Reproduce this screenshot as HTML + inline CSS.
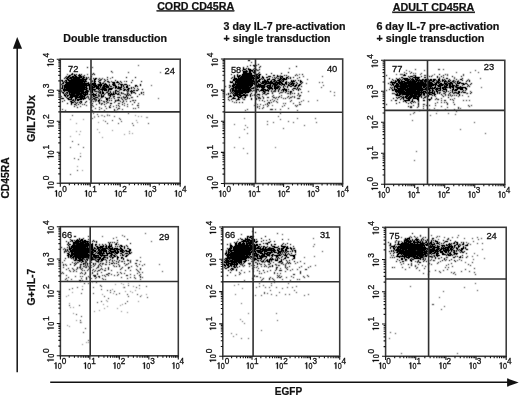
<!DOCTYPE html><html><head><meta charset="utf-8"><style>html,body{margin:0;padding:0;background:#fff;}svg{display:block;will-change:transform;}</style></head><body>
<svg width="520" height="396" viewBox="0 0 520 396" font-family='"Liberation Sans", sans-serif' fill="#111">
<rect width="520" height="396" fill="#fff"/>
<defs><filter id="bl" x="-5%" y="-5%" width="110%" height="110%"><feConvolveMatrix order="3" kernelMatrix="1 3 1 3 12 3 1 3 1" divisor="20" edgeMode="none"/></filter><path id="one" d="M0 0V-6.2H-1.0L-2.1 -5.1V-4.6L-1.0 -5.3V0Z"/><path id="one2" d="M0 0V-6.4H-1.0L-2.1 -5.3V-4.8L-1.0 -5.5V0Z"/></defs>
<path d="M61 80h1v1h-1zM61 84h1v1h-1zM61 88h1v1h-1zM61 91h1v1h-1zM61 96h1v1h-1zM61 98h1v1h-1zM62 80h1v1h-1zM62 81h1v1h-1zM62 83h1v1h-1zM62 85h1v1h-1zM62 86h1v1h-1zM62 87h1v1h-1zM62 88h1v1h-1zM62 92h1v1h-1zM62 98h1v1h-1zM62 101h1v1h-1zM63 82h1v1h-1zM63 83h1v1h-1zM63 89h1v1h-1zM63 90h1v1h-1zM63 92h1v1h-1zM63 93h1v1h-1zM63 98h1v1h-1zM64 78h1v1h-1zM64 81h1v1h-1zM64 85h1v1h-1zM64 86h1v1h-1zM64 87h1v1h-1zM64 88h1v1h-1zM64 89h1v1h-1zM64 90h1v1h-1zM64 91h1v1h-1zM64 94h1v1h-1zM64 95h1v1h-1zM64 100h1v1h-1zM65 77h1v1h-1zM65 80h1v1h-1zM65 82h1v1h-1zM65 84h1v1h-1zM65 85h1v1h-1zM65 86h1v1h-1zM65 87h1v1h-1zM65 89h1v1h-1zM65 90h1v1h-1zM65 93h1v1h-1zM65 95h1v1h-1zM65 96h1v1h-1zM66 76h1v1h-1zM66 78h1v1h-1zM66 80h1v1h-1zM66 81h1v1h-1zM66 82h1v1h-1zM66 83h1v1h-1zM66 84h1v1h-1zM66 85h1v1h-1zM66 86h1v1h-1zM66 87h1v1h-1zM66 88h1v1h-1zM66 89h1v1h-1zM66 90h1v1h-1zM66 92h1v1h-1zM66 94h1v1h-1zM66 97h1v1h-1zM67 77h1v1h-1zM67 78h1v1h-1zM67 79h1v1h-1zM67 82h1v1h-1zM67 83h1v1h-1zM67 84h1v1h-1zM67 85h1v1h-1zM67 86h1v1h-1zM67 87h1v1h-1zM67 88h1v1h-1zM67 89h1v1h-1zM67 90h1v1h-1zM67 92h1v1h-1zM67 93h1v1h-1zM67 95h1v1h-1zM67 96h1v1h-1zM67 98h1v1h-1zM67 103h1v1h-1zM68 76h1v1h-1zM68 77h1v1h-1zM68 79h1v1h-1zM68 80h1v1h-1zM68 82h1v1h-1zM68 83h1v1h-1zM68 84h1v1h-1zM68 85h1v1h-1zM68 86h1v1h-1zM68 87h1v1h-1zM68 88h1v1h-1zM68 89h1v1h-1zM68 90h1v1h-1zM68 91h1v1h-1zM68 95h1v1h-1zM68 98h1v1h-1zM68 99h1v1h-1zM69 75h1v1h-1zM69 76h1v1h-1zM69 78h1v1h-1zM69 80h1v1h-1zM69 81h1v1h-1zM69 82h1v1h-1zM69 83h1v1h-1zM69 84h1v1h-1zM69 85h1v1h-1zM69 86h1v1h-1zM69 87h1v1h-1zM69 88h1v1h-1zM69 89h1v1h-1zM69 90h1v1h-1zM69 91h1v1h-1zM69 92h1v1h-1zM69 93h1v1h-1zM69 94h1v1h-1zM69 97h1v1h-1zM69 99h1v1h-1zM70 75h1v1h-1zM70 77h1v1h-1zM70 78h1v1h-1zM70 80h1v1h-1zM70 81h1v1h-1zM70 82h1v1h-1zM70 83h1v1h-1zM70 84h1v1h-1zM70 85h1v1h-1zM70 86h1v1h-1zM70 87h1v1h-1zM70 88h1v1h-1zM70 89h1v1h-1zM70 90h1v1h-1zM70 91h1v1h-1zM70 92h1v1h-1zM70 94h1v1h-1zM70 95h1v1h-1zM70 96h1v1h-1zM70 97h1v1h-1zM70 99h1v1h-1zM70 101h1v1h-1zM71 74h1v1h-1zM71 77h1v1h-1zM71 78h1v1h-1zM71 79h1v1h-1zM71 80h1v1h-1zM71 81h1v1h-1zM71 82h1v1h-1zM71 83h1v1h-1zM71 84h1v1h-1zM71 85h1v1h-1zM71 86h1v1h-1zM71 87h1v1h-1zM71 88h1v1h-1zM71 89h1v1h-1zM71 90h1v1h-1zM71 91h1v1h-1zM71 92h1v1h-1zM71 93h1v1h-1zM71 94h1v1h-1zM71 95h1v1h-1zM71 96h1v1h-1zM71 97h1v1h-1zM71 98h1v1h-1zM71 99h1v1h-1zM71 101h1v1h-1zM71 102h1v1h-1zM71 103h1v1h-1zM71 104h1v1h-1zM72 73h1v1h-1zM72 74h1v1h-1zM72 76h1v1h-1zM72 77h1v1h-1zM72 79h1v1h-1zM72 80h1v1h-1zM72 81h1v1h-1zM72 82h1v1h-1zM72 83h1v1h-1zM72 84h1v1h-1zM72 85h1v1h-1zM72 86h1v1h-1zM72 87h1v1h-1zM72 88h1v1h-1zM72 89h1v1h-1zM72 90h1v1h-1zM72 91h1v1h-1zM72 92h1v1h-1zM72 93h1v1h-1zM72 94h1v1h-1zM72 95h1v1h-1zM72 96h1v1h-1zM72 97h1v1h-1zM72 100h1v1h-1zM72 102h1v1h-1zM73 76h1v1h-1zM73 77h1v1h-1zM73 78h1v1h-1zM73 79h1v1h-1zM73 80h1v1h-1zM73 81h1v1h-1zM73 82h1v1h-1zM73 83h1v1h-1zM73 84h1v1h-1zM73 85h1v1h-1zM73 86h1v1h-1zM73 87h1v1h-1zM73 88h1v1h-1zM73 89h1v1h-1zM73 90h1v1h-1zM73 91h1v1h-1zM73 92h1v1h-1zM73 93h1v1h-1zM73 94h1v1h-1zM73 95h1v1h-1zM73 96h1v1h-1zM73 99h1v1h-1zM73 100h1v1h-1zM73 102h1v1h-1zM74 74h1v1h-1zM74 75h1v1h-1zM74 77h1v1h-1zM74 78h1v1h-1zM74 79h1v1h-1zM74 80h1v1h-1zM74 81h1v1h-1zM74 82h1v1h-1zM74 83h1v1h-1zM74 84h1v1h-1zM74 85h1v1h-1zM74 86h1v1h-1zM74 87h1v1h-1zM74 88h1v1h-1zM74 89h1v1h-1zM74 90h1v1h-1zM74 91h1v1h-1zM74 92h1v1h-1zM74 93h1v1h-1zM74 94h1v1h-1zM74 95h1v1h-1zM74 96h1v1h-1zM74 101h1v1h-1zM74 104h1v1h-1zM74 106h1v1h-1zM75 75h1v1h-1zM75 76h1v1h-1zM75 77h1v1h-1zM75 78h1v1h-1zM75 79h1v1h-1zM75 80h1v1h-1zM75 81h1v1h-1zM75 82h1v1h-1zM75 83h1v1h-1zM75 84h1v1h-1zM75 85h1v1h-1zM75 86h1v1h-1zM75 87h1v1h-1zM75 88h1v1h-1zM75 89h1v1h-1zM75 90h1v1h-1zM75 91h1v1h-1zM75 92h1v1h-1zM75 93h1v1h-1zM75 95h1v1h-1zM75 96h1v1h-1zM75 97h1v1h-1zM75 98h1v1h-1zM75 99h1v1h-1zM75 100h1v1h-1zM75 102h1v1h-1zM75 104h1v1h-1zM76 74h1v1h-1zM76 76h1v1h-1zM76 77h1v1h-1zM76 78h1v1h-1zM76 79h1v1h-1zM76 80h1v1h-1zM76 81h1v1h-1zM76 82h1v1h-1zM76 83h1v1h-1zM76 84h1v1h-1zM76 85h1v1h-1zM76 86h1v1h-1zM76 87h1v1h-1zM76 88h1v1h-1zM76 89h1v1h-1zM76 90h1v1h-1zM76 91h1v1h-1zM76 92h1v1h-1zM76 93h1v1h-1zM76 94h1v1h-1zM76 95h1v1h-1zM76 96h1v1h-1zM76 97h1v1h-1zM76 98h1v1h-1zM76 103h1v1h-1zM77 77h1v1h-1zM77 78h1v1h-1zM77 79h1v1h-1zM77 80h1v1h-1zM77 81h1v1h-1zM77 82h1v1h-1zM77 83h1v1h-1zM77 84h1v1h-1zM77 85h1v1h-1zM77 86h1v1h-1zM77 87h1v1h-1zM77 88h1v1h-1zM77 89h1v1h-1zM77 90h1v1h-1zM77 91h1v1h-1zM77 92h1v1h-1zM77 93h1v1h-1zM77 94h1v1h-1zM77 95h1v1h-1zM77 96h1v1h-1zM77 97h1v1h-1zM77 99h1v1h-1zM77 100h1v1h-1zM77 102h1v1h-1zM77 107h1v1h-1zM78 75h1v1h-1zM78 77h1v1h-1zM78 78h1v1h-1zM78 79h1v1h-1zM78 80h1v1h-1zM78 81h1v1h-1zM78 82h1v1h-1zM78 83h1v1h-1zM78 84h1v1h-1zM78 85h1v1h-1zM78 86h1v1h-1zM78 87h1v1h-1zM78 88h1v1h-1zM78 89h1v1h-1zM78 90h1v1h-1zM78 91h1v1h-1zM78 92h1v1h-1zM78 93h1v1h-1zM78 94h1v1h-1zM78 95h1v1h-1zM78 97h1v1h-1zM78 99h1v1h-1zM78 100h1v1h-1zM78 104h1v1h-1zM79 74h1v1h-1zM79 75h1v1h-1zM79 76h1v1h-1zM79 77h1v1h-1zM79 78h1v1h-1zM79 79h1v1h-1zM79 80h1v1h-1zM79 81h1v1h-1zM79 82h1v1h-1zM79 83h1v1h-1zM79 84h1v1h-1zM79 85h1v1h-1zM79 86h1v1h-1zM79 87h1v1h-1zM79 88h1v1h-1zM79 89h1v1h-1zM79 90h1v1h-1zM79 91h1v1h-1zM79 92h1v1h-1zM79 93h1v1h-1zM79 94h1v1h-1zM79 96h1v1h-1zM79 97h1v1h-1zM79 99h1v1h-1zM79 102h1v1h-1zM80 75h1v1h-1zM80 76h1v1h-1zM80 77h1v1h-1zM80 79h1v1h-1zM80 80h1v1h-1zM80 81h1v1h-1zM80 82h1v1h-1zM80 83h1v1h-1zM80 84h1v1h-1zM80 85h1v1h-1zM80 86h1v1h-1zM80 87h1v1h-1zM80 88h1v1h-1zM80 89h1v1h-1zM80 90h1v1h-1zM80 91h1v1h-1zM80 93h1v1h-1zM80 94h1v1h-1zM80 95h1v1h-1zM80 96h1v1h-1zM80 97h1v1h-1zM80 98h1v1h-1zM80 99h1v1h-1zM80 101h1v1h-1zM80 103h1v1h-1zM81 74h1v1h-1zM81 76h1v1h-1zM81 77h1v1h-1zM81 79h1v1h-1zM81 80h1v1h-1zM81 81h1v1h-1zM81 82h1v1h-1zM81 83h1v1h-1zM81 84h1v1h-1zM81 85h1v1h-1zM81 86h1v1h-1zM81 87h1v1h-1zM81 88h1v1h-1zM81 89h1v1h-1zM81 90h1v1h-1zM81 91h1v1h-1zM81 92h1v1h-1zM81 93h1v1h-1zM81 94h1v1h-1zM81 95h1v1h-1zM81 96h1v1h-1zM81 97h1v1h-1zM81 98h1v1h-1zM81 99h1v1h-1zM81 101h1v1h-1zM81 102h1v1h-1zM82 78h1v1h-1zM82 79h1v1h-1zM82 80h1v1h-1zM82 81h1v1h-1zM82 82h1v1h-1zM82 83h1v1h-1zM82 84h1v1h-1zM82 85h1v1h-1zM82 86h1v1h-1zM82 87h1v1h-1zM82 88h1v1h-1zM82 89h1v1h-1zM82 90h1v1h-1zM82 91h1v1h-1zM82 92h1v1h-1zM82 93h1v1h-1zM82 95h1v1h-1zM82 96h1v1h-1zM82 97h1v1h-1zM82 98h1v1h-1zM83 76h1v1h-1zM83 77h1v1h-1zM83 78h1v1h-1zM83 79h1v1h-1zM83 80h1v1h-1zM83 81h1v1h-1zM83 83h1v1h-1zM83 84h1v1h-1zM83 85h1v1h-1zM83 86h1v1h-1zM83 87h1v1h-1zM83 88h1v1h-1zM83 89h1v1h-1zM83 90h1v1h-1zM83 91h1v1h-1zM83 92h1v1h-1zM83 93h1v1h-1zM83 94h1v1h-1zM83 96h1v1h-1zM83 98h1v1h-1zM83 99h1v1h-1zM84 75h1v1h-1zM84 77h1v1h-1zM84 79h1v1h-1zM84 81h1v1h-1zM84 82h1v1h-1zM84 83h1v1h-1zM84 84h1v1h-1zM84 85h1v1h-1zM84 86h1v1h-1zM84 87h1v1h-1zM84 88h1v1h-1zM84 89h1v1h-1zM84 92h1v1h-1zM84 94h1v1h-1zM84 95h1v1h-1zM84 96h1v1h-1zM84 97h1v1h-1zM84 98h1v1h-1zM84 104h1v1h-1zM85 79h1v1h-1zM85 80h1v1h-1zM85 81h1v1h-1zM85 83h1v1h-1zM85 84h1v1h-1zM85 85h1v1h-1zM85 87h1v1h-1zM85 89h1v1h-1zM85 91h1v1h-1zM85 92h1v1h-1zM85 93h1v1h-1zM85 94h1v1h-1zM85 95h1v1h-1zM85 98h1v1h-1zM85 102h1v1h-1zM86 77h1v1h-1zM86 78h1v1h-1zM86 79h1v1h-1zM86 81h1v1h-1zM86 83h1v1h-1zM86 84h1v1h-1zM86 85h1v1h-1zM86 86h1v1h-1zM86 87h1v1h-1zM86 88h1v1h-1zM86 89h1v1h-1zM86 90h1v1h-1zM86 91h1v1h-1zM86 92h1v1h-1zM86 94h1v1h-1zM86 97h1v1h-1zM86 101h1v1h-1zM87 67h1v1h-1zM87 83h1v1h-1zM87 85h1v1h-1zM87 88h1v1h-1zM87 90h1v1h-1zM87 91h1v1h-1zM87 92h1v1h-1zM87 93h1v1h-1zM87 94h1v1h-1zM87 96h1v1h-1zM88 77h1v1h-1zM88 82h1v1h-1zM88 83h1v1h-1zM88 84h1v1h-1zM88 85h1v1h-1zM88 91h1v1h-1zM88 97h1v1h-1zM89 84h1v1h-1zM89 85h1v1h-1zM89 86h1v1h-1zM89 87h1v1h-1zM89 88h1v1h-1zM89 89h1v1h-1zM89 94h1v1h-1zM89 99h1v1h-1zM90 79h1v1h-1zM90 83h1v1h-1zM90 85h1v1h-1zM90 87h1v1h-1zM90 88h1v1h-1zM90 89h1v1h-1zM90 90h1v1h-1zM90 91h1v1h-1zM90 98h1v1h-1zM91 76h1v1h-1zM91 81h1v1h-1zM91 84h1v1h-1zM91 85h1v1h-1zM91 86h1v1h-1zM91 87h1v1h-1zM91 88h1v1h-1zM91 89h1v1h-1zM91 91h1v1h-1zM91 92h1v1h-1zM91 94h1v1h-1zM91 95h1v1h-1zM91 96h1v1h-1zM91 100h1v1h-1zM91 101h1v1h-1zM91 105h1v1h-1zM91 107h1v1h-1zM92 74h1v1h-1zM92 81h1v1h-1zM92 83h1v1h-1zM92 84h1v1h-1zM92 86h1v1h-1zM92 87h1v1h-1zM92 88h1v1h-1zM92 89h1v1h-1zM92 90h1v1h-1zM92 91h1v1h-1zM92 92h1v1h-1zM92 94h1v1h-1zM92 99h1v1h-1zM92 103h1v1h-1zM93 73h1v1h-1zM93 78h1v1h-1zM93 83h1v1h-1zM93 84h1v1h-1zM93 85h1v1h-1zM93 87h1v1h-1zM93 89h1v1h-1zM93 93h1v1h-1zM93 94h1v1h-1zM93 95h1v1h-1zM93 96h1v1h-1zM93 98h1v1h-1zM93 101h1v1h-1zM94 74h1v1h-1zM94 79h1v1h-1zM94 80h1v1h-1zM94 81h1v1h-1zM94 82h1v1h-1zM94 83h1v1h-1zM94 84h1v1h-1zM94 85h1v1h-1zM94 86h1v1h-1zM94 87h1v1h-1zM94 89h1v1h-1zM94 90h1v1h-1zM94 94h1v1h-1zM94 96h1v1h-1zM94 98h1v1h-1zM94 99h1v1h-1zM95 78h1v1h-1zM95 79h1v1h-1zM95 81h1v1h-1zM95 83h1v1h-1zM95 84h1v1h-1zM95 85h1v1h-1zM95 86h1v1h-1zM95 89h1v1h-1zM95 91h1v1h-1zM95 94h1v1h-1zM95 95h1v1h-1zM95 97h1v1h-1zM95 100h1v1h-1zM96 78h1v1h-1zM96 85h1v1h-1zM96 86h1v1h-1zM96 87h1v1h-1zM96 88h1v1h-1zM96 91h1v1h-1zM96 93h1v1h-1zM96 95h1v1h-1zM96 97h1v1h-1zM97 86h1v1h-1zM97 87h1v1h-1zM97 88h1v1h-1zM97 97h1v1h-1zM98 81h1v1h-1zM98 84h1v1h-1zM98 85h1v1h-1zM98 86h1v1h-1zM98 87h1v1h-1zM98 88h1v1h-1zM98 89h1v1h-1zM98 91h1v1h-1zM98 96h1v1h-1zM98 100h1v1h-1zM98 101h1v1h-1zM99 80h1v1h-1zM99 82h1v1h-1zM99 84h1v1h-1zM99 85h1v1h-1zM99 88h1v1h-1zM99 90h1v1h-1zM99 92h1v1h-1zM99 99h1v1h-1zM99 100h1v1h-1zM99 102h1v1h-1zM99 103h1v1h-1zM100 80h1v1h-1zM100 82h1v1h-1zM100 83h1v1h-1zM100 84h1v1h-1zM100 85h1v1h-1zM100 86h1v1h-1zM100 87h1v1h-1zM100 89h1v1h-1zM100 91h1v1h-1zM100 92h1v1h-1zM100 93h1v1h-1zM101 79h1v1h-1zM101 84h1v1h-1zM101 85h1v1h-1zM101 89h1v1h-1zM101 94h1v1h-1zM101 95h1v1h-1zM101 96h1v1h-1zM101 97h1v1h-1zM101 100h1v1h-1zM101 104h1v1h-1zM102 83h1v1h-1zM102 87h1v1h-1zM102 88h1v1h-1zM102 89h1v1h-1zM102 90h1v1h-1zM102 91h1v1h-1zM102 92h1v1h-1zM102 93h1v1h-1zM102 96h1v1h-1zM103 83h1v1h-1zM103 85h1v1h-1zM103 86h1v1h-1zM103 87h1v1h-1zM103 88h1v1h-1zM103 89h1v1h-1zM103 92h1v1h-1zM103 93h1v1h-1zM103 95h1v1h-1zM103 96h1v1h-1zM103 101h1v1h-1zM104 79h1v1h-1zM104 81h1v1h-1zM104 84h1v1h-1zM104 85h1v1h-1zM104 86h1v1h-1zM104 87h1v1h-1zM104 88h1v1h-1zM104 89h1v1h-1zM104 90h1v1h-1zM104 94h1v1h-1zM104 104h1v1h-1zM105 80h1v1h-1zM105 83h1v1h-1zM105 84h1v1h-1zM105 86h1v1h-1zM105 88h1v1h-1zM105 89h1v1h-1zM105 90h1v1h-1zM105 97h1v1h-1zM106 84h1v1h-1zM106 85h1v1h-1zM106 86h1v1h-1zM106 87h1v1h-1zM106 89h1v1h-1zM106 90h1v1h-1zM106 92h1v1h-1zM106 98h1v1h-1zM106 99h1v1h-1zM106 101h1v1h-1zM107 77h1v1h-1zM107 79h1v1h-1zM107 81h1v1h-1zM107 85h1v1h-1zM107 86h1v1h-1zM107 87h1v1h-1zM107 92h1v1h-1zM107 98h1v1h-1zM107 99h1v1h-1zM107 100h1v1h-1zM107 102h1v1h-1zM108 81h1v1h-1zM108 86h1v1h-1zM108 87h1v1h-1zM108 89h1v1h-1zM108 90h1v1h-1zM108 91h1v1h-1zM108 93h1v1h-1zM108 94h1v1h-1zM109 82h1v1h-1zM109 84h1v1h-1zM109 85h1v1h-1zM109 88h1v1h-1zM109 89h1v1h-1zM109 93h1v1h-1zM109 95h1v1h-1zM109 97h1v1h-1zM109 98h1v1h-1zM109 100h1v1h-1zM110 86h1v1h-1zM110 88h1v1h-1zM110 89h1v1h-1zM110 91h1v1h-1zM110 92h1v1h-1zM110 94h1v1h-1zM110 95h1v1h-1zM110 96h1v1h-1zM110 103h1v1h-1zM110 105h1v1h-1zM111 71h1v1h-1zM111 86h1v1h-1zM111 88h1v1h-1zM111 89h1v1h-1zM111 93h1v1h-1zM111 94h1v1h-1zM111 100h1v1h-1zM111 103h1v1h-1zM112 77h1v1h-1zM112 82h1v1h-1zM112 84h1v1h-1zM112 88h1v1h-1zM112 94h1v1h-1zM113 82h1v1h-1zM113 83h1v1h-1zM113 84h1v1h-1zM113 85h1v1h-1zM113 87h1v1h-1zM113 92h1v1h-1zM113 93h1v1h-1zM113 94h1v1h-1zM113 96h1v1h-1zM114 82h1v1h-1zM114 83h1v1h-1zM114 84h1v1h-1zM114 85h1v1h-1zM114 94h1v1h-1zM114 96h1v1h-1zM114 98h1v1h-1zM115 80h1v1h-1zM115 85h1v1h-1zM115 86h1v1h-1zM115 87h1v1h-1zM115 88h1v1h-1zM115 90h1v1h-1zM115 91h1v1h-1zM115 92h1v1h-1zM115 93h1v1h-1zM115 100h1v1h-1zM115 101h1v1h-1zM116 82h1v1h-1zM116 86h1v1h-1zM116 87h1v1h-1zM116 90h1v1h-1zM116 93h1v1h-1zM116 111h1v1h-1zM117 81h1v1h-1zM117 82h1v1h-1zM117 88h1v1h-1zM117 91h1v1h-1zM117 94h1v1h-1zM117 100h1v1h-1zM118 82h1v1h-1zM118 84h1v1h-1zM118 86h1v1h-1zM118 87h1v1h-1zM118 88h1v1h-1zM118 91h1v1h-1zM118 93h1v1h-1zM118 94h1v1h-1zM118 97h1v1h-1zM118 99h1v1h-1zM118 100h1v1h-1zM118 103h1v1h-1zM118 105h1v1h-1zM119 83h1v1h-1zM119 87h1v1h-1zM119 88h1v1h-1zM119 97h1v1h-1zM120 81h1v1h-1zM120 84h1v1h-1zM120 87h1v1h-1zM120 88h1v1h-1zM120 89h1v1h-1zM121 82h1v1h-1zM121 84h1v1h-1zM121 85h1v1h-1zM121 86h1v1h-1zM121 87h1v1h-1zM121 89h1v1h-1zM121 92h1v1h-1zM121 93h1v1h-1zM121 98h1v1h-1zM122 84h1v1h-1zM122 99h1v1h-1zM122 102h1v1h-1zM122 104h1v1h-1zM123 85h1v1h-1zM123 86h1v1h-1zM123 88h1v1h-1zM123 90h1v1h-1zM123 93h1v1h-1zM123 101h1v1h-1zM124 84h1v1h-1zM124 87h1v1h-1zM124 89h1v1h-1zM124 90h1v1h-1zM124 97h1v1h-1zM125 84h1v1h-1zM125 89h1v1h-1zM125 94h1v1h-1zM125 97h1v1h-1zM125 99h1v1h-1zM126 77h1v1h-1zM126 81h1v1h-1zM126 84h1v1h-1zM126 86h1v1h-1zM126 87h1v1h-1zM126 90h1v1h-1zM126 95h1v1h-1zM126 96h1v1h-1zM127 85h1v1h-1zM127 86h1v1h-1zM127 87h1v1h-1zM127 89h1v1h-1zM127 91h1v1h-1zM127 93h1v1h-1zM127 94h1v1h-1zM127 97h1v1h-1zM127 98h1v1h-1zM128 88h1v1h-1zM128 89h1v1h-1zM128 90h1v1h-1zM128 95h1v1h-1zM129 85h1v1h-1zM129 88h1v1h-1zM129 94h1v1h-1zM129 98h1v1h-1zM130 91h1v1h-1zM130 95h1v1h-1zM130 101h1v1h-1zM131 82h1v1h-1zM131 87h1v1h-1zM131 88h1v1h-1zM131 90h1v1h-1zM131 91h1v1h-1zM131 92h1v1h-1zM131 93h1v1h-1zM131 97h1v1h-1zM132 80h1v1h-1zM132 91h1v1h-1zM133 87h1v1h-1zM133 90h1v1h-1zM133 92h1v1h-1zM133 100h1v1h-1zM134 88h1v1h-1zM134 90h1v1h-1zM134 92h1v1h-1zM134 102h1v1h-1zM135 77h1v1h-1zM135 85h1v1h-1zM135 86h1v1h-1zM135 93h1v1h-1zM135 100h1v1h-1zM136 85h1v1h-1zM136 90h1v1h-1zM137 86h1v1h-1zM137 90h1v1h-1zM137 96h1v1h-1zM137 105h1v1h-1zM138 89h1v1h-1zM139 94h1v1h-1zM140 84h1v1h-1zM140 85h1v1h-1zM141 81h1v1h-1zM141 92h1v1h-1zM141 93h1v1h-1zM142 89h1v1h-1zM143 92h1v1h-1z" fill="#000" filter="url(#bl)"/>
<path d="M61 90h1v1h-1zM62 109h1v1h-1zM63 85h1v1h-1zM65 110h1v1h-1zM67 74h1v1h-1zM75 94h1v1h-1zM76 105h1v1h-1zM80 106h1v1h-1zM82 76h1v1h-1zM82 104h1v1h-1zM86 105h1v1h-1zM87 74h1v1h-1zM87 78h1v1h-1zM88 90h1v1h-1zM88 96h1v1h-1zM88 98h1v1h-1zM89 79h1v1h-1zM90 78h1v1h-1zM90 92h1v1h-1zM90 102h1v1h-1zM91 97h1v1h-1zM91 104h1v1h-1zM91 110h1v1h-1zM92 67h1v1h-1zM92 80h1v1h-1zM92 97h1v1h-1zM92 105h1v1h-1zM92 110h1v1h-1zM93 106h1v1h-1zM94 91h1v1h-1zM95 98h1v1h-1zM95 99h1v1h-1zM95 101h1v1h-1zM95 108h1v1h-1zM96 99h1v1h-1zM96 100h1v1h-1zM96 104h1v1h-1zM97 84h1v1h-1zM97 91h1v1h-1zM98 79h1v1h-1zM98 92h1v1h-1zM98 94h1v1h-1zM98 95h1v1h-1zM98 98h1v1h-1zM99 78h1v1h-1zM99 93h1v1h-1zM99 95h1v1h-1zM99 96h1v1h-1zM99 101h1v1h-1zM99 107h1v1h-1zM99 109h1v1h-1zM100 79h1v1h-1zM100 98h1v1h-1zM101 88h1v1h-1zM101 103h1v1h-1zM101 108h1v1h-1zM102 78h1v1h-1zM102 86h1v1h-1zM102 97h1v1h-1zM102 103h1v1h-1zM103 82h1v1h-1zM104 101h1v1h-1zM104 102h1v1h-1zM104 110h1v1h-1zM105 93h1v1h-1zM105 106h1v1h-1zM106 88h1v1h-1zM106 103h1v1h-1zM106 108h1v1h-1zM107 91h1v1h-1zM108 82h1v1h-1zM108 88h1v1h-1zM108 95h1v1h-1zM108 98h1v1h-1zM108 102h1v1h-1zM109 106h1v1h-1zM109 107h1v1h-1zM110 107h1v1h-1zM111 81h1v1h-1zM111 98h1v1h-1zM112 95h1v1h-1zM113 91h1v1h-1zM113 97h1v1h-1zM113 106h1v1h-1zM114 102h1v1h-1zM114 109h1v1h-1zM114 110h1v1h-1zM115 84h1v1h-1zM115 111h1v1h-1zM116 100h1v1h-1zM116 105h1v1h-1zM116 107h1v1h-1zM117 97h1v1h-1zM117 109h1v1h-1zM118 108h1v1h-1zM119 90h1v1h-1zM119 92h1v1h-1zM119 94h1v1h-1zM119 100h1v1h-1zM119 103h1v1h-1zM119 106h1v1h-1zM119 108h1v1h-1zM120 95h1v1h-1zM120 101h1v1h-1zM121 97h1v1h-1zM122 93h1v1h-1zM122 109h1v1h-1zM123 96h1v1h-1zM123 97h1v1h-1zM123 100h1v1h-1zM124 94h1v1h-1zM124 98h1v1h-1zM124 103h1v1h-1zM124 105h1v1h-1zM126 99h1v1h-1zM126 101h1v1h-1zM127 92h1v1h-1zM127 95h1v1h-1zM127 104h1v1h-1zM127 106h1v1h-1zM128 72h1v1h-1zM128 91h1v1h-1zM128 93h1v1h-1zM132 97h1v1h-1zM132 100h1v1h-1zM132 104h1v1h-1zM133 108h1v1h-1zM135 108h1v1h-1zM137 88h1v1h-1zM138 103h1v1h-1zM138 105h1v1h-1zM138 107h1v1h-1zM143 94h1v1h-1z" fill="#333" filter="url(#bl)"/>
<path d="M70 147h1v1h-1zM70 174h1v1h-1zM72 115h1v1h-1zM72 141h1v1h-1zM74 158h1v1h-1zM77 170h1v1h-1zM78 144h1v1h-1zM78 159h1v1h-1zM80 156h1v1h-1zM83 147h1v1h-1zM92 118h1v1h-1zM93 113h1v1h-1zM97 114h1v1h-1zM98 116h1v1h-1zM104 116h1v1h-1zM105 121h1v1h-1zM107 115h1v1h-1zM107 123h1v1h-1zM109 115h1v1h-1zM112 120h1v1h-1zM114 116h1v1h-1zM118 123h1v1h-1zM119 118h1v1h-1zM120 119h1v1h-1zM121 121h1v1h-1zM128 113h1v1h-1zM132 123h1v1h-1zM133 125h1v1h-1zM148 123h1v1h-1z" fill="#4a4a4a" filter="url(#bl)"/>
<path d="M110 78h1v1h-1zM112 72h1v1h-1zM119 89h1v1h-1zM124 81h1v1h-1zM132 92h1v1h-1zM138 65h1v1h-1zM151 85h1v1h-1zM158 98h1v1h-1zM160 72h1v1h-1z" fill="#555" filter="url(#bl)"/>
<path d="M70 119h1v1h-1zM70 136h1v1h-1zM76 123h1v1h-1zM76 131h1v1h-1zM77 166h1v1h-1zM79 134h1v1h-1zM80 131h1v1h-1zM80 153h1v1h-1zM82 170h1v1h-1zM83 119h1v1h-1zM94 116h1v1h-1zM94 117h1v1h-1zM97 129h1v1h-1zM98 122h1v1h-1zM99 132h1v1h-1zM101 115h1v1h-1zM102 115h1v1h-1zM102 137h1v1h-1zM103 120h1v1h-1zM107 114h1v1h-1zM112 130h1v1h-1zM124 134h1v1h-1zM129 131h1v1h-1zM129 133h1v1h-1zM132 133h1v1h-1zM135 115h1v1h-1zM136 120h1v1h-1zM137 122h1v1h-1zM138 116h1v1h-1zM141 116h1v1h-1zM146 117h1v1h-1zM147 117h1v1h-1z" fill="#999" filter="url(#bl)"/>
<path d="M225 86h1v1h-1zM228 93h1v1h-1zM228 94h1v1h-1zM228 97h1v1h-1zM228 99h1v1h-1zM229 85h1v1h-1zM229 87h1v1h-1zM229 96h1v1h-1zM230 81h1v1h-1zM230 82h1v1h-1zM230 86h1v1h-1zM230 89h1v1h-1zM230 90h1v1h-1zM230 91h1v1h-1zM230 93h1v1h-1zM230 95h1v1h-1zM230 96h1v1h-1zM231 74h1v1h-1zM231 78h1v1h-1zM231 82h1v1h-1zM231 88h1v1h-1zM231 92h1v1h-1zM231 96h1v1h-1zM231 99h1v1h-1zM232 77h1v1h-1zM232 81h1v1h-1zM232 82h1v1h-1zM232 85h1v1h-1zM232 86h1v1h-1zM232 88h1v1h-1zM232 89h1v1h-1zM232 90h1v1h-1zM232 91h1v1h-1zM232 93h1v1h-1zM232 98h1v1h-1zM233 79h1v1h-1zM233 80h1v1h-1zM233 83h1v1h-1zM233 84h1v1h-1zM233 85h1v1h-1zM233 86h1v1h-1zM233 87h1v1h-1zM233 88h1v1h-1zM233 89h1v1h-1zM233 90h1v1h-1zM233 92h1v1h-1zM233 94h1v1h-1zM233 95h1v1h-1zM233 97h1v1h-1zM233 98h1v1h-1zM234 75h1v1h-1zM234 76h1v1h-1zM234 77h1v1h-1zM234 78h1v1h-1zM234 79h1v1h-1zM234 80h1v1h-1zM234 84h1v1h-1zM234 85h1v1h-1zM234 87h1v1h-1zM234 90h1v1h-1zM234 91h1v1h-1zM234 93h1v1h-1zM234 95h1v1h-1zM234 96h1v1h-1zM234 98h1v1h-1zM235 78h1v1h-1zM235 79h1v1h-1zM235 81h1v1h-1zM235 82h1v1h-1zM235 83h1v1h-1zM235 84h1v1h-1zM235 86h1v1h-1zM235 87h1v1h-1zM235 88h1v1h-1zM235 89h1v1h-1zM235 90h1v1h-1zM235 91h1v1h-1zM235 92h1v1h-1zM235 93h1v1h-1zM235 94h1v1h-1zM235 95h1v1h-1zM235 98h1v1h-1zM236 78h1v1h-1zM236 79h1v1h-1zM236 80h1v1h-1zM236 81h1v1h-1zM236 82h1v1h-1zM236 84h1v1h-1zM236 85h1v1h-1zM236 86h1v1h-1zM236 87h1v1h-1zM236 88h1v1h-1zM236 89h1v1h-1zM236 90h1v1h-1zM236 91h1v1h-1zM236 92h1v1h-1zM236 93h1v1h-1zM236 94h1v1h-1zM236 95h1v1h-1zM236 100h1v1h-1zM236 102h1v1h-1zM237 74h1v1h-1zM237 75h1v1h-1zM237 76h1v1h-1zM237 79h1v1h-1zM237 80h1v1h-1zM237 81h1v1h-1zM237 82h1v1h-1zM237 83h1v1h-1zM237 84h1v1h-1zM237 85h1v1h-1zM237 86h1v1h-1zM237 87h1v1h-1zM237 88h1v1h-1zM237 90h1v1h-1zM237 91h1v1h-1zM237 92h1v1h-1zM237 93h1v1h-1zM237 94h1v1h-1zM237 95h1v1h-1zM237 96h1v1h-1zM237 99h1v1h-1zM238 76h1v1h-1zM238 77h1v1h-1zM238 78h1v1h-1zM238 79h1v1h-1zM238 80h1v1h-1zM238 81h1v1h-1zM238 82h1v1h-1zM238 83h1v1h-1zM238 84h1v1h-1zM238 85h1v1h-1zM238 86h1v1h-1zM238 87h1v1h-1zM238 88h1v1h-1zM238 89h1v1h-1zM238 90h1v1h-1zM238 91h1v1h-1zM238 92h1v1h-1zM238 94h1v1h-1zM238 96h1v1h-1zM238 97h1v1h-1zM238 98h1v1h-1zM238 99h1v1h-1zM239 75h1v1h-1zM239 76h1v1h-1zM239 78h1v1h-1zM239 79h1v1h-1zM239 80h1v1h-1zM239 81h1v1h-1zM239 82h1v1h-1zM239 83h1v1h-1zM239 84h1v1h-1zM239 85h1v1h-1zM239 86h1v1h-1zM239 87h1v1h-1zM239 88h1v1h-1zM239 89h1v1h-1zM239 90h1v1h-1zM239 91h1v1h-1zM239 92h1v1h-1zM239 93h1v1h-1zM239 94h1v1h-1zM239 95h1v1h-1zM239 97h1v1h-1zM239 99h1v1h-1zM239 102h1v1h-1zM240 75h1v1h-1zM240 77h1v1h-1zM240 78h1v1h-1zM240 79h1v1h-1zM240 80h1v1h-1zM240 81h1v1h-1zM240 82h1v1h-1zM240 83h1v1h-1zM240 84h1v1h-1zM240 85h1v1h-1zM240 86h1v1h-1zM240 87h1v1h-1zM240 88h1v1h-1zM240 89h1v1h-1zM240 90h1v1h-1zM240 91h1v1h-1zM240 92h1v1h-1zM240 93h1v1h-1zM240 94h1v1h-1zM240 95h1v1h-1zM240 96h1v1h-1zM240 97h1v1h-1zM241 76h1v1h-1zM241 77h1v1h-1zM241 78h1v1h-1zM241 79h1v1h-1zM241 80h1v1h-1zM241 81h1v1h-1zM241 82h1v1h-1zM241 83h1v1h-1zM241 84h1v1h-1zM241 85h1v1h-1zM241 86h1v1h-1zM241 87h1v1h-1zM241 88h1v1h-1zM241 90h1v1h-1zM241 91h1v1h-1zM241 92h1v1h-1zM241 93h1v1h-1zM241 95h1v1h-1zM241 96h1v1h-1zM242 70h1v1h-1zM242 74h1v1h-1zM242 75h1v1h-1zM242 76h1v1h-1zM242 77h1v1h-1zM242 78h1v1h-1zM242 79h1v1h-1zM242 80h1v1h-1zM242 81h1v1h-1zM242 82h1v1h-1zM242 83h1v1h-1zM242 84h1v1h-1zM242 85h1v1h-1zM242 86h1v1h-1zM242 87h1v1h-1zM242 88h1v1h-1zM242 89h1v1h-1zM242 90h1v1h-1zM242 91h1v1h-1zM242 92h1v1h-1zM242 93h1v1h-1zM242 95h1v1h-1zM242 98h1v1h-1zM242 102h1v1h-1zM243 67h1v1h-1zM243 68h1v1h-1zM243 69h1v1h-1zM243 71h1v1h-1zM243 72h1v1h-1zM243 73h1v1h-1zM243 74h1v1h-1zM243 75h1v1h-1zM243 76h1v1h-1zM243 77h1v1h-1zM243 78h1v1h-1zM243 79h1v1h-1zM243 80h1v1h-1zM243 81h1v1h-1zM243 82h1v1h-1zM243 83h1v1h-1zM243 84h1v1h-1zM243 85h1v1h-1zM243 86h1v1h-1zM243 87h1v1h-1zM243 88h1v1h-1zM243 89h1v1h-1zM243 90h1v1h-1zM243 91h1v1h-1zM243 92h1v1h-1zM243 94h1v1h-1zM243 95h1v1h-1zM244 69h1v1h-1zM244 71h1v1h-1zM244 72h1v1h-1zM244 73h1v1h-1zM244 74h1v1h-1zM244 75h1v1h-1zM244 76h1v1h-1zM244 77h1v1h-1zM244 78h1v1h-1zM244 79h1v1h-1zM244 80h1v1h-1zM244 81h1v1h-1zM244 82h1v1h-1zM244 83h1v1h-1zM244 84h1v1h-1zM244 85h1v1h-1zM244 86h1v1h-1zM244 87h1v1h-1zM244 88h1v1h-1zM244 89h1v1h-1zM244 90h1v1h-1zM244 91h1v1h-1zM244 92h1v1h-1zM244 94h1v1h-1zM244 95h1v1h-1zM244 97h1v1h-1zM244 99h1v1h-1zM245 69h1v1h-1zM245 71h1v1h-1zM245 72h1v1h-1zM245 73h1v1h-1zM245 74h1v1h-1zM245 75h1v1h-1zM245 76h1v1h-1zM245 77h1v1h-1zM245 78h1v1h-1zM245 79h1v1h-1zM245 80h1v1h-1zM245 81h1v1h-1zM245 82h1v1h-1zM245 83h1v1h-1zM245 84h1v1h-1zM245 85h1v1h-1zM245 86h1v1h-1zM245 87h1v1h-1zM245 88h1v1h-1zM245 89h1v1h-1zM245 90h1v1h-1zM245 91h1v1h-1zM245 92h1v1h-1zM245 93h1v1h-1zM245 95h1v1h-1zM245 96h1v1h-1zM245 97h1v1h-1zM246 68h1v1h-1zM246 70h1v1h-1zM246 71h1v1h-1zM246 72h1v1h-1zM246 73h1v1h-1zM246 74h1v1h-1zM246 75h1v1h-1zM246 76h1v1h-1zM246 77h1v1h-1zM246 78h1v1h-1zM246 79h1v1h-1zM246 80h1v1h-1zM246 81h1v1h-1zM246 82h1v1h-1zM246 83h1v1h-1zM246 84h1v1h-1zM246 85h1v1h-1zM246 86h1v1h-1zM246 87h1v1h-1zM246 88h1v1h-1zM246 89h1v1h-1zM246 90h1v1h-1zM246 91h1v1h-1zM246 92h1v1h-1zM246 95h1v1h-1zM247 66h1v1h-1zM247 71h1v1h-1zM247 73h1v1h-1zM247 74h1v1h-1zM247 75h1v1h-1zM247 76h1v1h-1zM247 77h1v1h-1zM247 78h1v1h-1zM247 79h1v1h-1zM247 80h1v1h-1zM247 81h1v1h-1zM247 82h1v1h-1zM247 83h1v1h-1zM247 84h1v1h-1zM247 85h1v1h-1zM247 86h1v1h-1zM247 87h1v1h-1zM247 88h1v1h-1zM247 89h1v1h-1zM247 90h1v1h-1zM247 91h1v1h-1zM247 92h1v1h-1zM247 95h1v1h-1zM248 60h1v1h-1zM248 68h1v1h-1zM248 69h1v1h-1zM248 73h1v1h-1zM248 74h1v1h-1zM248 75h1v1h-1zM248 76h1v1h-1zM248 77h1v1h-1zM248 78h1v1h-1zM248 79h1v1h-1zM248 80h1v1h-1zM248 81h1v1h-1zM248 82h1v1h-1zM248 83h1v1h-1zM248 84h1v1h-1zM248 85h1v1h-1zM248 86h1v1h-1zM248 87h1v1h-1zM248 88h1v1h-1zM248 89h1v1h-1zM248 90h1v1h-1zM248 91h1v1h-1zM248 92h1v1h-1zM249 60h1v1h-1zM249 69h1v1h-1zM249 70h1v1h-1zM249 71h1v1h-1zM249 72h1v1h-1zM249 73h1v1h-1zM249 74h1v1h-1zM249 75h1v1h-1zM249 76h1v1h-1zM249 77h1v1h-1zM249 78h1v1h-1zM249 79h1v1h-1zM249 80h1v1h-1zM249 81h1v1h-1zM249 82h1v1h-1zM249 83h1v1h-1zM249 84h1v1h-1zM249 85h1v1h-1zM249 87h1v1h-1zM249 88h1v1h-1zM249 89h1v1h-1zM249 90h1v1h-1zM249 91h1v1h-1zM250 65h1v1h-1zM250 69h1v1h-1zM250 70h1v1h-1zM250 71h1v1h-1zM250 72h1v1h-1zM250 73h1v1h-1zM250 74h1v1h-1zM250 75h1v1h-1zM250 76h1v1h-1zM250 77h1v1h-1zM250 78h1v1h-1zM250 79h1v1h-1zM250 80h1v1h-1zM250 81h1v1h-1zM250 82h1v1h-1zM250 83h1v1h-1zM250 84h1v1h-1zM250 85h1v1h-1zM250 86h1v1h-1zM250 87h1v1h-1zM250 89h1v1h-1zM250 90h1v1h-1zM250 94h1v1h-1zM250 95h1v1h-1zM250 96h1v1h-1zM251 70h1v1h-1zM251 73h1v1h-1zM251 74h1v1h-1zM251 75h1v1h-1zM251 76h1v1h-1zM251 77h1v1h-1zM251 78h1v1h-1zM251 79h1v1h-1zM251 80h1v1h-1zM251 81h1v1h-1zM251 82h1v1h-1zM251 83h1v1h-1zM251 84h1v1h-1zM251 85h1v1h-1zM251 86h1v1h-1zM251 88h1v1h-1zM251 90h1v1h-1zM251 93h1v1h-1zM251 98h1v1h-1zM251 99h1v1h-1zM252 70h1v1h-1zM252 71h1v1h-1zM252 75h1v1h-1zM252 76h1v1h-1zM252 77h1v1h-1zM252 78h1v1h-1zM252 80h1v1h-1zM252 81h1v1h-1zM252 82h1v1h-1zM252 83h1v1h-1zM252 84h1v1h-1zM252 85h1v1h-1zM252 88h1v1h-1zM253 65h1v1h-1zM253 69h1v1h-1zM253 72h1v1h-1zM253 75h1v1h-1zM253 77h1v1h-1zM253 78h1v1h-1zM253 79h1v1h-1zM253 80h1v1h-1zM253 81h1v1h-1zM253 83h1v1h-1zM253 87h1v1h-1zM253 88h1v1h-1zM253 90h1v1h-1zM254 65h1v1h-1zM254 66h1v1h-1zM254 68h1v1h-1zM254 70h1v1h-1zM254 71h1v1h-1zM254 72h1v1h-1zM254 73h1v1h-1zM254 75h1v1h-1zM254 76h1v1h-1zM254 78h1v1h-1zM254 81h1v1h-1zM254 82h1v1h-1zM254 83h1v1h-1zM254 84h1v1h-1zM255 70h1v1h-1zM255 74h1v1h-1zM255 76h1v1h-1zM255 78h1v1h-1zM255 80h1v1h-1zM255 81h1v1h-1zM255 82h1v1h-1zM255 84h1v1h-1zM255 86h1v1h-1zM255 87h1v1h-1zM255 88h1v1h-1zM256 65h1v1h-1zM256 69h1v1h-1zM256 74h1v1h-1zM256 75h1v1h-1zM256 76h1v1h-1zM256 77h1v1h-1zM256 78h1v1h-1zM256 79h1v1h-1zM256 80h1v1h-1zM256 81h1v1h-1zM256 82h1v1h-1zM256 83h1v1h-1zM256 84h1v1h-1zM256 85h1v1h-1zM256 86h1v1h-1zM256 89h1v1h-1zM256 90h1v1h-1zM256 91h1v1h-1zM256 92h1v1h-1zM256 98h1v1h-1zM256 99h1v1h-1zM257 70h1v1h-1zM257 74h1v1h-1zM257 76h1v1h-1zM257 77h1v1h-1zM257 78h1v1h-1zM257 81h1v1h-1zM257 82h1v1h-1zM257 85h1v1h-1zM257 86h1v1h-1zM257 87h1v1h-1zM257 89h1v1h-1zM257 94h1v1h-1zM258 64h1v1h-1zM258 73h1v1h-1zM258 75h1v1h-1zM258 77h1v1h-1zM258 78h1v1h-1zM258 80h1v1h-1zM258 81h1v1h-1zM258 83h1v1h-1zM258 84h1v1h-1zM258 85h1v1h-1zM258 86h1v1h-1zM258 89h1v1h-1zM258 94h1v1h-1zM258 97h1v1h-1zM259 67h1v1h-1zM259 69h1v1h-1zM259 72h1v1h-1zM259 74h1v1h-1zM259 75h1v1h-1zM259 76h1v1h-1zM259 77h1v1h-1zM259 79h1v1h-1zM259 80h1v1h-1zM259 81h1v1h-1zM259 84h1v1h-1zM259 85h1v1h-1zM259 86h1v1h-1zM259 87h1v1h-1zM259 91h1v1h-1zM259 94h1v1h-1zM259 97h1v1h-1zM260 66h1v1h-1zM260 74h1v1h-1zM260 79h1v1h-1zM260 82h1v1h-1zM260 84h1v1h-1zM260 85h1v1h-1zM260 86h1v1h-1zM260 90h1v1h-1zM260 98h1v1h-1zM261 78h1v1h-1zM261 83h1v1h-1zM261 85h1v1h-1zM261 86h1v1h-1zM261 87h1v1h-1zM261 89h1v1h-1zM261 90h1v1h-1zM262 76h1v1h-1zM262 77h1v1h-1zM262 79h1v1h-1zM262 81h1v1h-1zM262 82h1v1h-1zM262 83h1v1h-1zM262 85h1v1h-1zM262 86h1v1h-1zM262 87h1v1h-1zM262 88h1v1h-1zM262 89h1v1h-1zM262 90h1v1h-1zM262 100h1v1h-1zM263 77h1v1h-1zM263 78h1v1h-1zM263 81h1v1h-1zM263 82h1v1h-1zM263 83h1v1h-1zM263 85h1v1h-1zM263 86h1v1h-1zM263 87h1v1h-1zM263 88h1v1h-1zM263 89h1v1h-1zM263 90h1v1h-1zM263 91h1v1h-1zM263 93h1v1h-1zM264 79h1v1h-1zM264 80h1v1h-1zM264 81h1v1h-1zM264 82h1v1h-1zM264 84h1v1h-1zM264 85h1v1h-1zM264 86h1v1h-1zM264 87h1v1h-1zM264 89h1v1h-1zM264 91h1v1h-1zM264 92h1v1h-1zM264 93h1v1h-1zM265 80h1v1h-1zM265 81h1v1h-1zM265 82h1v1h-1zM265 83h1v1h-1zM265 84h1v1h-1zM265 89h1v1h-1zM265 90h1v1h-1zM266 74h1v1h-1zM266 77h1v1h-1zM266 81h1v1h-1zM266 82h1v1h-1zM266 83h1v1h-1zM266 86h1v1h-1zM266 90h1v1h-1zM266 94h1v1h-1zM267 77h1v1h-1zM267 79h1v1h-1zM267 80h1v1h-1zM267 81h1v1h-1zM267 83h1v1h-1zM267 85h1v1h-1zM267 86h1v1h-1zM267 87h1v1h-1zM267 89h1v1h-1zM267 90h1v1h-1zM267 93h1v1h-1zM268 76h1v1h-1zM268 79h1v1h-1zM268 81h1v1h-1zM268 82h1v1h-1zM268 83h1v1h-1zM268 85h1v1h-1zM268 87h1v1h-1zM268 88h1v1h-1zM268 90h1v1h-1zM268 91h1v1h-1zM268 93h1v1h-1zM269 76h1v1h-1zM269 78h1v1h-1zM269 79h1v1h-1zM269 82h1v1h-1zM269 83h1v1h-1zM269 85h1v1h-1zM269 86h1v1h-1zM269 87h1v1h-1zM269 88h1v1h-1zM269 89h1v1h-1zM270 76h1v1h-1zM270 81h1v1h-1zM270 82h1v1h-1zM270 83h1v1h-1zM270 84h1v1h-1zM270 85h1v1h-1zM270 86h1v1h-1zM270 87h1v1h-1zM270 88h1v1h-1zM270 100h1v1h-1zM271 73h1v1h-1zM271 80h1v1h-1zM271 81h1v1h-1zM271 82h1v1h-1zM271 83h1v1h-1zM271 87h1v1h-1zM271 88h1v1h-1zM271 91h1v1h-1zM272 79h1v1h-1zM272 82h1v1h-1zM272 83h1v1h-1zM272 85h1v1h-1zM272 86h1v1h-1zM272 88h1v1h-1zM272 89h1v1h-1zM272 93h1v1h-1zM273 75h1v1h-1zM273 79h1v1h-1zM273 81h1v1h-1zM273 83h1v1h-1zM273 84h1v1h-1zM273 91h1v1h-1zM274 75h1v1h-1zM274 77h1v1h-1zM274 79h1v1h-1zM274 80h1v1h-1zM274 81h1v1h-1zM274 83h1v1h-1zM274 84h1v1h-1zM274 85h1v1h-1zM274 86h1v1h-1zM274 87h1v1h-1zM274 88h1v1h-1zM275 78h1v1h-1zM275 80h1v1h-1zM275 82h1v1h-1zM275 83h1v1h-1zM275 84h1v1h-1zM275 85h1v1h-1zM275 86h1v1h-1zM275 87h1v1h-1zM275 88h1v1h-1zM275 89h1v1h-1zM275 90h1v1h-1zM276 77h1v1h-1zM276 81h1v1h-1zM276 82h1v1h-1zM276 84h1v1h-1zM276 85h1v1h-1zM276 87h1v1h-1zM276 88h1v1h-1zM277 75h1v1h-1zM277 76h1v1h-1zM277 80h1v1h-1zM277 82h1v1h-1zM277 83h1v1h-1zM277 84h1v1h-1zM277 86h1v1h-1zM277 87h1v1h-1zM277 88h1v1h-1zM278 76h1v1h-1zM278 78h1v1h-1zM278 80h1v1h-1zM278 82h1v1h-1zM278 83h1v1h-1zM278 86h1v1h-1zM278 87h1v1h-1zM278 90h1v1h-1zM278 91h1v1h-1zM278 97h1v1h-1zM279 79h1v1h-1zM279 80h1v1h-1zM279 81h1v1h-1zM279 82h1v1h-1zM279 83h1v1h-1zM279 84h1v1h-1zM279 86h1v1h-1zM279 88h1v1h-1zM279 89h1v1h-1zM279 96h1v1h-1zM280 76h1v1h-1zM280 77h1v1h-1zM280 78h1v1h-1zM280 79h1v1h-1zM280 81h1v1h-1zM280 82h1v1h-1zM280 84h1v1h-1zM280 87h1v1h-1zM281 73h1v1h-1zM281 76h1v1h-1zM281 78h1v1h-1zM281 80h1v1h-1zM281 82h1v1h-1zM281 83h1v1h-1zM281 85h1v1h-1zM281 90h1v1h-1zM281 92h1v1h-1zM282 76h1v1h-1zM282 77h1v1h-1zM282 79h1v1h-1zM282 81h1v1h-1zM282 83h1v1h-1zM282 84h1v1h-1zM282 89h1v1h-1zM283 78h1v1h-1zM283 79h1v1h-1zM283 80h1v1h-1zM283 81h1v1h-1zM283 84h1v1h-1zM283 86h1v1h-1zM283 87h1v1h-1zM283 89h1v1h-1zM283 90h1v1h-1zM283 91h1v1h-1zM284 75h1v1h-1zM284 78h1v1h-1zM284 79h1v1h-1zM284 84h1v1h-1zM284 85h1v1h-1zM284 88h1v1h-1zM284 89h1v1h-1zM285 79h1v1h-1zM285 82h1v1h-1zM285 83h1v1h-1zM285 89h1v1h-1zM285 90h1v1h-1zM285 92h1v1h-1zM285 98h1v1h-1zM286 75h1v1h-1zM286 77h1v1h-1zM286 78h1v1h-1zM286 79h1v1h-1zM286 81h1v1h-1zM286 82h1v1h-1zM286 83h1v1h-1zM286 84h1v1h-1zM286 89h1v1h-1zM286 90h1v1h-1zM286 91h1v1h-1zM287 77h1v1h-1zM287 86h1v1h-1zM287 87h1v1h-1zM288 72h1v1h-1zM288 76h1v1h-1zM288 78h1v1h-1zM288 82h1v1h-1zM288 84h1v1h-1zM288 85h1v1h-1zM288 89h1v1h-1zM288 91h1v1h-1zM288 93h1v1h-1zM288 96h1v1h-1zM289 83h1v1h-1zM289 85h1v1h-1zM290 77h1v1h-1zM290 78h1v1h-1zM290 82h1v1h-1zM290 84h1v1h-1zM290 86h1v1h-1zM290 91h1v1h-1zM290 92h1v1h-1zM290 93h1v1h-1zM290 97h1v1h-1zM291 80h1v1h-1zM291 81h1v1h-1zM291 83h1v1h-1zM291 84h1v1h-1zM291 86h1v1h-1zM291 91h1v1h-1zM292 81h1v1h-1zM292 82h1v1h-1zM292 83h1v1h-1zM292 85h1v1h-1zM292 89h1v1h-1zM293 77h1v1h-1zM293 80h1v1h-1zM293 81h1v1h-1zM293 83h1v1h-1zM293 84h1v1h-1zM293 85h1v1h-1zM293 88h1v1h-1zM293 90h1v1h-1zM294 81h1v1h-1zM294 83h1v1h-1zM294 86h1v1h-1zM294 88h1v1h-1zM294 93h1v1h-1zM294 97h1v1h-1zM295 75h1v1h-1zM295 80h1v1h-1zM295 85h1v1h-1zM295 86h1v1h-1zM295 88h1v1h-1zM296 66h1v1h-1zM296 82h1v1h-1zM296 84h1v1h-1zM296 85h1v1h-1zM296 89h1v1h-1zM297 83h1v1h-1zM297 87h1v1h-1zM297 88h1v1h-1zM298 80h1v1h-1zM298 85h1v1h-1zM298 86h1v1h-1zM298 89h1v1h-1zM298 90h1v1h-1zM298 93h1v1h-1zM299 77h1v1h-1zM299 84h1v1h-1zM299 85h1v1h-1zM299 88h1v1h-1zM299 96h1v1h-1zM300 80h1v1h-1zM300 81h1v1h-1zM300 82h1v1h-1zM300 84h1v1h-1zM300 89h1v1h-1zM300 95h1v1h-1zM301 81h1v1h-1zM301 83h1v1h-1zM301 86h1v1h-1zM301 92h1v1h-1zM302 74h1v1h-1zM302 82h1v1h-1z" fill="#000" filter="url(#bl)"/>
<path d="M226 94h1v1h-1zM229 100h1v1h-1zM230 85h1v1h-1zM232 101h1v1h-1zM234 89h1v1h-1zM234 102h1v1h-1zM237 89h1v1h-1zM242 97h1v1h-1zM243 99h1v1h-1zM245 110h1v1h-1zM246 94h1v1h-1zM247 94h1v1h-1zM247 109h1v1h-1zM250 91h1v1h-1zM251 62h1v1h-1zM252 91h1v1h-1zM252 95h1v1h-1zM254 87h1v1h-1zM254 90h1v1h-1zM254 94h1v1h-1zM254 95h1v1h-1zM254 105h1v1h-1zM255 97h1v1h-1zM255 103h1v1h-1zM256 88h1v1h-1zM256 95h1v1h-1zM257 96h1v1h-1zM257 104h1v1h-1zM257 106h1v1h-1zM257 107h1v1h-1zM258 70h1v1h-1zM258 90h1v1h-1zM258 98h1v1h-1zM259 95h1v1h-1zM259 98h1v1h-1zM259 100h1v1h-1zM259 106h1v1h-1zM259 108h1v1h-1zM260 104h1v1h-1zM262 92h1v1h-1zM262 94h1v1h-1zM262 96h1v1h-1zM262 108h1v1h-1zM263 97h1v1h-1zM263 98h1v1h-1zM263 105h1v1h-1zM263 107h1v1h-1zM264 101h1v1h-1zM265 86h1v1h-1zM265 91h1v1h-1zM265 92h1v1h-1zM265 94h1v1h-1zM265 104h1v1h-1zM266 84h1v1h-1zM267 97h1v1h-1zM267 100h1v1h-1zM267 103h1v1h-1zM267 104h1v1h-1zM267 106h1v1h-1zM268 97h1v1h-1zM268 102h1v1h-1zM268 105h1v1h-1zM269 102h1v1h-1zM269 103h1v1h-1zM270 109h1v1h-1zM271 90h1v1h-1zM271 102h1v1h-1zM271 109h1v1h-1zM272 77h1v1h-1zM272 92h1v1h-1zM272 96h1v1h-1zM272 99h1v1h-1zM272 109h1v1h-1zM273 95h1v1h-1zM273 97h1v1h-1zM273 101h1v1h-1zM274 82h1v1h-1zM274 90h1v1h-1zM274 91h1v1h-1zM274 97h1v1h-1zM274 100h1v1h-1zM275 91h1v1h-1zM275 98h1v1h-1zM275 109h1v1h-1zM276 97h1v1h-1zM276 101h1v1h-1zM277 78h1v1h-1zM277 85h1v1h-1zM277 99h1v1h-1zM277 102h1v1h-1zM278 85h1v1h-1zM278 89h1v1h-1zM279 93h1v1h-1zM280 92h1v1h-1zM280 109h1v1h-1zM280 113h1v1h-1zM281 95h1v1h-1zM281 97h1v1h-1zM282 92h1v1h-1zM282 106h1v1h-1zM283 98h1v1h-1zM284 105h1v1h-1zM285 86h1v1h-1zM285 103h1v1h-1zM287 93h1v1h-1zM287 97h1v1h-1zM288 108h1v1h-1zM289 68h1v1h-1zM289 98h1v1h-1zM290 94h1v1h-1zM290 101h1v1h-1zM291 92h1v1h-1zM291 97h1v1h-1zM291 100h1v1h-1zM292 93h1v1h-1zM292 96h1v1h-1zM293 103h1v1h-1zM294 96h1v1h-1zM295 105h1v1h-1zM296 106h1v1h-1zM297 78h1v1h-1zM297 98h1v1h-1zM297 105h1v1h-1zM297 110h1v1h-1zM298 98h1v1h-1zM299 95h1v1h-1zM299 98h1v1h-1zM299 102h1v1h-1zM299 104h1v1h-1zM300 104h1v1h-1zM303 76h1v1h-1z" fill="#333" filter="url(#bl)"/>
<path d="M296 74h1v1h-1zM297 75h1v1h-1zM297 95h1v1h-1zM298 94h1v1h-1zM301 101h1v1h-1zM306 83h1v1h-1zM307 79h1v1h-1zM308 91h1v1h-1zM319 82h1v1h-1zM321 87h1v1h-1zM322 76h1v1h-1zM322 82h1v1h-1zM323 85h1v1h-1zM330 91h1v1h-1z" fill="#444" filter="url(#bl)"/>
<path d="M267 121h1v1h-1zM267 124h1v1h-1zM272 105h1v1h-1zM273 122h1v1h-1zM278 116h1v1h-1zM279 76h1v1h-1zM280 75h1v1h-1zM280 119h1v1h-1zM283 103h1v1h-1zM283 128h1v1h-1zM288 121h1v1h-1zM293 122h1v1h-1zM297 118h1v1h-1zM299 74h1v1h-1zM303 100h1v1h-1zM304 125h1v1h-1zM308 101h1v1h-1zM315 118h1v1h-1zM316 122h1v1h-1zM317 100h1v1h-1zM334 92h1v1h-1zM334 95h1v1h-1z" fill="#555" filter="url(#bl)"/>
<path d="M234 124h1v1h-1zM234 147h1v1h-1zM239 137h1v1h-1zM243 148h1v1h-1zM244 118h1v1h-1zM244 129h1v1h-1zM245 125h1v1h-1zM247 127h1v1h-1zM247 133h1v1h-1zM247 153h1v1h-1z" fill="#666" filter="url(#bl)"/>
<path d="M275 147h1v1h-1z" fill="#777" filter="url(#bl)"/>
<path d="M386 75h1v1h-1zM386 104h1v1h-1zM388 83h1v1h-1zM389 78h1v1h-1zM389 89h1v1h-1zM390 82h1v1h-1zM390 84h1v1h-1zM390 87h1v1h-1zM391 81h1v1h-1zM391 82h1v1h-1zM391 85h1v1h-1zM391 88h1v1h-1zM392 79h1v1h-1zM392 82h1v1h-1zM392 83h1v1h-1zM392 84h1v1h-1zM392 87h1v1h-1zM392 89h1v1h-1zM392 90h1v1h-1zM392 93h1v1h-1zM393 80h1v1h-1zM393 82h1v1h-1zM393 84h1v1h-1zM393 85h1v1h-1zM393 90h1v1h-1zM393 98h1v1h-1zM394 82h1v1h-1zM394 83h1v1h-1zM394 86h1v1h-1zM394 87h1v1h-1zM394 88h1v1h-1zM394 89h1v1h-1zM395 80h1v1h-1zM395 81h1v1h-1zM395 82h1v1h-1zM395 85h1v1h-1zM395 86h1v1h-1zM395 89h1v1h-1zM395 90h1v1h-1zM395 91h1v1h-1zM395 94h1v1h-1zM395 100h1v1h-1zM396 78h1v1h-1zM396 81h1v1h-1zM396 83h1v1h-1zM396 84h1v1h-1zM396 85h1v1h-1zM396 86h1v1h-1zM396 87h1v1h-1zM396 89h1v1h-1zM396 90h1v1h-1zM396 91h1v1h-1zM396 92h1v1h-1zM396 94h1v1h-1zM396 95h1v1h-1zM396 97h1v1h-1zM396 100h1v1h-1zM396 103h1v1h-1zM397 79h1v1h-1zM397 80h1v1h-1zM397 83h1v1h-1zM397 84h1v1h-1zM397 85h1v1h-1zM397 86h1v1h-1zM397 87h1v1h-1zM397 88h1v1h-1zM397 90h1v1h-1zM397 91h1v1h-1zM397 93h1v1h-1zM397 94h1v1h-1zM397 95h1v1h-1zM397 98h1v1h-1zM398 79h1v1h-1zM398 80h1v1h-1zM398 81h1v1h-1zM398 82h1v1h-1zM398 84h1v1h-1zM398 85h1v1h-1zM398 86h1v1h-1zM398 88h1v1h-1zM398 89h1v1h-1zM398 90h1v1h-1zM398 91h1v1h-1zM398 92h1v1h-1zM398 95h1v1h-1zM398 97h1v1h-1zM399 78h1v1h-1zM399 80h1v1h-1zM399 81h1v1h-1zM399 82h1v1h-1zM399 83h1v1h-1zM399 86h1v1h-1zM399 88h1v1h-1zM399 89h1v1h-1zM399 90h1v1h-1zM399 91h1v1h-1zM399 92h1v1h-1zM399 93h1v1h-1zM399 94h1v1h-1zM399 95h1v1h-1zM399 97h1v1h-1zM399 102h1v1h-1zM400 79h1v1h-1zM400 82h1v1h-1zM400 83h1v1h-1zM400 84h1v1h-1zM400 85h1v1h-1zM400 86h1v1h-1zM400 87h1v1h-1zM400 88h1v1h-1zM400 89h1v1h-1zM400 90h1v1h-1zM400 91h1v1h-1zM400 92h1v1h-1zM400 93h1v1h-1zM400 94h1v1h-1zM400 96h1v1h-1zM400 99h1v1h-1zM401 77h1v1h-1zM401 80h1v1h-1zM401 81h1v1h-1zM401 82h1v1h-1zM401 83h1v1h-1zM401 84h1v1h-1zM401 85h1v1h-1zM401 86h1v1h-1zM401 87h1v1h-1zM401 88h1v1h-1zM401 89h1v1h-1zM401 90h1v1h-1zM401 91h1v1h-1zM401 92h1v1h-1zM401 93h1v1h-1zM401 96h1v1h-1zM401 98h1v1h-1zM402 77h1v1h-1zM402 79h1v1h-1zM402 81h1v1h-1zM402 82h1v1h-1zM402 83h1v1h-1zM402 84h1v1h-1zM402 85h1v1h-1zM402 86h1v1h-1zM402 87h1v1h-1zM402 88h1v1h-1zM402 89h1v1h-1zM402 90h1v1h-1zM402 91h1v1h-1zM402 92h1v1h-1zM402 93h1v1h-1zM402 94h1v1h-1zM402 97h1v1h-1zM403 75h1v1h-1zM403 78h1v1h-1zM403 81h1v1h-1zM403 83h1v1h-1zM403 84h1v1h-1zM403 85h1v1h-1zM403 86h1v1h-1zM403 87h1v1h-1zM403 88h1v1h-1zM403 89h1v1h-1zM403 90h1v1h-1zM403 91h1v1h-1zM403 92h1v1h-1zM403 93h1v1h-1zM403 94h1v1h-1zM403 96h1v1h-1zM403 97h1v1h-1zM403 98h1v1h-1zM403 99h1v1h-1zM403 101h1v1h-1zM404 74h1v1h-1zM404 75h1v1h-1zM404 78h1v1h-1zM404 79h1v1h-1zM404 81h1v1h-1zM404 82h1v1h-1zM404 83h1v1h-1zM404 84h1v1h-1zM404 85h1v1h-1zM404 86h1v1h-1zM404 87h1v1h-1zM404 88h1v1h-1zM404 89h1v1h-1zM404 91h1v1h-1zM404 92h1v1h-1zM404 93h1v1h-1zM404 94h1v1h-1zM404 100h1v1h-1zM405 75h1v1h-1zM405 78h1v1h-1zM405 79h1v1h-1zM405 80h1v1h-1zM405 82h1v1h-1zM405 83h1v1h-1zM405 84h1v1h-1zM405 85h1v1h-1zM405 86h1v1h-1zM405 87h1v1h-1zM405 88h1v1h-1zM405 89h1v1h-1zM405 90h1v1h-1zM405 92h1v1h-1zM405 93h1v1h-1zM405 94h1v1h-1zM405 96h1v1h-1zM405 97h1v1h-1zM405 100h1v1h-1zM405 101h1v1h-1zM406 73h1v1h-1zM406 78h1v1h-1zM406 79h1v1h-1zM406 80h1v1h-1zM406 82h1v1h-1zM406 83h1v1h-1zM406 84h1v1h-1zM406 85h1v1h-1zM406 86h1v1h-1zM406 87h1v1h-1zM406 89h1v1h-1zM406 90h1v1h-1zM406 91h1v1h-1zM406 92h1v1h-1zM406 93h1v1h-1zM406 94h1v1h-1zM406 95h1v1h-1zM406 96h1v1h-1zM406 97h1v1h-1zM406 98h1v1h-1zM406 100h1v1h-1zM406 102h1v1h-1zM407 78h1v1h-1zM407 79h1v1h-1zM407 80h1v1h-1zM407 81h1v1h-1zM407 82h1v1h-1zM407 83h1v1h-1zM407 85h1v1h-1zM407 86h1v1h-1zM407 87h1v1h-1zM407 88h1v1h-1zM407 89h1v1h-1zM407 90h1v1h-1zM407 91h1v1h-1zM407 92h1v1h-1zM407 93h1v1h-1zM407 94h1v1h-1zM407 95h1v1h-1zM407 96h1v1h-1zM407 98h1v1h-1zM407 100h1v1h-1zM408 76h1v1h-1zM408 79h1v1h-1zM408 80h1v1h-1zM408 81h1v1h-1zM408 82h1v1h-1zM408 83h1v1h-1zM408 84h1v1h-1zM408 85h1v1h-1zM408 86h1v1h-1zM408 88h1v1h-1zM408 89h1v1h-1zM408 90h1v1h-1zM408 91h1v1h-1zM408 92h1v1h-1zM408 93h1v1h-1zM408 94h1v1h-1zM408 95h1v1h-1zM408 97h1v1h-1zM408 98h1v1h-1zM408 99h1v1h-1zM408 100h1v1h-1zM408 103h1v1h-1zM408 106h1v1h-1zM409 77h1v1h-1zM409 79h1v1h-1zM409 81h1v1h-1zM409 82h1v1h-1zM409 83h1v1h-1zM409 84h1v1h-1zM409 85h1v1h-1zM409 86h1v1h-1zM409 87h1v1h-1zM409 88h1v1h-1zM409 89h1v1h-1zM409 90h1v1h-1zM409 91h1v1h-1zM409 92h1v1h-1zM409 93h1v1h-1zM409 94h1v1h-1zM409 96h1v1h-1zM409 97h1v1h-1zM409 98h1v1h-1zM409 99h1v1h-1zM409 100h1v1h-1zM410 76h1v1h-1zM410 78h1v1h-1zM410 80h1v1h-1zM410 81h1v1h-1zM410 82h1v1h-1zM410 83h1v1h-1zM410 84h1v1h-1zM410 85h1v1h-1zM410 86h1v1h-1zM410 87h1v1h-1zM410 88h1v1h-1zM410 89h1v1h-1zM410 90h1v1h-1zM410 91h1v1h-1zM410 92h1v1h-1zM410 93h1v1h-1zM410 94h1v1h-1zM410 95h1v1h-1zM410 96h1v1h-1zM410 97h1v1h-1zM410 98h1v1h-1zM410 102h1v1h-1zM410 107h1v1h-1zM411 72h1v1h-1zM411 76h1v1h-1zM411 79h1v1h-1zM411 81h1v1h-1zM411 82h1v1h-1zM411 83h1v1h-1zM411 84h1v1h-1zM411 85h1v1h-1zM411 86h1v1h-1zM411 87h1v1h-1zM411 88h1v1h-1zM411 89h1v1h-1zM411 90h1v1h-1zM411 91h1v1h-1zM411 92h1v1h-1zM411 93h1v1h-1zM411 94h1v1h-1zM411 95h1v1h-1zM411 96h1v1h-1zM411 97h1v1h-1zM411 101h1v1h-1zM411 103h1v1h-1zM411 107h1v1h-1zM412 76h1v1h-1zM412 78h1v1h-1zM412 79h1v1h-1zM412 80h1v1h-1zM412 81h1v1h-1zM412 82h1v1h-1zM412 83h1v1h-1zM412 84h1v1h-1zM412 85h1v1h-1zM412 86h1v1h-1zM412 87h1v1h-1zM412 88h1v1h-1zM412 89h1v1h-1zM412 90h1v1h-1zM412 91h1v1h-1zM412 92h1v1h-1zM412 93h1v1h-1zM412 94h1v1h-1zM412 95h1v1h-1zM412 96h1v1h-1zM412 99h1v1h-1zM412 100h1v1h-1zM412 101h1v1h-1zM413 77h1v1h-1zM413 79h1v1h-1zM413 80h1v1h-1zM413 81h1v1h-1zM413 82h1v1h-1zM413 83h1v1h-1zM413 84h1v1h-1zM413 85h1v1h-1zM413 86h1v1h-1zM413 87h1v1h-1zM413 88h1v1h-1zM413 89h1v1h-1zM413 90h1v1h-1zM413 91h1v1h-1zM413 92h1v1h-1zM413 93h1v1h-1zM413 95h1v1h-1zM413 96h1v1h-1zM413 97h1v1h-1zM413 98h1v1h-1zM413 102h1v1h-1zM414 77h1v1h-1zM414 80h1v1h-1zM414 81h1v1h-1zM414 82h1v1h-1zM414 83h1v1h-1zM414 84h1v1h-1zM414 85h1v1h-1zM414 86h1v1h-1zM414 87h1v1h-1zM414 88h1v1h-1zM414 89h1v1h-1zM414 90h1v1h-1zM414 91h1v1h-1zM414 92h1v1h-1zM414 93h1v1h-1zM414 94h1v1h-1zM414 95h1v1h-1zM414 96h1v1h-1zM414 97h1v1h-1zM414 98h1v1h-1zM414 101h1v1h-1zM415 75h1v1h-1zM415 76h1v1h-1zM415 77h1v1h-1zM415 78h1v1h-1zM415 79h1v1h-1zM415 81h1v1h-1zM415 82h1v1h-1zM415 83h1v1h-1zM415 84h1v1h-1zM415 85h1v1h-1zM415 86h1v1h-1zM415 87h1v1h-1zM415 88h1v1h-1zM415 89h1v1h-1zM415 90h1v1h-1zM415 91h1v1h-1zM415 92h1v1h-1zM415 93h1v1h-1zM415 94h1v1h-1zM415 95h1v1h-1zM415 96h1v1h-1zM415 97h1v1h-1zM415 98h1v1h-1zM416 77h1v1h-1zM416 79h1v1h-1zM416 80h1v1h-1zM416 81h1v1h-1zM416 83h1v1h-1zM416 84h1v1h-1zM416 85h1v1h-1zM416 86h1v1h-1zM416 87h1v1h-1zM416 88h1v1h-1zM416 89h1v1h-1zM416 91h1v1h-1zM416 92h1v1h-1zM416 93h1v1h-1zM416 94h1v1h-1zM416 95h1v1h-1zM416 96h1v1h-1zM416 98h1v1h-1zM417 77h1v1h-1zM417 78h1v1h-1zM417 79h1v1h-1zM417 80h1v1h-1zM417 82h1v1h-1zM417 83h1v1h-1zM417 84h1v1h-1zM417 85h1v1h-1zM417 86h1v1h-1zM417 87h1v1h-1zM417 88h1v1h-1zM417 89h1v1h-1zM417 90h1v1h-1zM417 91h1v1h-1zM417 92h1v1h-1zM417 93h1v1h-1zM417 94h1v1h-1zM417 96h1v1h-1zM417 97h1v1h-1zM417 98h1v1h-1zM417 99h1v1h-1zM418 77h1v1h-1zM418 78h1v1h-1zM418 80h1v1h-1zM418 81h1v1h-1zM418 82h1v1h-1zM418 83h1v1h-1zM418 84h1v1h-1zM418 85h1v1h-1zM418 86h1v1h-1zM418 87h1v1h-1zM418 88h1v1h-1zM418 89h1v1h-1zM418 90h1v1h-1zM418 91h1v1h-1zM418 92h1v1h-1zM418 93h1v1h-1zM418 94h1v1h-1zM418 95h1v1h-1zM418 96h1v1h-1zM418 97h1v1h-1zM418 98h1v1h-1zM418 99h1v1h-1zM418 100h1v1h-1zM418 101h1v1h-1zM418 103h1v1h-1zM418 104h1v1h-1zM419 77h1v1h-1zM419 79h1v1h-1zM419 80h1v1h-1zM419 82h1v1h-1zM419 83h1v1h-1zM419 84h1v1h-1zM419 85h1v1h-1zM419 86h1v1h-1zM419 87h1v1h-1zM419 88h1v1h-1zM419 89h1v1h-1zM419 90h1v1h-1zM419 91h1v1h-1zM419 92h1v1h-1zM419 93h1v1h-1zM419 94h1v1h-1zM419 95h1v1h-1zM419 96h1v1h-1zM419 110h1v1h-1zM420 80h1v1h-1zM420 81h1v1h-1zM420 82h1v1h-1zM420 83h1v1h-1zM420 84h1v1h-1zM420 85h1v1h-1zM420 86h1v1h-1zM420 87h1v1h-1zM420 88h1v1h-1zM420 89h1v1h-1zM420 90h1v1h-1zM420 92h1v1h-1zM420 94h1v1h-1zM420 95h1v1h-1zM421 76h1v1h-1zM421 80h1v1h-1zM421 81h1v1h-1zM421 82h1v1h-1zM421 83h1v1h-1zM421 84h1v1h-1zM421 85h1v1h-1zM421 86h1v1h-1zM421 87h1v1h-1zM421 88h1v1h-1zM421 89h1v1h-1zM421 90h1v1h-1zM421 91h1v1h-1zM421 92h1v1h-1zM421 93h1v1h-1zM421 94h1v1h-1zM421 96h1v1h-1zM421 97h1v1h-1zM422 79h1v1h-1zM422 80h1v1h-1zM422 81h1v1h-1zM422 82h1v1h-1zM422 83h1v1h-1zM422 84h1v1h-1zM422 85h1v1h-1zM422 88h1v1h-1zM422 89h1v1h-1zM422 90h1v1h-1zM422 92h1v1h-1zM423 79h1v1h-1zM423 82h1v1h-1zM423 83h1v1h-1zM423 84h1v1h-1zM423 85h1v1h-1zM423 86h1v1h-1zM423 87h1v1h-1zM423 89h1v1h-1zM423 91h1v1h-1zM423 92h1v1h-1zM423 93h1v1h-1zM423 94h1v1h-1zM423 98h1v1h-1zM423 100h1v1h-1zM423 104h1v1h-1zM424 77h1v1h-1zM424 80h1v1h-1zM424 81h1v1h-1zM424 83h1v1h-1zM424 84h1v1h-1zM424 85h1v1h-1zM424 86h1v1h-1zM424 87h1v1h-1zM424 89h1v1h-1zM424 91h1v1h-1zM424 93h1v1h-1zM424 94h1v1h-1zM424 95h1v1h-1zM424 97h1v1h-1zM424 100h1v1h-1zM425 77h1v1h-1zM425 79h1v1h-1zM425 80h1v1h-1zM425 81h1v1h-1zM425 82h1v1h-1zM425 83h1v1h-1zM425 84h1v1h-1zM425 85h1v1h-1zM425 86h1v1h-1zM425 88h1v1h-1zM425 89h1v1h-1zM425 91h1v1h-1zM425 92h1v1h-1zM425 97h1v1h-1zM426 79h1v1h-1zM426 80h1v1h-1zM426 81h1v1h-1zM426 84h1v1h-1zM426 85h1v1h-1zM426 87h1v1h-1zM426 88h1v1h-1zM426 89h1v1h-1zM426 90h1v1h-1zM426 92h1v1h-1zM426 93h1v1h-1zM427 80h1v1h-1zM427 81h1v1h-1zM427 82h1v1h-1zM427 83h1v1h-1zM427 84h1v1h-1zM427 85h1v1h-1zM427 86h1v1h-1zM427 87h1v1h-1zM427 88h1v1h-1zM427 89h1v1h-1zM427 95h1v1h-1zM428 79h1v1h-1zM428 81h1v1h-1zM428 82h1v1h-1zM428 83h1v1h-1zM428 84h1v1h-1zM428 85h1v1h-1zM428 86h1v1h-1zM428 87h1v1h-1zM428 88h1v1h-1zM428 89h1v1h-1zM428 92h1v1h-1zM428 93h1v1h-1zM428 95h1v1h-1zM428 96h1v1h-1zM428 99h1v1h-1zM429 76h1v1h-1zM429 80h1v1h-1zM429 81h1v1h-1zM429 82h1v1h-1zM429 83h1v1h-1zM429 84h1v1h-1zM429 85h1v1h-1zM429 86h1v1h-1zM429 88h1v1h-1zM429 89h1v1h-1zM429 90h1v1h-1zM429 91h1v1h-1zM429 92h1v1h-1zM429 93h1v1h-1zM429 94h1v1h-1zM429 99h1v1h-1zM429 100h1v1h-1zM429 105h1v1h-1zM430 79h1v1h-1zM430 80h1v1h-1zM430 82h1v1h-1zM430 83h1v1h-1zM430 84h1v1h-1zM430 85h1v1h-1zM430 86h1v1h-1zM430 87h1v1h-1zM430 88h1v1h-1zM430 90h1v1h-1zM430 92h1v1h-1zM430 94h1v1h-1zM430 99h1v1h-1zM431 76h1v1h-1zM431 79h1v1h-1zM431 80h1v1h-1zM431 82h1v1h-1zM431 83h1v1h-1zM431 84h1v1h-1zM431 85h1v1h-1zM431 86h1v1h-1zM431 88h1v1h-1zM431 92h1v1h-1zM431 94h1v1h-1zM431 97h1v1h-1zM431 98h1v1h-1zM432 81h1v1h-1zM432 83h1v1h-1zM432 84h1v1h-1zM432 85h1v1h-1zM432 87h1v1h-1zM432 88h1v1h-1zM432 89h1v1h-1zM432 90h1v1h-1zM432 91h1v1h-1zM432 92h1v1h-1zM432 93h1v1h-1zM432 95h1v1h-1zM433 79h1v1h-1zM433 80h1v1h-1zM433 81h1v1h-1zM433 84h1v1h-1zM433 85h1v1h-1zM433 88h1v1h-1zM433 90h1v1h-1zM433 93h1v1h-1zM434 79h1v1h-1zM434 80h1v1h-1zM434 82h1v1h-1zM434 84h1v1h-1zM434 87h1v1h-1zM434 88h1v1h-1zM434 91h1v1h-1zM434 92h1v1h-1zM434 93h1v1h-1zM434 94h1v1h-1zM434 95h1v1h-1zM435 79h1v1h-1zM435 83h1v1h-1zM435 84h1v1h-1zM435 85h1v1h-1zM435 86h1v1h-1zM435 87h1v1h-1zM435 89h1v1h-1zM435 94h1v1h-1zM436 80h1v1h-1zM436 82h1v1h-1zM436 83h1v1h-1zM436 84h1v1h-1zM436 88h1v1h-1zM436 89h1v1h-1zM436 90h1v1h-1zM436 91h1v1h-1zM436 98h1v1h-1zM437 76h1v1h-1zM437 77h1v1h-1zM437 81h1v1h-1zM437 82h1v1h-1zM437 85h1v1h-1zM437 88h1v1h-1zM437 89h1v1h-1zM437 91h1v1h-1zM437 92h1v1h-1zM437 93h1v1h-1zM438 79h1v1h-1zM438 80h1v1h-1zM438 81h1v1h-1zM438 82h1v1h-1zM438 83h1v1h-1zM438 85h1v1h-1zM438 86h1v1h-1zM438 88h1v1h-1zM438 90h1v1h-1zM438 99h1v1h-1zM439 74h1v1h-1zM439 78h1v1h-1zM439 79h1v1h-1zM439 80h1v1h-1zM439 82h1v1h-1zM439 84h1v1h-1zM439 85h1v1h-1zM439 86h1v1h-1zM439 88h1v1h-1zM439 90h1v1h-1zM439 92h1v1h-1zM439 93h1v1h-1zM440 81h1v1h-1zM440 83h1v1h-1zM440 84h1v1h-1zM440 85h1v1h-1zM440 86h1v1h-1zM440 87h1v1h-1zM440 88h1v1h-1zM440 89h1v1h-1zM440 90h1v1h-1zM441 76h1v1h-1zM441 83h1v1h-1zM441 84h1v1h-1zM441 85h1v1h-1zM441 94h1v1h-1zM442 79h1v1h-1zM442 80h1v1h-1zM442 81h1v1h-1zM442 84h1v1h-1zM442 85h1v1h-1zM442 87h1v1h-1zM442 88h1v1h-1zM442 90h1v1h-1zM443 75h1v1h-1zM443 77h1v1h-1zM443 80h1v1h-1zM443 84h1v1h-1zM443 87h1v1h-1zM443 88h1v1h-1zM443 89h1v1h-1zM443 91h1v1h-1zM443 96h1v1h-1zM444 79h1v1h-1zM444 81h1v1h-1zM444 82h1v1h-1zM444 83h1v1h-1zM444 85h1v1h-1zM444 86h1v1h-1zM444 87h1v1h-1zM444 89h1v1h-1zM444 91h1v1h-1zM444 93h1v1h-1zM445 80h1v1h-1zM445 81h1v1h-1zM445 83h1v1h-1zM445 84h1v1h-1zM445 86h1v1h-1zM445 87h1v1h-1zM445 88h1v1h-1zM445 89h1v1h-1zM445 92h1v1h-1zM445 94h1v1h-1zM446 78h1v1h-1zM446 81h1v1h-1zM446 83h1v1h-1zM446 84h1v1h-1zM446 85h1v1h-1zM446 86h1v1h-1zM446 87h1v1h-1zM446 89h1v1h-1zM446 90h1v1h-1zM446 91h1v1h-1zM447 78h1v1h-1zM447 82h1v1h-1zM447 84h1v1h-1zM447 85h1v1h-1zM447 87h1v1h-1zM448 80h1v1h-1zM448 81h1v1h-1zM448 83h1v1h-1zM448 91h1v1h-1zM448 95h1v1h-1zM448 97h1v1h-1zM449 79h1v1h-1zM449 81h1v1h-1zM449 83h1v1h-1zM449 84h1v1h-1zM449 85h1v1h-1zM449 86h1v1h-1zM449 87h1v1h-1zM449 93h1v1h-1zM450 80h1v1h-1zM450 82h1v1h-1zM450 83h1v1h-1zM450 84h1v1h-1zM450 85h1v1h-1zM450 86h1v1h-1zM450 87h1v1h-1zM450 88h1v1h-1zM450 92h1v1h-1zM450 95h1v1h-1zM450 99h1v1h-1zM451 82h1v1h-1zM451 83h1v1h-1zM451 86h1v1h-1zM452 76h1v1h-1zM452 81h1v1h-1zM452 83h1v1h-1zM452 84h1v1h-1zM452 85h1v1h-1zM452 86h1v1h-1zM452 87h1v1h-1zM452 89h1v1h-1zM452 90h1v1h-1zM452 91h1v1h-1zM452 92h1v1h-1zM452 95h1v1h-1zM453 80h1v1h-1zM453 81h1v1h-1zM453 85h1v1h-1zM453 86h1v1h-1zM453 87h1v1h-1zM453 88h1v1h-1zM453 89h1v1h-1zM453 93h1v1h-1zM454 82h1v1h-1zM454 85h1v1h-1zM454 90h1v1h-1zM454 92h1v1h-1zM454 104h1v1h-1zM455 81h1v1h-1zM455 83h1v1h-1zM455 86h1v1h-1zM455 89h1v1h-1zM455 90h1v1h-1zM455 92h1v1h-1zM456 79h1v1h-1zM456 84h1v1h-1zM456 85h1v1h-1zM456 86h1v1h-1zM456 87h1v1h-1zM456 89h1v1h-1zM456 90h1v1h-1zM456 92h1v1h-1zM456 95h1v1h-1zM457 81h1v1h-1zM457 82h1v1h-1zM457 83h1v1h-1zM457 85h1v1h-1zM457 87h1v1h-1zM457 88h1v1h-1zM457 89h1v1h-1zM457 93h1v1h-1zM458 81h1v1h-1zM458 83h1v1h-1zM458 85h1v1h-1zM458 87h1v1h-1zM458 88h1v1h-1zM458 91h1v1h-1zM458 92h1v1h-1zM458 93h1v1h-1zM459 82h1v1h-1zM459 83h1v1h-1zM459 87h1v1h-1zM459 88h1v1h-1zM459 91h1v1h-1zM459 92h1v1h-1zM459 94h1v1h-1zM459 95h1v1h-1zM460 79h1v1h-1zM460 82h1v1h-1zM460 86h1v1h-1zM460 87h1v1h-1zM460 88h1v1h-1zM460 89h1v1h-1zM461 76h1v1h-1zM461 79h1v1h-1zM461 83h1v1h-1zM461 87h1v1h-1zM461 88h1v1h-1zM461 89h1v1h-1zM461 92h1v1h-1zM462 78h1v1h-1zM462 80h1v1h-1zM462 83h1v1h-1zM462 85h1v1h-1zM462 87h1v1h-1zM462 88h1v1h-1zM462 89h1v1h-1zM462 91h1v1h-1zM463 83h1v1h-1zM463 84h1v1h-1zM463 87h1v1h-1zM463 90h1v1h-1zM463 92h1v1h-1zM464 84h1v1h-1zM464 87h1v1h-1zM464 92h1v1h-1zM465 83h1v1h-1zM465 87h1v1h-1zM465 88h1v1h-1zM465 90h1v1h-1zM465 92h1v1h-1zM466 81h1v1h-1zM466 83h1v1h-1zM466 88h1v1h-1zM466 89h1v1h-1zM467 80h1v1h-1zM467 84h1v1h-1zM467 86h1v1h-1zM467 93h1v1h-1zM468 85h1v1h-1zM469 80h1v1h-1zM469 81h1v1h-1zM469 86h1v1h-1zM470 84h1v1h-1zM470 93h1v1h-1zM471 83h1v1h-1zM471 92h1v1h-1z" fill="#000" filter="url(#bl)"/>
<path d="M386 90h1v1h-1zM391 100h1v1h-1zM393 93h1v1h-1zM394 93h1v1h-1zM399 85h1v1h-1zM401 74h1v1h-1zM401 94h1v1h-1zM402 95h1v1h-1zM404 97h1v1h-1zM410 106h1v1h-1zM411 80h1v1h-1zM411 106h1v1h-1zM413 75h1v1h-1zM413 105h1v1h-1zM414 75h1v1h-1zM414 112h1v1h-1zM415 69h1v1h-1zM415 102h1v1h-1zM417 95h1v1h-1zM417 107h1v1h-1zM418 105h1v1h-1zM418 106h1v1h-1zM419 81h1v1h-1zM421 73h1v1h-1zM421 95h1v1h-1zM423 80h1v1h-1zM423 95h1v1h-1zM423 106h1v1h-1zM423 108h1v1h-1zM424 75h1v1h-1zM424 82h1v1h-1zM424 104h1v1h-1zM425 75h1v1h-1zM425 96h1v1h-1zM426 96h1v1h-1zM426 105h1v1h-1zM427 79h1v1h-1zM427 90h1v1h-1zM429 109h1v1h-1zM430 93h1v1h-1zM434 108h1v1h-1zM435 96h1v1h-1zM435 99h1v1h-1zM435 103h1v1h-1zM435 105h1v1h-1zM436 81h1v1h-1zM437 87h1v1h-1zM437 99h1v1h-1zM437 102h1v1h-1zM437 110h1v1h-1zM440 92h1v1h-1zM441 98h1v1h-1zM441 100h1v1h-1zM441 102h1v1h-1zM441 106h1v1h-1zM442 95h1v1h-1zM443 93h1v1h-1zM444 100h1v1h-1zM444 102h1v1h-1zM445 74h1v1h-1zM445 95h1v1h-1zM445 100h1v1h-1zM445 109h1v1h-1zM446 82h1v1h-1zM446 102h1v1h-1zM447 75h1v1h-1zM447 103h1v1h-1zM447 104h1v1h-1zM447 107h1v1h-1zM448 87h1v1h-1zM448 94h1v1h-1zM450 90h1v1h-1zM450 94h1v1h-1zM452 99h1v1h-1zM453 82h1v1h-1zM453 100h1v1h-1zM453 102h1v1h-1zM454 78h1v1h-1zM454 93h1v1h-1zM454 95h1v1h-1zM454 98h1v1h-1zM454 109h1v1h-1zM455 87h1v1h-1zM456 93h1v1h-1zM456 111h1v1h-1zM457 86h1v1h-1zM458 96h1v1h-1zM458 107h1v1h-1zM458 108h1v1h-1zM460 108h1v1h-1zM462 95h1v1h-1zM463 100h1v1h-1zM466 100h1v1h-1zM468 96h1v1h-1zM468 105h1v1h-1zM469 100h1v1h-1zM469 106h1v1h-1zM470 91h1v1h-1zM471 105h1v1h-1z" fill="#333" filter="url(#bl)"/>
<path d="M396 74h1v1h-1zM400 74h1v1h-1zM402 74h1v1h-1zM404 72h1v1h-1zM406 70h1v1h-1zM409 71h1v1h-1zM410 73h1v1h-1zM413 73h1v1h-1zM415 73h1v1h-1zM420 74h1v1h-1zM424 70h1v1h-1zM432 75h1v1h-1zM438 69h1v1h-1zM439 69h1v1h-1zM439 77h1v1h-1zM443 69h1v1h-1zM447 74h1v1h-1zM454 77h1v1h-1zM454 80h1v1h-1zM456 72h1v1h-1zM458 80h1v1h-1zM463 74h1v1h-1zM463 75h1v1h-1zM468 79h1v1h-1zM470 72h1v1h-1zM475 70h1v1h-1zM478 72h1v1h-1zM480 78h1v1h-1z" fill="#444" filter="url(#bl)"/>
<path d="M410 114h1v1h-1zM412 120h1v1h-1zM413 113h1v1h-1zM414 160h1v1h-1zM416 151h1v1h-1zM418 102h1v1h-1zM427 75h1v1h-1zM427 96h1v1h-1zM430 115h1v1h-1zM434 74h1v1h-1zM436 113h1v1h-1zM448 113h1v1h-1zM451 96h1v1h-1zM455 114h1v1h-1zM460 129h1v1h-1zM466 93h1v1h-1zM474 122h1v1h-1zM481 87h1v1h-1zM485 133h1v1h-1z" fill="#555" filter="url(#bl)"/>
<path d="M61 247h1v1h-1zM65 249h1v1h-1zM65 250h1v1h-1zM65 258h1v1h-1zM66 241h1v1h-1zM66 251h1v1h-1zM67 244h1v1h-1zM67 247h1v1h-1zM67 249h1v1h-1zM67 250h1v1h-1zM67 253h1v1h-1zM67 255h1v1h-1zM68 242h1v1h-1zM68 243h1v1h-1zM68 245h1v1h-1zM68 251h1v1h-1zM68 253h1v1h-1zM68 254h1v1h-1zM68 255h1v1h-1zM68 256h1v1h-1zM68 257h1v1h-1zM69 244h1v1h-1zM69 246h1v1h-1zM69 247h1v1h-1zM69 248h1v1h-1zM69 249h1v1h-1zM69 252h1v1h-1zM69 254h1v1h-1zM70 239h1v1h-1zM70 241h1v1h-1zM70 244h1v1h-1zM70 248h1v1h-1zM70 249h1v1h-1zM70 250h1v1h-1zM70 251h1v1h-1zM70 255h1v1h-1zM70 256h1v1h-1zM70 257h1v1h-1zM70 264h1v1h-1zM71 240h1v1h-1zM71 246h1v1h-1zM71 247h1v1h-1zM71 248h1v1h-1zM71 250h1v1h-1zM71 251h1v1h-1zM71 252h1v1h-1zM71 253h1v1h-1zM71 254h1v1h-1zM71 255h1v1h-1zM71 256h1v1h-1zM71 258h1v1h-1zM72 240h1v1h-1zM72 241h1v1h-1zM72 245h1v1h-1zM72 246h1v1h-1zM72 247h1v1h-1zM72 249h1v1h-1zM72 250h1v1h-1zM72 251h1v1h-1zM72 252h1v1h-1zM72 253h1v1h-1zM72 254h1v1h-1zM72 255h1v1h-1zM72 257h1v1h-1zM73 242h1v1h-1zM73 243h1v1h-1zM73 244h1v1h-1zM73 245h1v1h-1zM73 246h1v1h-1zM73 247h1v1h-1zM73 248h1v1h-1zM73 249h1v1h-1zM73 250h1v1h-1zM73 251h1v1h-1zM73 253h1v1h-1zM73 254h1v1h-1zM73 256h1v1h-1zM73 257h1v1h-1zM73 258h1v1h-1zM74 236h1v1h-1zM74 240h1v1h-1zM74 242h1v1h-1zM74 243h1v1h-1zM74 244h1v1h-1zM74 245h1v1h-1zM74 246h1v1h-1zM74 247h1v1h-1zM74 248h1v1h-1zM74 249h1v1h-1zM74 250h1v1h-1zM74 251h1v1h-1zM74 252h1v1h-1zM74 253h1v1h-1zM74 254h1v1h-1zM74 255h1v1h-1zM74 256h1v1h-1zM74 260h1v1h-1zM74 263h1v1h-1zM74 265h1v1h-1zM75 236h1v1h-1zM75 241h1v1h-1zM75 242h1v1h-1zM75 243h1v1h-1zM75 245h1v1h-1zM75 246h1v1h-1zM75 247h1v1h-1zM75 248h1v1h-1zM75 249h1v1h-1zM75 250h1v1h-1zM75 251h1v1h-1zM75 252h1v1h-1zM75 253h1v1h-1zM75 254h1v1h-1zM75 255h1v1h-1zM75 256h1v1h-1zM75 257h1v1h-1zM75 258h1v1h-1zM75 259h1v1h-1zM75 260h1v1h-1zM75 264h1v1h-1zM76 240h1v1h-1zM76 241h1v1h-1zM76 242h1v1h-1zM76 243h1v1h-1zM76 244h1v1h-1zM76 245h1v1h-1zM76 246h1v1h-1zM76 247h1v1h-1zM76 248h1v1h-1zM76 249h1v1h-1zM76 250h1v1h-1zM76 251h1v1h-1zM76 252h1v1h-1zM76 253h1v1h-1zM76 254h1v1h-1zM76 255h1v1h-1zM76 256h1v1h-1zM76 257h1v1h-1zM76 258h1v1h-1zM76 259h1v1h-1zM76 263h1v1h-1zM77 239h1v1h-1zM77 240h1v1h-1zM77 241h1v1h-1zM77 242h1v1h-1zM77 243h1v1h-1zM77 244h1v1h-1zM77 245h1v1h-1zM77 246h1v1h-1zM77 247h1v1h-1zM77 248h1v1h-1zM77 249h1v1h-1zM77 250h1v1h-1zM77 251h1v1h-1zM77 252h1v1h-1zM77 253h1v1h-1zM77 254h1v1h-1zM77 255h1v1h-1zM77 256h1v1h-1zM77 257h1v1h-1zM77 260h1v1h-1zM77 262h1v1h-1zM78 240h1v1h-1zM78 241h1v1h-1zM78 242h1v1h-1zM78 243h1v1h-1zM78 244h1v1h-1zM78 245h1v1h-1zM78 246h1v1h-1zM78 247h1v1h-1zM78 248h1v1h-1zM78 249h1v1h-1zM78 250h1v1h-1zM78 251h1v1h-1zM78 252h1v1h-1zM78 253h1v1h-1zM78 254h1v1h-1zM78 255h1v1h-1zM78 256h1v1h-1zM78 257h1v1h-1zM78 258h1v1h-1zM78 260h1v1h-1zM79 238h1v1h-1zM79 239h1v1h-1zM79 241h1v1h-1zM79 243h1v1h-1zM79 244h1v1h-1zM79 245h1v1h-1zM79 246h1v1h-1zM79 247h1v1h-1zM79 248h1v1h-1zM79 249h1v1h-1zM79 250h1v1h-1zM79 251h1v1h-1zM79 252h1v1h-1zM79 253h1v1h-1zM79 254h1v1h-1zM79 255h1v1h-1zM79 256h1v1h-1zM79 257h1v1h-1zM79 258h1v1h-1zM79 259h1v1h-1zM79 260h1v1h-1zM79 261h1v1h-1zM80 240h1v1h-1zM80 241h1v1h-1zM80 242h1v1h-1zM80 243h1v1h-1zM80 244h1v1h-1zM80 245h1v1h-1zM80 246h1v1h-1zM80 247h1v1h-1zM80 248h1v1h-1zM80 249h1v1h-1zM80 250h1v1h-1zM80 251h1v1h-1zM80 252h1v1h-1zM80 253h1v1h-1zM80 254h1v1h-1zM80 255h1v1h-1zM80 256h1v1h-1zM80 257h1v1h-1zM80 258h1v1h-1zM80 259h1v1h-1zM80 260h1v1h-1zM80 266h1v1h-1zM80 267h1v1h-1zM81 239h1v1h-1zM81 240h1v1h-1zM81 242h1v1h-1zM81 243h1v1h-1zM81 244h1v1h-1zM81 245h1v1h-1zM81 246h1v1h-1zM81 247h1v1h-1zM81 248h1v1h-1zM81 249h1v1h-1zM81 250h1v1h-1zM81 251h1v1h-1zM81 252h1v1h-1zM81 253h1v1h-1zM81 254h1v1h-1zM81 255h1v1h-1zM81 256h1v1h-1zM81 257h1v1h-1zM81 259h1v1h-1zM81 260h1v1h-1zM81 262h1v1h-1zM82 239h1v1h-1zM82 240h1v1h-1zM82 241h1v1h-1zM82 242h1v1h-1zM82 243h1v1h-1zM82 244h1v1h-1zM82 245h1v1h-1zM82 246h1v1h-1zM82 247h1v1h-1zM82 248h1v1h-1zM82 249h1v1h-1zM82 250h1v1h-1zM82 251h1v1h-1zM82 252h1v1h-1zM82 253h1v1h-1zM82 254h1v1h-1zM82 255h1v1h-1zM82 256h1v1h-1zM82 257h1v1h-1zM82 258h1v1h-1zM82 259h1v1h-1zM82 260h1v1h-1zM82 261h1v1h-1zM83 238h1v1h-1zM83 241h1v1h-1zM83 242h1v1h-1zM83 243h1v1h-1zM83 244h1v1h-1zM83 245h1v1h-1zM83 246h1v1h-1zM83 247h1v1h-1zM83 248h1v1h-1zM83 249h1v1h-1zM83 250h1v1h-1zM83 251h1v1h-1zM83 252h1v1h-1zM83 253h1v1h-1zM83 254h1v1h-1zM83 255h1v1h-1zM83 256h1v1h-1zM83 257h1v1h-1zM83 258h1v1h-1zM83 261h1v1h-1zM83 263h1v1h-1zM83 264h1v1h-1zM83 266h1v1h-1zM84 240h1v1h-1zM84 241h1v1h-1zM84 242h1v1h-1zM84 244h1v1h-1zM84 245h1v1h-1zM84 246h1v1h-1zM84 247h1v1h-1zM84 248h1v1h-1zM84 249h1v1h-1zM84 250h1v1h-1zM84 251h1v1h-1zM84 252h1v1h-1zM84 253h1v1h-1zM84 254h1v1h-1zM84 255h1v1h-1zM84 256h1v1h-1zM84 257h1v1h-1zM84 259h1v1h-1zM84 263h1v1h-1zM85 240h1v1h-1zM85 241h1v1h-1zM85 242h1v1h-1zM85 243h1v1h-1zM85 244h1v1h-1zM85 245h1v1h-1zM85 246h1v1h-1zM85 247h1v1h-1zM85 248h1v1h-1zM85 249h1v1h-1zM85 250h1v1h-1zM85 251h1v1h-1zM85 252h1v1h-1zM85 253h1v1h-1zM85 254h1v1h-1zM85 255h1v1h-1zM85 256h1v1h-1zM85 257h1v1h-1zM85 260h1v1h-1zM85 265h1v1h-1zM86 241h1v1h-1zM86 243h1v1h-1zM86 244h1v1h-1zM86 245h1v1h-1zM86 246h1v1h-1zM86 248h1v1h-1zM86 249h1v1h-1zM86 250h1v1h-1zM86 251h1v1h-1zM86 252h1v1h-1zM86 253h1v1h-1zM86 254h1v1h-1zM86 255h1v1h-1zM86 256h1v1h-1zM86 257h1v1h-1zM86 259h1v1h-1zM86 262h1v1h-1zM86 267h1v1h-1zM87 241h1v1h-1zM87 242h1v1h-1zM87 243h1v1h-1zM87 244h1v1h-1zM87 245h1v1h-1zM87 246h1v1h-1zM87 247h1v1h-1zM87 248h1v1h-1zM87 249h1v1h-1zM87 250h1v1h-1zM87 251h1v1h-1zM87 252h1v1h-1zM87 253h1v1h-1zM87 254h1v1h-1zM87 255h1v1h-1zM87 256h1v1h-1zM87 257h1v1h-1zM87 259h1v1h-1zM87 260h1v1h-1zM87 263h1v1h-1zM87 264h1v1h-1zM88 236h1v1h-1zM88 239h1v1h-1zM88 241h1v1h-1zM88 243h1v1h-1zM88 244h1v1h-1zM88 245h1v1h-1zM88 248h1v1h-1zM88 249h1v1h-1zM88 250h1v1h-1zM88 251h1v1h-1zM88 252h1v1h-1zM88 254h1v1h-1zM88 255h1v1h-1zM88 256h1v1h-1zM88 257h1v1h-1zM88 258h1v1h-1zM89 242h1v1h-1zM89 244h1v1h-1zM89 245h1v1h-1zM89 246h1v1h-1zM89 247h1v1h-1zM89 248h1v1h-1zM89 249h1v1h-1zM89 250h1v1h-1zM89 251h1v1h-1zM89 252h1v1h-1zM89 255h1v1h-1zM90 245h1v1h-1zM90 246h1v1h-1zM90 247h1v1h-1zM90 248h1v1h-1zM90 249h1v1h-1zM90 250h1v1h-1zM90 251h1v1h-1zM90 253h1v1h-1zM90 254h1v1h-1zM90 255h1v1h-1zM90 256h1v1h-1zM90 257h1v1h-1zM90 258h1v1h-1zM90 261h1v1h-1zM91 244h1v1h-1zM91 245h1v1h-1zM91 246h1v1h-1zM91 247h1v1h-1zM91 248h1v1h-1zM91 249h1v1h-1zM91 251h1v1h-1zM91 252h1v1h-1zM91 253h1v1h-1zM91 254h1v1h-1zM91 255h1v1h-1zM91 256h1v1h-1zM91 257h1v1h-1zM91 258h1v1h-1zM91 259h1v1h-1zM91 260h1v1h-1zM91 262h1v1h-1zM92 241h1v1h-1zM92 243h1v1h-1zM92 244h1v1h-1zM92 245h1v1h-1zM92 246h1v1h-1zM92 247h1v1h-1zM92 248h1v1h-1zM92 249h1v1h-1zM92 250h1v1h-1zM92 251h1v1h-1zM92 252h1v1h-1zM92 253h1v1h-1zM92 254h1v1h-1zM92 257h1v1h-1zM92 258h1v1h-1zM92 259h1v1h-1zM93 240h1v1h-1zM93 249h1v1h-1zM93 250h1v1h-1zM93 252h1v1h-1zM93 254h1v1h-1zM93 255h1v1h-1zM93 256h1v1h-1zM93 259h1v1h-1zM93 263h1v1h-1zM93 264h1v1h-1zM94 241h1v1h-1zM94 247h1v1h-1zM94 248h1v1h-1zM94 250h1v1h-1zM94 251h1v1h-1zM94 254h1v1h-1zM94 255h1v1h-1zM94 256h1v1h-1zM94 257h1v1h-1zM94 259h1v1h-1zM95 244h1v1h-1zM95 245h1v1h-1zM95 248h1v1h-1zM95 250h1v1h-1zM95 251h1v1h-1zM95 253h1v1h-1zM95 255h1v1h-1zM95 256h1v1h-1zM95 257h1v1h-1zM95 258h1v1h-1zM95 263h1v1h-1zM96 241h1v1h-1zM96 242h1v1h-1zM96 244h1v1h-1zM96 246h1v1h-1zM96 249h1v1h-1zM96 252h1v1h-1zM96 255h1v1h-1zM96 256h1v1h-1zM96 257h1v1h-1zM96 261h1v1h-1zM97 246h1v1h-1zM97 247h1v1h-1zM97 248h1v1h-1zM97 251h1v1h-1zM97 253h1v1h-1zM97 255h1v1h-1zM97 257h1v1h-1zM97 259h1v1h-1zM97 261h1v1h-1zM97 267h1v1h-1zM98 247h1v1h-1zM98 248h1v1h-1zM98 249h1v1h-1zM98 250h1v1h-1zM98 252h1v1h-1zM98 253h1v1h-1zM98 255h1v1h-1zM98 256h1v1h-1zM98 257h1v1h-1zM98 259h1v1h-1zM98 260h1v1h-1zM98 261h1v1h-1zM99 244h1v1h-1zM99 247h1v1h-1zM99 249h1v1h-1zM99 250h1v1h-1zM99 251h1v1h-1zM99 252h1v1h-1zM99 253h1v1h-1zM99 254h1v1h-1zM99 257h1v1h-1zM99 258h1v1h-1zM99 259h1v1h-1zM99 264h1v1h-1zM100 246h1v1h-1zM100 247h1v1h-1zM100 248h1v1h-1zM100 250h1v1h-1zM100 251h1v1h-1zM100 252h1v1h-1zM100 253h1v1h-1zM100 254h1v1h-1zM100 255h1v1h-1zM100 257h1v1h-1zM100 258h1v1h-1zM100 261h1v1h-1zM100 263h1v1h-1zM101 246h1v1h-1zM101 247h1v1h-1zM101 249h1v1h-1zM101 250h1v1h-1zM101 251h1v1h-1zM101 252h1v1h-1zM101 253h1v1h-1zM101 255h1v1h-1zM101 256h1v1h-1zM101 259h1v1h-1zM101 260h1v1h-1zM102 244h1v1h-1zM102 246h1v1h-1zM102 247h1v1h-1zM102 248h1v1h-1zM102 249h1v1h-1zM102 250h1v1h-1zM102 253h1v1h-1zM102 254h1v1h-1zM102 255h1v1h-1zM102 258h1v1h-1zM102 259h1v1h-1zM102 260h1v1h-1zM102 263h1v1h-1zM103 245h1v1h-1zM103 246h1v1h-1zM103 248h1v1h-1zM103 249h1v1h-1zM103 250h1v1h-1zM103 251h1v1h-1zM103 252h1v1h-1zM103 253h1v1h-1zM103 255h1v1h-1zM103 257h1v1h-1zM103 258h1v1h-1zM103 259h1v1h-1zM104 248h1v1h-1zM104 249h1v1h-1zM104 250h1v1h-1zM104 251h1v1h-1zM104 253h1v1h-1zM104 255h1v1h-1zM104 256h1v1h-1zM104 257h1v1h-1zM105 244h1v1h-1zM105 246h1v1h-1zM105 248h1v1h-1zM105 249h1v1h-1zM105 250h1v1h-1zM105 251h1v1h-1zM105 255h1v1h-1zM105 257h1v1h-1zM105 259h1v1h-1zM105 264h1v1h-1zM106 245h1v1h-1zM106 246h1v1h-1zM106 247h1v1h-1zM106 248h1v1h-1zM106 250h1v1h-1zM106 251h1v1h-1zM106 252h1v1h-1zM106 253h1v1h-1zM106 255h1v1h-1zM106 260h1v1h-1zM106 262h1v1h-1zM107 248h1v1h-1zM107 253h1v1h-1zM107 254h1v1h-1zM107 255h1v1h-1zM107 257h1v1h-1zM107 258h1v1h-1zM108 242h1v1h-1zM108 246h1v1h-1zM108 247h1v1h-1zM108 249h1v1h-1zM108 251h1v1h-1zM108 253h1v1h-1zM109 243h1v1h-1zM109 244h1v1h-1zM109 245h1v1h-1zM109 246h1v1h-1zM109 247h1v1h-1zM109 248h1v1h-1zM109 250h1v1h-1zM109 252h1v1h-1zM109 253h1v1h-1zM109 256h1v1h-1zM109 260h1v1h-1zM109 262h1v1h-1zM109 264h1v1h-1zM110 242h1v1h-1zM110 246h1v1h-1zM110 248h1v1h-1zM110 249h1v1h-1zM110 250h1v1h-1zM110 251h1v1h-1zM110 253h1v1h-1zM110 255h1v1h-1zM110 257h1v1h-1zM110 259h1v1h-1zM111 244h1v1h-1zM111 245h1v1h-1zM111 246h1v1h-1zM111 248h1v1h-1zM111 249h1v1h-1zM111 251h1v1h-1zM111 252h1v1h-1zM111 253h1v1h-1zM111 254h1v1h-1zM111 255h1v1h-1zM111 256h1v1h-1zM111 263h1v1h-1zM112 242h1v1h-1zM112 247h1v1h-1zM112 248h1v1h-1zM112 249h1v1h-1zM112 251h1v1h-1zM112 252h1v1h-1zM112 254h1v1h-1zM112 257h1v1h-1zM112 258h1v1h-1zM112 260h1v1h-1zM112 263h1v1h-1zM113 249h1v1h-1zM113 251h1v1h-1zM113 252h1v1h-1zM113 255h1v1h-1zM113 257h1v1h-1zM114 242h1v1h-1zM114 248h1v1h-1zM114 249h1v1h-1zM114 250h1v1h-1zM114 251h1v1h-1zM114 253h1v1h-1zM114 255h1v1h-1zM114 256h1v1h-1zM114 263h1v1h-1zM115 244h1v1h-1zM115 246h1v1h-1zM115 248h1v1h-1zM115 250h1v1h-1zM115 251h1v1h-1zM115 252h1v1h-1zM115 254h1v1h-1zM115 256h1v1h-1zM116 243h1v1h-1zM116 244h1v1h-1zM116 248h1v1h-1zM116 249h1v1h-1zM116 252h1v1h-1zM116 253h1v1h-1zM116 261h1v1h-1zM116 263h1v1h-1zM116 266h1v1h-1zM117 240h1v1h-1zM117 246h1v1h-1zM117 248h1v1h-1zM117 249h1v1h-1zM117 250h1v1h-1zM117 251h1v1h-1zM117 252h1v1h-1zM117 253h1v1h-1zM117 256h1v1h-1zM117 257h1v1h-1zM117 258h1v1h-1zM117 259h1v1h-1zM118 249h1v1h-1zM118 251h1v1h-1zM118 252h1v1h-1zM118 257h1v1h-1zM118 262h1v1h-1zM119 246h1v1h-1zM119 249h1v1h-1zM119 260h1v1h-1zM119 266h1v1h-1zM120 245h1v1h-1zM120 247h1v1h-1zM120 248h1v1h-1zM120 250h1v1h-1zM120 251h1v1h-1zM120 253h1v1h-1zM120 255h1v1h-1zM121 245h1v1h-1zM121 246h1v1h-1zM121 248h1v1h-1zM121 249h1v1h-1zM121 250h1v1h-1zM121 251h1v1h-1zM121 253h1v1h-1zM121 257h1v1h-1zM121 258h1v1h-1zM122 246h1v1h-1zM122 249h1v1h-1zM122 250h1v1h-1zM122 251h1v1h-1zM122 252h1v1h-1zM122 254h1v1h-1zM122 255h1v1h-1zM122 257h1v1h-1zM122 261h1v1h-1zM123 250h1v1h-1zM123 252h1v1h-1zM123 255h1v1h-1zM123 258h1v1h-1zM123 259h1v1h-1zM124 246h1v1h-1zM124 247h1v1h-1zM124 248h1v1h-1zM124 251h1v1h-1zM124 263h1v1h-1zM125 250h1v1h-1zM125 253h1v1h-1zM125 256h1v1h-1zM126 245h1v1h-1zM126 250h1v1h-1zM126 251h1v1h-1zM126 253h1v1h-1zM126 255h1v1h-1zM126 256h1v1h-1zM126 264h1v1h-1zM127 239h1v1h-1zM127 246h1v1h-1zM127 248h1v1h-1zM127 251h1v1h-1zM127 253h1v1h-1zM127 255h1v1h-1zM127 260h1v1h-1zM128 248h1v1h-1zM128 251h1v1h-1zM128 254h1v1h-1zM128 260h1v1h-1zM128 263h1v1h-1zM129 249h1v1h-1zM129 250h1v1h-1zM129 251h1v1h-1zM129 252h1v1h-1zM129 253h1v1h-1zM130 243h1v1h-1zM130 249h1v1h-1zM130 250h1v1h-1zM130 253h1v1h-1zM130 261h1v1h-1zM131 252h1v1h-1z" fill="#000" filter="url(#bl)"/>
<path d="M61 273h1v1h-1zM62 262h1v1h-1zM62 272h1v1h-1zM63 249h1v1h-1zM63 264h1v1h-1zM63 265h1v1h-1zM63 267h1v1h-1zM63 273h1v1h-1zM64 248h1v1h-1zM64 251h1v1h-1zM64 252h1v1h-1zM64 260h1v1h-1zM65 251h1v1h-1zM65 264h1v1h-1zM65 279h1v1h-1zM66 265h1v1h-1zM66 269h1v1h-1zM66 275h1v1h-1zM66 278h1v1h-1zM67 280h1v1h-1zM68 268h1v1h-1zM68 277h1v1h-1zM69 270h1v1h-1zM70 271h1v1h-1zM71 279h1v1h-1zM72 262h1v1h-1zM72 268h1v1h-1zM73 259h1v1h-1zM73 269h1v1h-1zM73 271h1v1h-1zM74 270h1v1h-1zM75 244h1v1h-1zM75 262h1v1h-1zM75 276h1v1h-1zM76 260h1v1h-1zM76 269h1v1h-1zM76 271h1v1h-1zM77 267h1v1h-1zM77 268h1v1h-1zM78 262h1v1h-1zM79 267h1v1h-1zM79 280h1v1h-1zM80 261h1v1h-1zM80 264h1v1h-1zM80 265h1v1h-1zM80 268h1v1h-1zM80 273h1v1h-1zM80 276h1v1h-1zM80 280h1v1h-1zM80 281h1v1h-1zM81 264h1v1h-1zM81 269h1v1h-1zM81 272h1v1h-1zM81 278h1v1h-1zM82 268h1v1h-1zM82 270h1v1h-1zM82 273h1v1h-1zM82 276h1v1h-1zM82 280h1v1h-1zM83 259h1v1h-1zM84 266h1v1h-1zM84 270h1v1h-1zM84 274h1v1h-1zM84 283h1v1h-1zM85 261h1v1h-1zM85 262h1v1h-1zM85 263h1v1h-1zM85 264h1v1h-1zM85 267h1v1h-1zM85 272h1v1h-1zM85 273h1v1h-1zM86 258h1v1h-1zM86 261h1v1h-1zM86 266h1v1h-1zM86 277h1v1h-1zM86 278h1v1h-1zM86 279h1v1h-1zM87 258h1v1h-1zM87 265h1v1h-1zM87 270h1v1h-1zM88 266h1v1h-1zM88 269h1v1h-1zM88 276h1v1h-1zM89 263h1v1h-1zM89 267h1v1h-1zM89 268h1v1h-1zM89 277h1v1h-1zM90 274h1v1h-1zM91 265h1v1h-1zM91 267h1v1h-1zM91 278h1v1h-1zM92 270h1v1h-1zM92 272h1v1h-1zM92 273h1v1h-1zM93 257h1v1h-1zM93 258h1v1h-1zM93 266h1v1h-1zM93 269h1v1h-1zM93 275h1v1h-1zM94 265h1v1h-1zM94 271h1v1h-1zM94 275h1v1h-1zM94 276h1v1h-1zM95 259h1v1h-1zM95 260h1v1h-1zM95 264h1v1h-1zM95 270h1v1h-1zM95 275h1v1h-1zM95 276h1v1h-1zM95 278h1v1h-1zM96 258h1v1h-1zM96 260h1v1h-1zM96 268h1v1h-1zM96 277h1v1h-1zM96 282h1v1h-1zM97 256h1v1h-1zM97 271h1v1h-1zM97 273h1v1h-1zM97 274h1v1h-1zM98 262h1v1h-1zM98 265h1v1h-1zM98 266h1v1h-1zM98 267h1v1h-1zM98 270h1v1h-1zM98 276h1v1h-1zM99 245h1v1h-1zM99 270h1v1h-1zM99 276h1v1h-1zM99 277h1v1h-1zM100 265h1v1h-1zM100 269h1v1h-1zM100 285h1v1h-1zM101 261h1v1h-1zM101 266h1v1h-1zM101 268h1v1h-1zM101 272h1v1h-1zM102 264h1v1h-1zM102 269h1v1h-1zM102 275h1v1h-1zM102 278h1v1h-1zM103 256h1v1h-1zM103 263h1v1h-1zM103 279h1v1h-1zM104 259h1v1h-1zM104 270h1v1h-1zM104 275h1v1h-1zM105 247h1v1h-1zM105 268h1v1h-1zM105 270h1v1h-1zM105 276h1v1h-1zM105 279h1v1h-1zM106 257h1v1h-1zM106 264h1v1h-1zM106 274h1v1h-1zM107 274h1v1h-1zM108 267h1v1h-1zM108 268h1v1h-1zM108 269h1v1h-1zM108 273h1v1h-1zM108 275h1v1h-1zM109 273h1v1h-1zM110 256h1v1h-1zM111 270h1v1h-1zM111 274h1v1h-1zM112 261h1v1h-1zM113 238h1v1h-1zM113 262h1v1h-1zM113 265h1v1h-1zM114 260h1v1h-1zM114 266h1v1h-1zM114 275h1v1h-1zM116 255h1v1h-1zM117 242h1v1h-1zM117 272h1v1h-1zM117 275h1v1h-1zM118 244h1v1h-1zM118 261h1v1h-1zM118 264h1v1h-1zM118 274h1v1h-1zM119 265h1v1h-1zM120 269h1v1h-1zM120 272h1v1h-1zM121 261h1v1h-1zM121 268h1v1h-1zM121 273h1v1h-1zM121 277h1v1h-1zM122 267h1v1h-1zM124 236h1v1h-1zM124 261h1v1h-1zM124 273h1v1h-1zM124 287h1v1h-1zM125 265h1v1h-1zM125 270h1v1h-1zM126 275h1v1h-1zM127 275h1v1h-1zM127 278h1v1h-1zM128 267h1v1h-1zM128 268h1v1h-1zM129 267h1v1h-1zM130 260h1v1h-1zM130 262h1v1h-1zM130 270h1v1h-1zM130 274h1v1h-1zM130 277h1v1h-1zM131 266h1v1h-1zM134 275h1v1h-1zM134 277h1v1h-1zM135 263h1v1h-1zM135 278h1v1h-1zM136 260h1v1h-1zM136 263h1v1h-1zM136 265h1v1h-1zM136 269h1v1h-1zM137 260h1v1h-1zM137 266h1v1h-1zM137 270h1v1h-1zM137 273h1v1h-1zM138 271h1v1h-1zM139 264h1v1h-1zM139 272h1v1h-1zM139 275h1v1h-1zM140 261h1v1h-1zM140 268h1v1h-1zM140 269h1v1h-1zM140 274h1v1h-1zM140 276h1v1h-1zM140 277h1v1h-1zM140 279h1v1h-1zM142 265h1v1h-1zM142 272h1v1h-1zM142 277h1v1h-1zM144 264h1v1h-1z" fill="#333" filter="url(#bl)"/>
<path d="M69 289h1v1h-1zM69 305h1v1h-1zM72 288h1v1h-1zM76 314h1v1h-1zM77 287h1v1h-1zM79 305h1v1h-1zM80 320h1v1h-1zM80 322h1v1h-1zM81 293h1v1h-1zM81 316h1v1h-1zM82 289h1v1h-1zM83 332h1v1h-1zM85 328h1v1h-1zM88 283h1v1h-1zM88 340h1v1h-1zM93 287h1v1h-1zM93 293h1v1h-1zM97 302h1v1h-1zM101 286h1v1h-1zM101 289h1v1h-1zM101 301h1v1h-1zM104 296h1v1h-1zM107 290h1v1h-1zM108 298h1v1h-1zM110 290h1v1h-1zM110 292h1v1h-1zM114 291h1v1h-1zM116 294h1v1h-1zM119 293h1v1h-1zM125 303h1v1h-1zM127 294h1v1h-1zM127 301h1v1h-1zM128 285h1v1h-1zM128 296h1v1h-1zM136 287h1v1h-1zM137 294h1v1h-1zM139 285h1v1h-1zM140 296h1v1h-1zM146 286h1v1h-1zM147 297h1v1h-1z" fill="#4a4a4a" filter="url(#bl)"/>
<path d="M102 236h1v1h-1zM106 261h1v1h-1zM116 237h1v1h-1zM122 235h1v1h-1zM124 254h1v1h-1zM127 259h1v1h-1zM127 264h1v1h-1zM140 257h1v1h-1zM145 233h1v1h-1zM151 241h1v1h-1zM159 264h1v1h-1zM162 271h1v1h-1z" fill="#555" filter="url(#bl)"/>
<path d="M66 296h1v1h-1zM67 325h1v1h-1zM68 295h1v1h-1zM69 303h1v1h-1zM69 326h1v1h-1zM70 307h1v1h-1zM72 292h1v1h-1zM73 307h1v1h-1zM73 313h1v1h-1zM76 320h1v1h-1zM81 322h1v1h-1zM82 286h1v1h-1zM82 344h1v1h-1zM86 342h1v1h-1zM88 342h1v1h-1zM92 282h1v1h-1zM94 311h1v1h-1zM99 310h1v1h-1zM102 294h1v1h-1zM103 304h1v1h-1zM104 308h1v1h-1zM106 300h1v1h-1zM107 301h1v1h-1zM107 306h1v1h-1zM112 289h1v1h-1zM113 293h1v1h-1zM115 284h1v1h-1zM117 308h1v1h-1zM120 305h1v1h-1zM121 283h1v1h-1zM121 311h1v1h-1zM122 304h1v1h-1zM123 284h1v1h-1zM123 287h1v1h-1zM125 291h1v1h-1zM127 312h1v1h-1zM128 283h1v1h-1zM130 291h1v1h-1zM132 292h1v1h-1zM133 286h1v1h-1zM135 290h1v1h-1zM138 301h1v1h-1zM139 288h1v1h-1zM141 295h1v1h-1zM146 294h1v1h-1z" fill="#999" filter="url(#bl)"/>
<path d="M223 264h1v1h-1zM224 259h1v1h-1zM224 261h1v1h-1zM224 262h1v1h-1zM224 264h1v1h-1zM224 265h1v1h-1zM224 267h1v1h-1zM225 253h1v1h-1zM225 254h1v1h-1zM225 258h1v1h-1zM225 260h1v1h-1zM225 262h1v1h-1zM225 265h1v1h-1zM225 266h1v1h-1zM225 268h1v1h-1zM226 251h1v1h-1zM226 252h1v1h-1zM226 253h1v1h-1zM226 255h1v1h-1zM226 258h1v1h-1zM226 259h1v1h-1zM226 260h1v1h-1zM226 261h1v1h-1zM226 262h1v1h-1zM226 263h1v1h-1zM226 264h1v1h-1zM226 268h1v1h-1zM227 244h1v1h-1zM227 248h1v1h-1zM227 254h1v1h-1zM227 255h1v1h-1zM227 256h1v1h-1zM227 257h1v1h-1zM227 258h1v1h-1zM227 259h1v1h-1zM227 260h1v1h-1zM227 261h1v1h-1zM227 262h1v1h-1zM227 264h1v1h-1zM227 265h1v1h-1zM227 267h1v1h-1zM227 275h1v1h-1zM228 249h1v1h-1zM228 250h1v1h-1zM228 251h1v1h-1zM228 252h1v1h-1zM228 253h1v1h-1zM228 254h1v1h-1zM228 255h1v1h-1zM228 256h1v1h-1zM228 257h1v1h-1zM228 258h1v1h-1zM228 260h1v1h-1zM228 261h1v1h-1zM228 262h1v1h-1zM228 263h1v1h-1zM228 264h1v1h-1zM228 265h1v1h-1zM228 266h1v1h-1zM228 267h1v1h-1zM228 270h1v1h-1zM229 248h1v1h-1zM229 249h1v1h-1zM229 250h1v1h-1zM229 252h1v1h-1zM229 254h1v1h-1zM229 255h1v1h-1zM229 257h1v1h-1zM229 258h1v1h-1zM229 259h1v1h-1zM229 261h1v1h-1zM229 263h1v1h-1zM229 266h1v1h-1zM230 244h1v1h-1zM230 245h1v1h-1zM230 246h1v1h-1zM230 247h1v1h-1zM230 248h1v1h-1zM230 249h1v1h-1zM230 250h1v1h-1zM230 251h1v1h-1zM230 253h1v1h-1zM230 254h1v1h-1zM230 255h1v1h-1zM230 256h1v1h-1zM230 257h1v1h-1zM230 258h1v1h-1zM230 260h1v1h-1zM230 261h1v1h-1zM230 263h1v1h-1zM230 264h1v1h-1zM230 265h1v1h-1zM230 269h1v1h-1zM230 272h1v1h-1zM231 245h1v1h-1zM231 246h1v1h-1zM231 247h1v1h-1zM231 248h1v1h-1zM231 250h1v1h-1zM231 251h1v1h-1zM231 252h1v1h-1zM231 253h1v1h-1zM231 254h1v1h-1zM231 255h1v1h-1zM231 256h1v1h-1zM231 257h1v1h-1zM231 258h1v1h-1zM231 260h1v1h-1zM231 261h1v1h-1zM231 262h1v1h-1zM231 263h1v1h-1zM231 264h1v1h-1zM231 265h1v1h-1zM231 266h1v1h-1zM231 268h1v1h-1zM231 270h1v1h-1zM232 246h1v1h-1zM232 250h1v1h-1zM232 252h1v1h-1zM232 253h1v1h-1zM232 254h1v1h-1zM232 255h1v1h-1zM232 256h1v1h-1zM232 257h1v1h-1zM232 258h1v1h-1zM232 259h1v1h-1zM232 260h1v1h-1zM232 261h1v1h-1zM232 262h1v1h-1zM232 263h1v1h-1zM232 264h1v1h-1zM232 268h1v1h-1zM232 269h1v1h-1zM233 247h1v1h-1zM233 248h1v1h-1zM233 249h1v1h-1zM233 250h1v1h-1zM233 252h1v1h-1zM233 253h1v1h-1zM233 254h1v1h-1zM233 255h1v1h-1zM233 256h1v1h-1zM233 257h1v1h-1zM233 258h1v1h-1zM233 259h1v1h-1zM233 261h1v1h-1zM233 262h1v1h-1zM233 264h1v1h-1zM233 266h1v1h-1zM233 269h1v1h-1zM234 242h1v1h-1zM234 246h1v1h-1zM234 247h1v1h-1zM234 248h1v1h-1zM234 249h1v1h-1zM234 250h1v1h-1zM234 251h1v1h-1zM234 252h1v1h-1zM234 253h1v1h-1zM234 254h1v1h-1zM234 255h1v1h-1zM234 256h1v1h-1zM234 257h1v1h-1zM234 258h1v1h-1zM234 259h1v1h-1zM234 260h1v1h-1zM234 261h1v1h-1zM234 262h1v1h-1zM234 263h1v1h-1zM234 264h1v1h-1zM234 265h1v1h-1zM234 266h1v1h-1zM234 267h1v1h-1zM235 243h1v1h-1zM235 244h1v1h-1zM235 245h1v1h-1zM235 246h1v1h-1zM235 247h1v1h-1zM235 248h1v1h-1zM235 249h1v1h-1zM235 250h1v1h-1zM235 251h1v1h-1zM235 252h1v1h-1zM235 253h1v1h-1zM235 254h1v1h-1zM235 255h1v1h-1zM235 256h1v1h-1zM235 257h1v1h-1zM235 258h1v1h-1zM235 259h1v1h-1zM235 260h1v1h-1zM235 261h1v1h-1zM235 262h1v1h-1zM235 264h1v1h-1zM235 267h1v1h-1zM236 242h1v1h-1zM236 243h1v1h-1zM236 244h1v1h-1zM236 245h1v1h-1zM236 246h1v1h-1zM236 247h1v1h-1zM236 248h1v1h-1zM236 249h1v1h-1zM236 250h1v1h-1zM236 251h1v1h-1zM236 252h1v1h-1zM236 253h1v1h-1zM236 254h1v1h-1zM236 255h1v1h-1zM236 256h1v1h-1zM236 257h1v1h-1zM236 258h1v1h-1zM236 259h1v1h-1zM236 260h1v1h-1zM236 261h1v1h-1zM236 262h1v1h-1zM236 263h1v1h-1zM236 264h1v1h-1zM236 265h1v1h-1zM236 266h1v1h-1zM236 269h1v1h-1zM236 270h1v1h-1zM237 241h1v1h-1zM237 245h1v1h-1zM237 246h1v1h-1zM237 247h1v1h-1zM237 248h1v1h-1zM237 249h1v1h-1zM237 250h1v1h-1zM237 251h1v1h-1zM237 252h1v1h-1zM237 253h1v1h-1zM237 254h1v1h-1zM237 255h1v1h-1zM237 256h1v1h-1zM237 257h1v1h-1zM237 258h1v1h-1zM237 259h1v1h-1zM237 260h1v1h-1zM237 261h1v1h-1zM237 263h1v1h-1zM237 264h1v1h-1zM237 267h1v1h-1zM238 239h1v1h-1zM238 243h1v1h-1zM238 244h1v1h-1zM238 245h1v1h-1zM238 246h1v1h-1zM238 247h1v1h-1zM238 248h1v1h-1zM238 249h1v1h-1zM238 250h1v1h-1zM238 251h1v1h-1zM238 252h1v1h-1zM238 253h1v1h-1zM238 254h1v1h-1zM238 255h1v1h-1zM238 256h1v1h-1zM238 257h1v1h-1zM238 258h1v1h-1zM238 259h1v1h-1zM238 260h1v1h-1zM238 261h1v1h-1zM238 262h1v1h-1zM239 242h1v1h-1zM239 243h1v1h-1zM239 244h1v1h-1zM239 245h1v1h-1zM239 246h1v1h-1zM239 247h1v1h-1zM239 248h1v1h-1zM239 249h1v1h-1zM239 250h1v1h-1zM239 251h1v1h-1zM239 252h1v1h-1zM239 253h1v1h-1zM239 254h1v1h-1zM239 255h1v1h-1zM239 256h1v1h-1zM239 257h1v1h-1zM239 258h1v1h-1zM239 259h1v1h-1zM239 260h1v1h-1zM239 261h1v1h-1zM239 262h1v1h-1zM239 263h1v1h-1zM239 266h1v1h-1zM240 238h1v1h-1zM240 242h1v1h-1zM240 243h1v1h-1zM240 244h1v1h-1zM240 245h1v1h-1zM240 246h1v1h-1zM240 247h1v1h-1zM240 248h1v1h-1zM240 249h1v1h-1zM240 250h1v1h-1zM240 251h1v1h-1zM240 252h1v1h-1zM240 253h1v1h-1zM240 254h1v1h-1zM240 255h1v1h-1zM240 256h1v1h-1zM240 257h1v1h-1zM240 258h1v1h-1zM240 259h1v1h-1zM240 260h1v1h-1zM240 261h1v1h-1zM240 262h1v1h-1zM240 264h1v1h-1zM241 239h1v1h-1zM241 241h1v1h-1zM241 244h1v1h-1zM241 245h1v1h-1zM241 246h1v1h-1zM241 247h1v1h-1zM241 248h1v1h-1zM241 249h1v1h-1zM241 250h1v1h-1zM241 251h1v1h-1zM241 252h1v1h-1zM241 253h1v1h-1zM241 254h1v1h-1zM241 255h1v1h-1zM241 256h1v1h-1zM241 257h1v1h-1zM241 258h1v1h-1zM241 259h1v1h-1zM241 260h1v1h-1zM241 261h1v1h-1zM241 262h1v1h-1zM241 263h1v1h-1zM242 239h1v1h-1zM242 241h1v1h-1zM242 243h1v1h-1zM242 244h1v1h-1zM242 245h1v1h-1zM242 246h1v1h-1zM242 247h1v1h-1zM242 248h1v1h-1zM242 249h1v1h-1zM242 250h1v1h-1zM242 251h1v1h-1zM242 252h1v1h-1zM242 253h1v1h-1zM242 254h1v1h-1zM242 255h1v1h-1zM242 256h1v1h-1zM242 257h1v1h-1zM242 258h1v1h-1zM242 259h1v1h-1zM242 265h1v1h-1zM243 240h1v1h-1zM243 241h1v1h-1zM243 242h1v1h-1zM243 243h1v1h-1zM243 244h1v1h-1zM243 245h1v1h-1zM243 246h1v1h-1zM243 247h1v1h-1zM243 248h1v1h-1zM243 249h1v1h-1zM243 250h1v1h-1zM243 251h1v1h-1zM243 252h1v1h-1zM243 253h1v1h-1zM243 254h1v1h-1zM243 255h1v1h-1zM243 256h1v1h-1zM243 257h1v1h-1zM243 258h1v1h-1zM243 259h1v1h-1zM243 261h1v1h-1zM243 263h1v1h-1zM244 240h1v1h-1zM244 241h1v1h-1zM244 243h1v1h-1zM244 244h1v1h-1zM244 245h1v1h-1zM244 246h1v1h-1zM244 247h1v1h-1zM244 248h1v1h-1zM244 249h1v1h-1zM244 250h1v1h-1zM244 251h1v1h-1zM244 252h1v1h-1zM244 253h1v1h-1zM244 254h1v1h-1zM244 255h1v1h-1zM244 256h1v1h-1zM244 257h1v1h-1zM244 258h1v1h-1zM244 259h1v1h-1zM244 261h1v1h-1zM244 262h1v1h-1zM244 265h1v1h-1zM245 238h1v1h-1zM245 239h1v1h-1zM245 240h1v1h-1zM245 241h1v1h-1zM245 245h1v1h-1zM245 246h1v1h-1zM245 247h1v1h-1zM245 248h1v1h-1zM245 249h1v1h-1zM245 250h1v1h-1zM245 251h1v1h-1zM245 252h1v1h-1zM245 253h1v1h-1zM245 254h1v1h-1zM245 256h1v1h-1zM245 257h1v1h-1zM245 258h1v1h-1zM245 259h1v1h-1zM245 260h1v1h-1zM245 261h1v1h-1zM246 239h1v1h-1zM246 241h1v1h-1zM246 242h1v1h-1zM246 243h1v1h-1zM246 244h1v1h-1zM246 245h1v1h-1zM246 246h1v1h-1zM246 247h1v1h-1zM246 248h1v1h-1zM246 249h1v1h-1zM246 250h1v1h-1zM246 251h1v1h-1zM246 252h1v1h-1zM246 253h1v1h-1zM246 254h1v1h-1zM246 255h1v1h-1zM246 256h1v1h-1zM246 257h1v1h-1zM246 258h1v1h-1zM246 260h1v1h-1zM247 236h1v1h-1zM247 237h1v1h-1zM247 238h1v1h-1zM247 239h1v1h-1zM247 240h1v1h-1zM247 241h1v1h-1zM247 243h1v1h-1zM247 244h1v1h-1zM247 245h1v1h-1zM247 246h1v1h-1zM247 247h1v1h-1zM247 248h1v1h-1zM247 249h1v1h-1zM247 250h1v1h-1zM247 251h1v1h-1zM247 252h1v1h-1zM247 253h1v1h-1zM247 254h1v1h-1zM247 255h1v1h-1zM247 256h1v1h-1zM247 257h1v1h-1zM248 236h1v1h-1zM248 239h1v1h-1zM248 240h1v1h-1zM248 241h1v1h-1zM248 242h1v1h-1zM248 243h1v1h-1zM248 245h1v1h-1zM248 246h1v1h-1zM248 247h1v1h-1zM248 248h1v1h-1zM248 249h1v1h-1zM248 250h1v1h-1zM248 251h1v1h-1zM248 252h1v1h-1zM248 253h1v1h-1zM248 254h1v1h-1zM248 256h1v1h-1zM248 257h1v1h-1zM248 260h1v1h-1zM249 237h1v1h-1zM249 239h1v1h-1zM249 240h1v1h-1zM249 242h1v1h-1zM249 243h1v1h-1zM249 244h1v1h-1zM249 245h1v1h-1zM249 247h1v1h-1zM249 248h1v1h-1zM249 249h1v1h-1zM249 250h1v1h-1zM249 251h1v1h-1zM249 252h1v1h-1zM249 253h1v1h-1zM249 254h1v1h-1zM249 255h1v1h-1zM249 257h1v1h-1zM250 236h1v1h-1zM250 237h1v1h-1zM250 240h1v1h-1zM250 241h1v1h-1zM250 242h1v1h-1zM250 243h1v1h-1zM250 244h1v1h-1zM250 245h1v1h-1zM250 246h1v1h-1zM250 247h1v1h-1zM250 248h1v1h-1zM250 249h1v1h-1zM250 250h1v1h-1zM250 252h1v1h-1zM250 253h1v1h-1zM250 254h1v1h-1zM250 256h1v1h-1zM250 258h1v1h-1zM251 236h1v1h-1zM251 238h1v1h-1zM251 240h1v1h-1zM251 241h1v1h-1zM251 242h1v1h-1zM251 243h1v1h-1zM251 245h1v1h-1zM251 246h1v1h-1zM251 247h1v1h-1zM251 248h1v1h-1zM251 249h1v1h-1zM251 251h1v1h-1zM251 252h1v1h-1zM251 256h1v1h-1zM251 257h1v1h-1zM252 231h1v1h-1zM252 236h1v1h-1zM252 237h1v1h-1zM252 238h1v1h-1zM252 239h1v1h-1zM252 240h1v1h-1zM252 241h1v1h-1zM252 242h1v1h-1zM252 243h1v1h-1zM252 244h1v1h-1zM252 246h1v1h-1zM252 247h1v1h-1zM252 248h1v1h-1zM252 250h1v1h-1zM252 251h1v1h-1zM252 254h1v1h-1zM253 236h1v1h-1zM253 239h1v1h-1zM253 240h1v1h-1zM253 241h1v1h-1zM253 243h1v1h-1zM253 244h1v1h-1zM253 245h1v1h-1zM253 246h1v1h-1zM253 247h1v1h-1zM253 248h1v1h-1zM253 249h1v1h-1zM253 250h1v1h-1zM253 251h1v1h-1zM253 253h1v1h-1zM253 254h1v1h-1zM253 257h1v1h-1zM253 258h1v1h-1zM253 261h1v1h-1zM254 239h1v1h-1zM254 240h1v1h-1zM254 241h1v1h-1zM254 244h1v1h-1zM254 245h1v1h-1zM254 246h1v1h-1zM254 247h1v1h-1zM254 248h1v1h-1zM254 249h1v1h-1zM254 250h1v1h-1zM254 251h1v1h-1zM254 253h1v1h-1zM254 254h1v1h-1zM254 255h1v1h-1zM254 256h1v1h-1zM254 258h1v1h-1zM254 259h1v1h-1zM254 260h1v1h-1zM254 265h1v1h-1zM255 232h1v1h-1zM255 242h1v1h-1zM255 245h1v1h-1zM255 246h1v1h-1zM255 247h1v1h-1zM255 248h1v1h-1zM255 249h1v1h-1zM255 251h1v1h-1zM255 252h1v1h-1zM255 253h1v1h-1zM255 255h1v1h-1zM255 258h1v1h-1zM255 259h1v1h-1zM255 262h1v1h-1zM256 239h1v1h-1zM256 241h1v1h-1zM256 242h1v1h-1zM256 244h1v1h-1zM256 245h1v1h-1zM256 248h1v1h-1zM256 250h1v1h-1zM256 253h1v1h-1zM256 254h1v1h-1zM256 255h1v1h-1zM256 256h1v1h-1zM256 259h1v1h-1zM257 241h1v1h-1zM257 244h1v1h-1zM257 245h1v1h-1zM257 247h1v1h-1zM257 248h1v1h-1zM257 250h1v1h-1zM257 251h1v1h-1zM257 254h1v1h-1zM257 255h1v1h-1zM257 256h1v1h-1zM257 257h1v1h-1zM257 258h1v1h-1zM257 260h1v1h-1zM257 263h1v1h-1zM257 264h1v1h-1zM258 246h1v1h-1zM258 247h1v1h-1zM258 248h1v1h-1zM258 250h1v1h-1zM258 251h1v1h-1zM258 252h1v1h-1zM258 254h1v1h-1zM258 258h1v1h-1zM258 260h1v1h-1zM259 244h1v1h-1zM259 246h1v1h-1zM259 248h1v1h-1zM259 250h1v1h-1zM259 251h1v1h-1zM259 252h1v1h-1zM259 255h1v1h-1zM259 256h1v1h-1zM259 258h1v1h-1zM259 263h1v1h-1zM260 244h1v1h-1zM260 247h1v1h-1zM260 248h1v1h-1zM260 249h1v1h-1zM260 250h1v1h-1zM260 251h1v1h-1zM260 252h1v1h-1zM260 253h1v1h-1zM260 256h1v1h-1zM260 257h1v1h-1zM260 258h1v1h-1zM260 260h1v1h-1zM261 238h1v1h-1zM261 241h1v1h-1zM261 246h1v1h-1zM261 249h1v1h-1zM261 251h1v1h-1zM261 252h1v1h-1zM261 253h1v1h-1zM261 255h1v1h-1zM261 256h1v1h-1zM261 257h1v1h-1zM261 258h1v1h-1zM261 259h1v1h-1zM261 261h1v1h-1zM261 264h1v1h-1zM262 248h1v1h-1zM262 249h1v1h-1zM262 250h1v1h-1zM262 251h1v1h-1zM262 253h1v1h-1zM262 254h1v1h-1zM262 255h1v1h-1zM262 256h1v1h-1zM262 257h1v1h-1zM262 261h1v1h-1zM263 240h1v1h-1zM263 243h1v1h-1zM263 246h1v1h-1zM263 247h1v1h-1zM263 248h1v1h-1zM263 249h1v1h-1zM263 250h1v1h-1zM263 254h1v1h-1zM263 255h1v1h-1zM263 256h1v1h-1zM263 260h1v1h-1zM263 261h1v1h-1zM263 270h1v1h-1zM264 246h1v1h-1zM264 249h1v1h-1zM264 250h1v1h-1zM264 251h1v1h-1zM264 252h1v1h-1zM264 253h1v1h-1zM264 254h1v1h-1zM264 255h1v1h-1zM264 256h1v1h-1zM264 259h1v1h-1zM264 266h1v1h-1zM265 236h1v1h-1zM265 247h1v1h-1zM265 248h1v1h-1zM265 249h1v1h-1zM265 250h1v1h-1zM265 251h1v1h-1zM265 253h1v1h-1zM265 256h1v1h-1zM265 258h1v1h-1zM265 261h1v1h-1zM266 243h1v1h-1zM266 247h1v1h-1zM266 249h1v1h-1zM266 250h1v1h-1zM266 251h1v1h-1zM266 253h1v1h-1zM266 254h1v1h-1zM266 256h1v1h-1zM266 257h1v1h-1zM266 260h1v1h-1zM267 243h1v1h-1zM267 244h1v1h-1zM267 246h1v1h-1zM267 249h1v1h-1zM267 250h1v1h-1zM267 252h1v1h-1zM267 253h1v1h-1zM267 254h1v1h-1zM267 255h1v1h-1zM267 259h1v1h-1zM267 260h1v1h-1zM267 261h1v1h-1zM268 242h1v1h-1zM268 248h1v1h-1zM268 249h1v1h-1zM268 250h1v1h-1zM268 252h1v1h-1zM268 254h1v1h-1zM268 255h1v1h-1zM268 261h1v1h-1zM269 239h1v1h-1zM269 242h1v1h-1zM269 247h1v1h-1zM269 248h1v1h-1zM269 249h1v1h-1zM269 250h1v1h-1zM269 252h1v1h-1zM269 253h1v1h-1zM269 254h1v1h-1zM269 255h1v1h-1zM269 259h1v1h-1zM269 260h1v1h-1zM269 261h1v1h-1zM269 262h1v1h-1zM270 241h1v1h-1zM270 248h1v1h-1zM270 249h1v1h-1zM270 250h1v1h-1zM270 252h1v1h-1zM270 253h1v1h-1zM270 258h1v1h-1zM270 259h1v1h-1zM270 263h1v1h-1zM270 266h1v1h-1zM271 244h1v1h-1zM271 245h1v1h-1zM271 248h1v1h-1zM271 249h1v1h-1zM271 250h1v1h-1zM271 251h1v1h-1zM271 252h1v1h-1zM271 255h1v1h-1zM271 257h1v1h-1zM271 259h1v1h-1zM271 260h1v1h-1zM272 246h1v1h-1zM272 248h1v1h-1zM272 250h1v1h-1zM272 252h1v1h-1zM272 254h1v1h-1zM272 255h1v1h-1zM272 256h1v1h-1zM272 258h1v1h-1zM272 259h1v1h-1zM272 265h1v1h-1zM272 266h1v1h-1zM273 246h1v1h-1zM273 248h1v1h-1zM273 249h1v1h-1zM273 250h1v1h-1zM273 251h1v1h-1zM273 254h1v1h-1zM273 259h1v1h-1zM274 241h1v1h-1zM274 244h1v1h-1zM274 246h1v1h-1zM274 247h1v1h-1zM274 249h1v1h-1zM274 250h1v1h-1zM274 251h1v1h-1zM274 252h1v1h-1zM274 255h1v1h-1zM275 244h1v1h-1zM275 247h1v1h-1zM275 250h1v1h-1zM275 252h1v1h-1zM275 255h1v1h-1zM275 259h1v1h-1zM275 260h1v1h-1zM275 264h1v1h-1zM276 247h1v1h-1zM276 252h1v1h-1zM276 255h1v1h-1zM276 256h1v1h-1zM276 257h1v1h-1zM276 260h1v1h-1zM277 247h1v1h-1zM277 249h1v1h-1zM277 250h1v1h-1zM277 253h1v1h-1zM277 255h1v1h-1zM277 256h1v1h-1zM277 258h1v1h-1zM277 259h1v1h-1zM277 260h1v1h-1zM278 246h1v1h-1zM278 248h1v1h-1zM278 250h1v1h-1zM278 251h1v1h-1zM278 252h1v1h-1zM278 253h1v1h-1zM278 255h1v1h-1zM278 257h1v1h-1zM278 265h1v1h-1zM279 248h1v1h-1zM279 249h1v1h-1zM279 251h1v1h-1zM279 252h1v1h-1zM279 254h1v1h-1zM279 255h1v1h-1zM279 258h1v1h-1zM279 261h1v1h-1zM279 262h1v1h-1zM280 251h1v1h-1zM280 252h1v1h-1zM280 253h1v1h-1zM280 255h1v1h-1zM280 261h1v1h-1zM281 245h1v1h-1zM281 246h1v1h-1zM281 248h1v1h-1zM281 249h1v1h-1zM281 250h1v1h-1zM281 251h1v1h-1zM281 254h1v1h-1zM281 257h1v1h-1zM281 259h1v1h-1zM281 260h1v1h-1zM281 261h1v1h-1zM281 263h1v1h-1zM282 239h1v1h-1zM282 244h1v1h-1zM282 246h1v1h-1zM282 248h1v1h-1zM282 249h1v1h-1zM282 250h1v1h-1zM282 252h1v1h-1zM282 256h1v1h-1zM282 262h1v1h-1zM283 243h1v1h-1zM283 246h1v1h-1zM283 247h1v1h-1zM283 248h1v1h-1zM283 250h1v1h-1zM283 251h1v1h-1zM283 254h1v1h-1zM283 259h1v1h-1zM284 246h1v1h-1zM284 247h1v1h-1zM284 252h1v1h-1zM284 255h1v1h-1zM284 258h1v1h-1zM285 244h1v1h-1zM285 246h1v1h-1zM285 249h1v1h-1zM285 250h1v1h-1zM285 251h1v1h-1zM285 253h1v1h-1zM285 254h1v1h-1zM285 255h1v1h-1zM285 257h1v1h-1zM285 258h1v1h-1zM285 265h1v1h-1zM286 247h1v1h-1zM286 248h1v1h-1zM286 249h1v1h-1zM286 250h1v1h-1zM286 252h1v1h-1zM286 255h1v1h-1zM286 256h1v1h-1zM286 260h1v1h-1zM287 243h1v1h-1zM287 246h1v1h-1zM287 247h1v1h-1zM287 248h1v1h-1zM287 251h1v1h-1zM287 254h1v1h-1zM287 257h1v1h-1zM287 262h1v1h-1zM287 269h1v1h-1zM288 248h1v1h-1zM288 251h1v1h-1zM288 253h1v1h-1zM288 257h1v1h-1zM288 263h1v1h-1zM289 254h1v1h-1zM289 260h1v1h-1zM289 262h1v1h-1zM290 244h1v1h-1zM290 247h1v1h-1zM290 248h1v1h-1zM290 251h1v1h-1zM290 255h1v1h-1zM290 263h1v1h-1zM291 248h1v1h-1zM291 249h1v1h-1zM291 253h1v1h-1zM291 255h1v1h-1zM292 250h1v1h-1zM292 251h1v1h-1zM292 255h1v1h-1zM292 259h1v1h-1zM293 246h1v1h-1zM293 248h1v1h-1zM293 255h1v1h-1zM293 256h1v1h-1zM293 258h1v1h-1zM294 248h1v1h-1zM294 250h1v1h-1zM294 255h1v1h-1zM294 256h1v1h-1zM294 257h1v1h-1zM294 258h1v1h-1zM294 261h1v1h-1zM295 250h1v1h-1zM295 251h1v1h-1zM295 252h1v1h-1zM295 254h1v1h-1z" fill="#000" filter="url(#bl)"/>
<path d="M226 250h1v1h-1zM230 243h1v1h-1zM230 259h1v1h-1zM233 268h1v1h-1zM235 275h1v1h-1zM239 272h1v1h-1zM239 274h1v1h-1zM240 273h1v1h-1zM241 234h1v1h-1zM241 264h1v1h-1zM241 270h1v1h-1zM242 264h1v1h-1zM243 266h1v1h-1zM244 272h1v1h-1zM244 280h1v1h-1zM248 258h1v1h-1zM248 263h1v1h-1zM249 263h1v1h-1zM249 264h1v1h-1zM249 266h1v1h-1zM249 271h1v1h-1zM250 263h1v1h-1zM251 259h1v1h-1zM251 261h1v1h-1zM251 265h1v1h-1zM252 261h1v1h-1zM252 268h1v1h-1zM252 278h1v1h-1zM253 252h1v1h-1zM253 263h1v1h-1zM253 269h1v1h-1zM253 271h1v1h-1zM253 279h1v1h-1zM254 257h1v1h-1zM254 267h1v1h-1zM254 275h1v1h-1zM254 276h1v1h-1zM255 256h1v1h-1zM256 262h1v1h-1zM256 267h1v1h-1zM256 276h1v1h-1zM257 252h1v1h-1zM257 266h1v1h-1zM257 270h1v1h-1zM257 276h1v1h-1zM258 261h1v1h-1zM258 268h1v1h-1zM259 271h1v1h-1zM259 273h1v1h-1zM260 264h1v1h-1zM260 277h1v1h-1zM261 266h1v1h-1zM261 273h1v1h-1zM261 280h1v1h-1zM262 262h1v1h-1zM262 279h1v1h-1zM263 257h1v1h-1zM263 278h1v1h-1zM264 262h1v1h-1zM264 264h1v1h-1zM264 272h1v1h-1zM265 243h1v1h-1zM265 265h1v1h-1zM266 240h1v1h-1zM266 266h1v1h-1zM267 248h1v1h-1zM267 271h1v1h-1zM268 262h1v1h-1zM268 264h1v1h-1zM268 267h1v1h-1zM269 256h1v1h-1zM269 264h1v1h-1zM269 266h1v1h-1zM269 278h1v1h-1zM269 279h1v1h-1zM270 247h1v1h-1zM270 270h1v1h-1zM270 277h1v1h-1zM271 261h1v1h-1zM272 278h1v1h-1zM273 262h1v1h-1zM273 279h1v1h-1zM274 272h1v1h-1zM274 273h1v1h-1zM274 280h1v1h-1zM275 270h1v1h-1zM276 265h1v1h-1zM276 267h1v1h-1zM276 268h1v1h-1zM276 269h1v1h-1zM277 233h1v1h-1zM277 267h1v1h-1zM277 273h1v1h-1zM277 275h1v1h-1zM277 277h1v1h-1zM278 254h1v1h-1zM278 262h1v1h-1zM278 276h1v1h-1zM279 265h1v1h-1zM279 270h1v1h-1zM279 275h1v1h-1zM279 277h1v1h-1zM280 262h1v1h-1zM280 268h1v1h-1zM280 270h1v1h-1zM280 273h1v1h-1zM280 277h1v1h-1zM281 270h1v1h-1zM281 276h1v1h-1zM282 251h1v1h-1zM282 253h1v1h-1zM282 263h1v1h-1zM282 279h1v1h-1zM283 264h1v1h-1zM285 264h1v1h-1zM285 266h1v1h-1zM285 267h1v1h-1zM285 271h1v1h-1zM286 263h1v1h-1zM286 268h1v1h-1zM286 277h1v1h-1zM287 261h1v1h-1zM287 267h1v1h-1zM289 266h1v1h-1zM290 270h1v1h-1zM290 280h1v1h-1zM291 276h1v1h-1zM292 269h1v1h-1zM293 274h1v1h-1zM293 277h1v1h-1zM294 274h1v1h-1zM295 263h1v1h-1zM297 262h1v1h-1zM297 269h1v1h-1zM297 279h1v1h-1zM299 267h1v1h-1zM299 279h1v1h-1zM300 261h1v1h-1zM300 271h1v1h-1zM300 272h1v1h-1zM300 273h1v1h-1zM301 266h1v1h-1zM303 276h1v1h-1zM304 263h1v1h-1zM304 277h1v1h-1zM305 269h1v1h-1zM306 269h1v1h-1zM307 275h1v1h-1zM308 267h1v1h-1zM308 276h1v1h-1zM310 266h1v1h-1z" fill="#333" filter="url(#bl)"/>
<path d="M255 295h1v1h-1zM256 287h1v1h-1zM259 283h1v1h-1zM259 286h1v1h-1zM261 295h1v1h-1zM263 285h1v1h-1zM264 292h1v1h-1zM264 293h1v1h-1zM265 287h1v1h-1zM267 293h1v1h-1zM269 287h1v1h-1zM270 290h1v1h-1zM271 283h1v1h-1zM271 285h1v1h-1zM271 294h1v1h-1zM274 282h1v1h-1zM275 258h1v1h-1zM276 264h1v1h-1zM276 287h1v1h-1zM276 295h1v1h-1zM279 292h1v1h-1zM282 234h1v1h-1zM282 288h1v1h-1zM285 294h1v1h-1zM287 287h1v1h-1zM288 239h1v1h-1zM288 283h1v1h-1zM289 294h1v1h-1zM292 287h1v1h-1zM293 249h1v1h-1zM294 290h1v1h-1zM296 286h1v1h-1zM296 292h1v1h-1zM304 257h1v1h-1zM304 295h1v1h-1zM308 294h1v1h-1zM313 238h1v1h-1zM313 246h1v1h-1zM314 244h1v1h-1zM314 256h1v1h-1zM315 265h1v1h-1zM322 251h1v1h-1z" fill="#555" filter="url(#bl)"/>
<path d="M241 338h1v1h-1zM248 338h1v1h-1zM261 330h1v1h-1zM276 313h1v1h-1zM277 320h1v1h-1z" fill="#666" filter="url(#bl)"/>
<path d="M231 333h1v1h-1zM233 336h1v1h-1zM234 285h1v1h-1zM235 294h1v1h-1zM236 334h1v1h-1zM238 284h1v1h-1zM240 319h1v1h-1zM241 303h1v1h-1zM242 288h1v1h-1zM242 321h1v1h-1zM244 323h1v1h-1zM248 313h1v1h-1z" fill="#777" filter="url(#bl)"/>
<path d="M388 242h1v1h-1zM389 251h1v1h-1zM390 243h1v1h-1zM390 244h1v1h-1zM390 245h1v1h-1zM390 247h1v1h-1zM390 248h1v1h-1zM390 253h1v1h-1zM391 246h1v1h-1zM391 250h1v1h-1zM391 251h1v1h-1zM392 246h1v1h-1zM392 257h1v1h-1zM392 267h1v1h-1zM393 246h1v1h-1zM393 247h1v1h-1zM393 248h1v1h-1zM393 250h1v1h-1zM393 251h1v1h-1zM393 253h1v1h-1zM393 255h1v1h-1zM394 245h1v1h-1zM394 246h1v1h-1zM394 248h1v1h-1zM394 249h1v1h-1zM394 252h1v1h-1zM394 257h1v1h-1zM395 242h1v1h-1zM395 244h1v1h-1zM395 247h1v1h-1zM395 250h1v1h-1zM396 240h1v1h-1zM396 246h1v1h-1zM396 249h1v1h-1zM396 250h1v1h-1zM396 252h1v1h-1zM396 256h1v1h-1zM396 261h1v1h-1zM397 244h1v1h-1zM397 247h1v1h-1zM397 248h1v1h-1zM397 249h1v1h-1zM397 250h1v1h-1zM397 251h1v1h-1zM397 252h1v1h-1zM397 254h1v1h-1zM397 255h1v1h-1zM397 256h1v1h-1zM397 259h1v1h-1zM398 241h1v1h-1zM398 242h1v1h-1zM398 243h1v1h-1zM398 244h1v1h-1zM398 246h1v1h-1zM398 247h1v1h-1zM398 248h1v1h-1zM398 249h1v1h-1zM398 250h1v1h-1zM398 251h1v1h-1zM398 253h1v1h-1zM398 254h1v1h-1zM398 256h1v1h-1zM399 244h1v1h-1zM399 246h1v1h-1zM399 247h1v1h-1zM399 249h1v1h-1zM399 250h1v1h-1zM399 251h1v1h-1zM399 252h1v1h-1zM399 253h1v1h-1zM399 256h1v1h-1zM399 257h1v1h-1zM399 260h1v1h-1zM400 244h1v1h-1zM400 245h1v1h-1zM400 246h1v1h-1zM400 247h1v1h-1zM400 248h1v1h-1zM400 249h1v1h-1zM400 250h1v1h-1zM400 251h1v1h-1zM400 252h1v1h-1zM400 253h1v1h-1zM400 256h1v1h-1zM400 262h1v1h-1zM401 243h1v1h-1zM401 244h1v1h-1zM401 245h1v1h-1zM401 246h1v1h-1zM401 247h1v1h-1zM401 248h1v1h-1zM401 250h1v1h-1zM401 251h1v1h-1zM401 252h1v1h-1zM401 253h1v1h-1zM401 254h1v1h-1zM401 256h1v1h-1zM401 258h1v1h-1zM401 259h1v1h-1zM402 242h1v1h-1zM402 243h1v1h-1zM402 244h1v1h-1zM402 245h1v1h-1zM402 246h1v1h-1zM402 247h1v1h-1zM402 248h1v1h-1zM402 249h1v1h-1zM402 250h1v1h-1zM402 251h1v1h-1zM402 252h1v1h-1zM402 253h1v1h-1zM402 255h1v1h-1zM402 256h1v1h-1zM402 258h1v1h-1zM402 259h1v1h-1zM402 261h1v1h-1zM403 243h1v1h-1zM403 244h1v1h-1zM403 245h1v1h-1zM403 246h1v1h-1zM403 247h1v1h-1zM403 248h1v1h-1zM403 249h1v1h-1zM403 250h1v1h-1zM403 251h1v1h-1zM403 252h1v1h-1zM403 253h1v1h-1zM403 254h1v1h-1zM403 256h1v1h-1zM403 261h1v1h-1zM404 240h1v1h-1zM404 241h1v1h-1zM404 242h1v1h-1zM404 243h1v1h-1zM404 244h1v1h-1zM404 245h1v1h-1zM404 246h1v1h-1zM404 247h1v1h-1zM404 248h1v1h-1zM404 249h1v1h-1zM404 251h1v1h-1zM404 252h1v1h-1zM404 253h1v1h-1zM404 254h1v1h-1zM404 255h1v1h-1zM404 256h1v1h-1zM404 257h1v1h-1zM404 258h1v1h-1zM405 238h1v1h-1zM405 239h1v1h-1zM405 240h1v1h-1zM405 242h1v1h-1zM405 243h1v1h-1zM405 244h1v1h-1zM405 245h1v1h-1zM405 246h1v1h-1zM405 247h1v1h-1zM405 248h1v1h-1zM405 249h1v1h-1zM405 250h1v1h-1zM405 251h1v1h-1zM405 252h1v1h-1zM405 253h1v1h-1zM405 254h1v1h-1zM405 255h1v1h-1zM405 256h1v1h-1zM405 259h1v1h-1zM405 260h1v1h-1zM406 239h1v1h-1zM406 240h1v1h-1zM406 241h1v1h-1zM406 242h1v1h-1zM406 243h1v1h-1zM406 244h1v1h-1zM406 245h1v1h-1zM406 246h1v1h-1zM406 247h1v1h-1zM406 248h1v1h-1zM406 249h1v1h-1zM406 250h1v1h-1zM406 251h1v1h-1zM406 252h1v1h-1zM406 253h1v1h-1zM406 254h1v1h-1zM406 255h1v1h-1zM406 256h1v1h-1zM406 257h1v1h-1zM406 259h1v1h-1zM407 238h1v1h-1zM407 239h1v1h-1zM407 240h1v1h-1zM407 241h1v1h-1zM407 243h1v1h-1zM407 244h1v1h-1zM407 245h1v1h-1zM407 246h1v1h-1zM407 247h1v1h-1zM407 248h1v1h-1zM407 250h1v1h-1zM407 251h1v1h-1zM407 252h1v1h-1zM407 253h1v1h-1zM407 254h1v1h-1zM407 255h1v1h-1zM407 257h1v1h-1zM408 238h1v1h-1zM408 240h1v1h-1zM408 241h1v1h-1zM408 242h1v1h-1zM408 243h1v1h-1zM408 244h1v1h-1zM408 245h1v1h-1zM408 246h1v1h-1zM408 247h1v1h-1zM408 248h1v1h-1zM408 249h1v1h-1zM408 250h1v1h-1zM408 251h1v1h-1zM408 252h1v1h-1zM408 253h1v1h-1zM408 254h1v1h-1zM408 255h1v1h-1zM408 256h1v1h-1zM408 257h1v1h-1zM408 258h1v1h-1zM408 264h1v1h-1zM409 237h1v1h-1zM409 238h1v1h-1zM409 239h1v1h-1zM409 241h1v1h-1zM409 242h1v1h-1zM409 244h1v1h-1zM409 245h1v1h-1zM409 246h1v1h-1zM409 247h1v1h-1zM409 248h1v1h-1zM409 249h1v1h-1zM409 250h1v1h-1zM409 251h1v1h-1zM409 252h1v1h-1zM409 253h1v1h-1zM409 254h1v1h-1zM409 255h1v1h-1zM409 256h1v1h-1zM409 257h1v1h-1zM410 240h1v1h-1zM410 241h1v1h-1zM410 242h1v1h-1zM410 243h1v1h-1zM410 244h1v1h-1zM410 245h1v1h-1zM410 246h1v1h-1zM410 247h1v1h-1zM410 248h1v1h-1zM410 249h1v1h-1zM410 250h1v1h-1zM410 251h1v1h-1zM410 252h1v1h-1zM410 253h1v1h-1zM410 254h1v1h-1zM410 255h1v1h-1zM410 256h1v1h-1zM410 259h1v1h-1zM410 260h1v1h-1zM411 237h1v1h-1zM411 241h1v1h-1zM411 243h1v1h-1zM411 244h1v1h-1zM411 245h1v1h-1zM411 246h1v1h-1zM411 247h1v1h-1zM411 248h1v1h-1zM411 249h1v1h-1zM411 250h1v1h-1zM411 251h1v1h-1zM411 252h1v1h-1zM411 253h1v1h-1zM411 254h1v1h-1zM411 255h1v1h-1zM411 256h1v1h-1zM411 258h1v1h-1zM411 260h1v1h-1zM411 261h1v1h-1zM411 265h1v1h-1zM412 233h1v1h-1zM412 239h1v1h-1zM412 240h1v1h-1zM412 243h1v1h-1zM412 244h1v1h-1zM412 245h1v1h-1zM412 246h1v1h-1zM412 247h1v1h-1zM412 248h1v1h-1zM412 249h1v1h-1zM412 250h1v1h-1zM412 251h1v1h-1zM412 252h1v1h-1zM412 253h1v1h-1zM412 254h1v1h-1zM412 255h1v1h-1zM412 256h1v1h-1zM412 259h1v1h-1zM413 241h1v1h-1zM413 242h1v1h-1zM413 244h1v1h-1zM413 245h1v1h-1zM413 246h1v1h-1zM413 247h1v1h-1zM413 248h1v1h-1zM413 249h1v1h-1zM413 250h1v1h-1zM413 251h1v1h-1zM413 252h1v1h-1zM413 253h1v1h-1zM413 254h1v1h-1zM413 255h1v1h-1zM413 256h1v1h-1zM413 257h1v1h-1zM413 259h1v1h-1zM414 236h1v1h-1zM414 240h1v1h-1zM414 241h1v1h-1zM414 242h1v1h-1zM414 243h1v1h-1zM414 244h1v1h-1zM414 245h1v1h-1zM414 246h1v1h-1zM414 247h1v1h-1zM414 248h1v1h-1zM414 249h1v1h-1zM414 250h1v1h-1zM414 251h1v1h-1zM414 252h1v1h-1zM414 253h1v1h-1zM414 254h1v1h-1zM414 255h1v1h-1zM414 256h1v1h-1zM414 257h1v1h-1zM414 258h1v1h-1zM415 239h1v1h-1zM415 242h1v1h-1zM415 244h1v1h-1zM415 245h1v1h-1zM415 246h1v1h-1zM415 247h1v1h-1zM415 248h1v1h-1zM415 249h1v1h-1zM415 250h1v1h-1zM415 251h1v1h-1zM415 252h1v1h-1zM415 253h1v1h-1zM415 254h1v1h-1zM415 255h1v1h-1zM415 256h1v1h-1zM415 258h1v1h-1zM415 266h1v1h-1zM416 238h1v1h-1zM416 239h1v1h-1zM416 240h1v1h-1zM416 242h1v1h-1zM416 244h1v1h-1zM416 245h1v1h-1zM416 246h1v1h-1zM416 247h1v1h-1zM416 248h1v1h-1zM416 249h1v1h-1zM416 251h1v1h-1zM416 252h1v1h-1zM416 253h1v1h-1zM416 254h1v1h-1zM416 256h1v1h-1zM416 257h1v1h-1zM416 258h1v1h-1zM417 239h1v1h-1zM417 240h1v1h-1zM417 241h1v1h-1zM417 242h1v1h-1zM417 243h1v1h-1zM417 244h1v1h-1zM417 245h1v1h-1zM417 246h1v1h-1zM417 247h1v1h-1zM417 248h1v1h-1zM417 249h1v1h-1zM417 250h1v1h-1zM417 251h1v1h-1zM417 252h1v1h-1zM417 253h1v1h-1zM417 254h1v1h-1zM417 255h1v1h-1zM417 256h1v1h-1zM417 257h1v1h-1zM417 258h1v1h-1zM418 239h1v1h-1zM418 241h1v1h-1zM418 242h1v1h-1zM418 244h1v1h-1zM418 245h1v1h-1zM418 246h1v1h-1zM418 247h1v1h-1zM418 248h1v1h-1zM418 249h1v1h-1zM418 250h1v1h-1zM418 251h1v1h-1zM418 252h1v1h-1zM418 253h1v1h-1zM418 254h1v1h-1zM418 255h1v1h-1zM418 257h1v1h-1zM418 258h1v1h-1zM418 260h1v1h-1zM418 261h1v1h-1zM419 242h1v1h-1zM419 244h1v1h-1zM419 245h1v1h-1zM419 246h1v1h-1zM419 247h1v1h-1zM419 248h1v1h-1zM419 249h1v1h-1zM419 250h1v1h-1zM419 251h1v1h-1zM419 252h1v1h-1zM419 253h1v1h-1zM419 254h1v1h-1zM419 255h1v1h-1zM419 256h1v1h-1zM419 258h1v1h-1zM419 262h1v1h-1zM420 235h1v1h-1zM420 241h1v1h-1zM420 242h1v1h-1zM420 243h1v1h-1zM420 244h1v1h-1zM420 245h1v1h-1zM420 246h1v1h-1zM420 247h1v1h-1zM420 248h1v1h-1zM420 249h1v1h-1zM420 250h1v1h-1zM420 251h1v1h-1zM420 252h1v1h-1zM420 253h1v1h-1zM420 254h1v1h-1zM420 255h1v1h-1zM420 256h1v1h-1zM420 257h1v1h-1zM420 258h1v1h-1zM420 259h1v1h-1zM420 262h1v1h-1zM421 239h1v1h-1zM421 240h1v1h-1zM421 243h1v1h-1zM421 244h1v1h-1zM421 245h1v1h-1zM421 246h1v1h-1zM421 247h1v1h-1zM421 248h1v1h-1zM421 249h1v1h-1zM421 250h1v1h-1zM421 251h1v1h-1zM421 252h1v1h-1zM421 253h1v1h-1zM421 254h1v1h-1zM421 255h1v1h-1zM421 256h1v1h-1zM421 257h1v1h-1zM422 238h1v1h-1zM422 241h1v1h-1zM422 242h1v1h-1zM422 243h1v1h-1zM422 244h1v1h-1zM422 245h1v1h-1zM422 246h1v1h-1zM422 247h1v1h-1zM422 248h1v1h-1zM422 249h1v1h-1zM422 250h1v1h-1zM422 251h1v1h-1zM422 252h1v1h-1zM422 253h1v1h-1zM422 254h1v1h-1zM422 255h1v1h-1zM422 256h1v1h-1zM422 257h1v1h-1zM423 239h1v1h-1zM423 243h1v1h-1zM423 244h1v1h-1zM423 245h1v1h-1zM423 247h1v1h-1zM423 248h1v1h-1zM423 249h1v1h-1zM423 250h1v1h-1zM423 252h1v1h-1zM423 254h1v1h-1zM423 255h1v1h-1zM423 258h1v1h-1zM423 259h1v1h-1zM423 261h1v1h-1zM424 243h1v1h-1zM424 245h1v1h-1zM424 246h1v1h-1zM424 247h1v1h-1zM424 248h1v1h-1zM424 249h1v1h-1zM424 250h1v1h-1zM424 251h1v1h-1zM424 252h1v1h-1zM424 253h1v1h-1zM424 254h1v1h-1zM424 260h1v1h-1zM425 237h1v1h-1zM425 240h1v1h-1zM425 242h1v1h-1zM425 244h1v1h-1zM425 247h1v1h-1zM425 248h1v1h-1zM425 249h1v1h-1zM425 251h1v1h-1zM425 252h1v1h-1zM425 253h1v1h-1zM425 254h1v1h-1zM425 255h1v1h-1zM425 256h1v1h-1zM426 241h1v1h-1zM426 242h1v1h-1zM426 244h1v1h-1zM426 245h1v1h-1zM426 248h1v1h-1zM426 250h1v1h-1zM426 251h1v1h-1zM426 252h1v1h-1zM426 253h1v1h-1zM426 255h1v1h-1zM426 256h1v1h-1zM426 261h1v1h-1zM427 239h1v1h-1zM427 240h1v1h-1zM427 243h1v1h-1zM427 244h1v1h-1zM427 245h1v1h-1zM427 248h1v1h-1zM427 249h1v1h-1zM427 251h1v1h-1zM427 253h1v1h-1zM428 243h1v1h-1zM428 250h1v1h-1zM428 254h1v1h-1zM429 243h1v1h-1zM429 244h1v1h-1zM429 246h1v1h-1zM429 247h1v1h-1zM429 248h1v1h-1zM429 249h1v1h-1zM429 250h1v1h-1zM429 251h1v1h-1zM429 252h1v1h-1zM429 253h1v1h-1zM429 256h1v1h-1zM430 242h1v1h-1zM430 243h1v1h-1zM430 245h1v1h-1zM430 246h1v1h-1zM430 247h1v1h-1zM430 249h1v1h-1zM430 250h1v1h-1zM430 251h1v1h-1zM430 252h1v1h-1zM430 253h1v1h-1zM430 256h1v1h-1zM431 240h1v1h-1zM431 241h1v1h-1zM431 242h1v1h-1zM431 243h1v1h-1zM431 244h1v1h-1zM431 246h1v1h-1zM431 247h1v1h-1zM431 249h1v1h-1zM431 250h1v1h-1zM431 251h1v1h-1zM431 252h1v1h-1zM431 254h1v1h-1zM431 256h1v1h-1zM432 238h1v1h-1zM432 244h1v1h-1zM432 245h1v1h-1zM432 246h1v1h-1zM432 248h1v1h-1zM432 249h1v1h-1zM432 250h1v1h-1zM432 251h1v1h-1zM432 253h1v1h-1zM432 257h1v1h-1zM433 238h1v1h-1zM433 240h1v1h-1zM433 242h1v1h-1zM433 244h1v1h-1zM433 246h1v1h-1zM433 247h1v1h-1zM433 248h1v1h-1zM433 249h1v1h-1zM433 250h1v1h-1zM433 251h1v1h-1zM433 253h1v1h-1zM433 260h1v1h-1zM434 243h1v1h-1zM434 244h1v1h-1zM434 246h1v1h-1zM434 247h1v1h-1zM434 248h1v1h-1zM434 249h1v1h-1zM434 250h1v1h-1zM434 252h1v1h-1zM434 253h1v1h-1zM434 255h1v1h-1zM434 256h1v1h-1zM435 240h1v1h-1zM435 241h1v1h-1zM435 245h1v1h-1zM435 247h1v1h-1zM435 250h1v1h-1zM435 251h1v1h-1zM435 252h1v1h-1zM435 257h1v1h-1zM435 258h1v1h-1zM436 241h1v1h-1zM436 243h1v1h-1zM436 247h1v1h-1zM436 249h1v1h-1zM436 250h1v1h-1zM436 251h1v1h-1zM436 253h1v1h-1zM436 254h1v1h-1zM436 255h1v1h-1zM437 241h1v1h-1zM437 242h1v1h-1zM437 243h1v1h-1zM437 245h1v1h-1zM437 246h1v1h-1zM437 247h1v1h-1zM437 248h1v1h-1zM437 249h1v1h-1zM437 250h1v1h-1zM437 251h1v1h-1zM437 252h1v1h-1zM437 253h1v1h-1zM437 254h1v1h-1zM437 255h1v1h-1zM437 256h1v1h-1zM438 243h1v1h-1zM438 246h1v1h-1zM438 247h1v1h-1zM438 248h1v1h-1zM438 249h1v1h-1zM438 251h1v1h-1zM438 253h1v1h-1zM438 255h1v1h-1zM438 258h1v1h-1zM439 242h1v1h-1zM439 244h1v1h-1zM439 246h1v1h-1zM439 248h1v1h-1zM439 250h1v1h-1zM439 255h1v1h-1zM440 249h1v1h-1zM440 250h1v1h-1zM440 251h1v1h-1zM440 252h1v1h-1zM441 243h1v1h-1zM441 245h1v1h-1zM441 247h1v1h-1zM441 248h1v1h-1zM441 249h1v1h-1zM441 251h1v1h-1zM441 252h1v1h-1zM441 257h1v1h-1zM442 245h1v1h-1zM442 246h1v1h-1zM442 248h1v1h-1zM442 251h1v1h-1zM442 252h1v1h-1zM442 253h1v1h-1zM442 254h1v1h-1zM442 260h1v1h-1zM443 240h1v1h-1zM443 243h1v1h-1zM443 245h1v1h-1zM443 247h1v1h-1zM443 248h1v1h-1zM443 249h1v1h-1zM443 250h1v1h-1zM443 253h1v1h-1zM443 254h1v1h-1zM444 242h1v1h-1zM444 245h1v1h-1zM444 246h1v1h-1zM444 248h1v1h-1zM444 250h1v1h-1zM444 251h1v1h-1zM444 254h1v1h-1zM444 258h1v1h-1zM444 259h1v1h-1zM445 241h1v1h-1zM445 247h1v1h-1zM445 248h1v1h-1zM445 249h1v1h-1zM445 250h1v1h-1zM445 251h1v1h-1zM445 252h1v1h-1zM445 254h1v1h-1zM446 241h1v1h-1zM446 244h1v1h-1zM446 245h1v1h-1zM446 247h1v1h-1zM446 249h1v1h-1zM446 250h1v1h-1zM446 251h1v1h-1zM446 252h1v1h-1zM446 255h1v1h-1zM446 257h1v1h-1zM447 239h1v1h-1zM447 241h1v1h-1zM447 245h1v1h-1zM447 247h1v1h-1zM447 248h1v1h-1zM447 249h1v1h-1zM447 250h1v1h-1zM447 254h1v1h-1zM448 238h1v1h-1zM448 244h1v1h-1zM448 246h1v1h-1zM448 247h1v1h-1zM448 248h1v1h-1zM448 249h1v1h-1zM448 250h1v1h-1zM448 251h1v1h-1zM448 252h1v1h-1zM448 254h1v1h-1zM448 255h1v1h-1zM449 243h1v1h-1zM449 244h1v1h-1zM449 245h1v1h-1zM449 246h1v1h-1zM449 247h1v1h-1zM449 250h1v1h-1zM449 253h1v1h-1zM449 255h1v1h-1zM449 260h1v1h-1zM450 240h1v1h-1zM450 244h1v1h-1zM450 246h1v1h-1zM450 248h1v1h-1zM450 249h1v1h-1zM450 252h1v1h-1zM450 253h1v1h-1zM450 254h1v1h-1zM450 255h1v1h-1zM451 243h1v1h-1zM451 245h1v1h-1zM451 246h1v1h-1zM451 247h1v1h-1zM451 248h1v1h-1zM451 249h1v1h-1zM451 250h1v1h-1zM451 251h1v1h-1zM451 254h1v1h-1zM451 259h1v1h-1zM452 246h1v1h-1zM452 247h1v1h-1zM452 249h1v1h-1zM452 255h1v1h-1zM453 243h1v1h-1zM453 248h1v1h-1zM453 250h1v1h-1zM453 252h1v1h-1zM453 257h1v1h-1zM454 242h1v1h-1zM454 243h1v1h-1zM454 245h1v1h-1zM454 246h1v1h-1zM454 247h1v1h-1zM454 250h1v1h-1zM454 251h1v1h-1zM454 252h1v1h-1zM454 253h1v1h-1zM454 254h1v1h-1zM454 257h1v1h-1zM454 260h1v1h-1zM455 241h1v1h-1zM455 245h1v1h-1zM455 253h1v1h-1zM455 256h1v1h-1zM455 261h1v1h-1zM456 242h1v1h-1zM456 244h1v1h-1zM456 247h1v1h-1zM456 248h1v1h-1zM456 250h1v1h-1zM456 251h1v1h-1zM456 253h1v1h-1zM456 254h1v1h-1zM457 242h1v1h-1zM457 243h1v1h-1zM457 244h1v1h-1zM457 248h1v1h-1zM457 249h1v1h-1zM457 253h1v1h-1zM457 256h1v1h-1zM458 245h1v1h-1zM458 246h1v1h-1zM458 247h1v1h-1zM458 250h1v1h-1zM459 244h1v1h-1zM459 246h1v1h-1zM459 249h1v1h-1zM459 257h1v1h-1zM460 245h1v1h-1zM460 250h1v1h-1zM460 252h1v1h-1zM460 256h1v1h-1zM460 257h1v1h-1zM461 242h1v1h-1zM461 248h1v1h-1zM461 249h1v1h-1zM461 250h1v1h-1zM461 251h1v1h-1zM462 244h1v1h-1zM462 248h1v1h-1zM462 249h1v1h-1zM462 252h1v1h-1zM462 255h1v1h-1zM462 257h1v1h-1zM463 242h1v1h-1zM463 243h1v1h-1zM463 244h1v1h-1zM463 246h1v1h-1zM463 247h1v1h-1zM463 248h1v1h-1zM463 252h1v1h-1zM464 251h1v1h-1zM465 245h1v1h-1zM465 247h1v1h-1zM465 248h1v1h-1zM466 245h1v1h-1zM466 249h1v1h-1zM466 253h1v1h-1zM466 257h1v1h-1zM467 244h1v1h-1zM467 245h1v1h-1zM467 249h1v1h-1z" fill="#000" filter="url(#bl)"/>
<path d="M389 245h1v1h-1zM390 257h1v1h-1zM391 255h1v1h-1zM394 267h1v1h-1zM395 241h1v1h-1zM399 241h1v1h-1zM400 255h1v1h-1zM401 264h1v1h-1zM402 267h1v1h-1zM403 263h1v1h-1zM405 269h1v1h-1zM406 260h1v1h-1zM409 267h1v1h-1zM411 263h1v1h-1zM411 264h1v1h-1zM412 257h1v1h-1zM415 261h1v1h-1zM415 265h1v1h-1zM416 250h1v1h-1zM416 268h1v1h-1zM417 237h1v1h-1zM417 261h1v1h-1zM417 262h1v1h-1zM417 267h1v1h-1zM418 264h1v1h-1zM419 240h1v1h-1zM419 270h1v1h-1zM422 259h1v1h-1zM422 265h1v1h-1zM423 237h1v1h-1zM423 242h1v1h-1zM423 256h1v1h-1zM423 257h1v1h-1zM423 273h1v1h-1zM424 256h1v1h-1zM424 268h1v1h-1zM425 258h1v1h-1zM425 259h1v1h-1zM425 266h1v1h-1zM427 254h1v1h-1zM427 255h1v1h-1zM428 248h1v1h-1zM428 253h1v1h-1zM428 260h1v1h-1zM428 264h1v1h-1zM428 274h1v1h-1zM429 263h1v1h-1zM429 271h1v1h-1zM430 244h1v1h-1zM430 260h1v1h-1zM431 257h1v1h-1zM431 259h1v1h-1zM431 264h1v1h-1zM432 239h1v1h-1zM432 256h1v1h-1zM433 255h1v1h-1zM434 260h1v1h-1zM435 270h1v1h-1zM437 236h1v1h-1zM437 263h1v1h-1zM438 262h1v1h-1zM439 258h1v1h-1zM439 271h1v1h-1zM440 261h1v1h-1zM440 272h1v1h-1zM443 270h1v1h-1zM445 260h1v1h-1zM445 267h1v1h-1zM446 259h1v1h-1zM446 265h1v1h-1zM447 253h1v1h-1zM447 257h1v1h-1zM447 269h1v1h-1zM448 264h1v1h-1zM448 267h1v1h-1zM449 254h1v1h-1zM451 244h1v1h-1zM451 263h1v1h-1zM451 272h1v1h-1zM452 266h1v1h-1zM453 251h1v1h-1zM453 254h1v1h-1zM453 273h1v1h-1zM454 272h1v1h-1zM455 274h1v1h-1zM459 259h1v1h-1zM461 260h1v1h-1zM461 271h1v1h-1zM462 251h1v1h-1zM465 269h1v1h-1zM467 256h1v1h-1zM468 243h1v1h-1zM468 264h1v1h-1zM469 271h1v1h-1zM470 265h1v1h-1zM472 262h1v1h-1zM474 268h1v1h-1zM474 272h1v1h-1zM475 274h1v1h-1z" fill="#333" filter="url(#bl)"/>
<path d="M401 237h1v1h-1zM401 241h1v1h-1zM404 239h1v1h-1zM410 236h1v1h-1zM415 237h1v1h-1zM416 241h1v1h-1zM420 236h1v1h-1zM423 240h1v1h-1zM431 235h1v1h-1zM436 237h1v1h-1zM438 239h1v1h-1zM439 236h1v1h-1zM444 237h1v1h-1zM448 239h1v1h-1zM452 237h1v1h-1zM457 237h1v1h-1zM458 235h1v1h-1zM464 238h1v1h-1zM466 242h1v1h-1zM470 244h1v1h-1zM472 238h1v1h-1zM473 241h1v1h-1zM477 237h1v1h-1zM477 243h1v1h-1zM478 239h1v1h-1zM481 238h1v1h-1zM482 243h1v1h-1z" fill="#444" filter="url(#bl)"/>
<path d="M389 338h1v1h-1zM390 332h1v1h-1zM395 333h1v1h-1zM401 353h1v1h-1zM410 286h1v1h-1zM432 304h1v1h-1zM433 304h1v1h-1zM439 297h1v1h-1zM441 309h1v1h-1zM443 291h1v1h-1zM444 306h1v1h-1zM457 260h1v1h-1zM457 353h1v1h-1zM459 251h1v1h-1zM460 244h1v1h-1zM464 287h1v1h-1zM465 262h1v1h-1zM472 256h1v1h-1zM473 259h1v1h-1zM474 253h1v1h-1zM475 283h1v1h-1zM477 255h1v1h-1zM477 290h1v1h-1zM482 249h1v1h-1zM484 258h1v1h-1z" fill="#555" filter="url(#bl)"/>
<rect x="60.30" y="59.20" width="119.90" height="124.00" fill="none" stroke="#383838" stroke-width="1.55"/>
<path d="M91.00 59.20V183.20M60.30 111.90H180.20" stroke="#303030" stroke-width="1.6" fill="none"/>
<path d="M60.30 183.20v3.6M60.30 183.20h-3.6M69.32 183.20v2.0M60.30 173.87h-2.0M74.60 183.20v2.0M60.30 168.41h-2.0M78.35 183.20v2.0M60.30 164.54h-2.0M81.25 183.20v2.0M60.30 161.53h-2.0M83.63 183.20v2.0M60.30 159.08h-2.0M85.63 183.20v2.0M60.30 157.00h-2.0M87.37 183.20v2.0M60.30 155.20h-2.0M88.90 183.20v2.0M60.30 153.62h-2.0M90.27 183.20v3.6M60.30 152.20h-3.6M99.30 183.20v2.0M60.30 142.87h-2.0M104.58 183.20v2.0M60.30 137.41h-2.0M108.32 183.20v2.0M60.30 133.54h-2.0M111.23 183.20v2.0M60.30 130.53h-2.0M113.60 183.20v2.0M60.30 128.08h-2.0M115.61 183.20v2.0M60.30 126.00h-2.0M117.35 183.20v2.0M60.30 124.20h-2.0M118.88 183.20v2.0M60.30 122.62h-2.0M120.25 183.20v3.6M60.30 121.20h-3.6M129.27 183.20v2.0M60.30 111.87h-2.0M134.55 183.20v2.0M60.30 106.41h-2.0M138.30 183.20v2.0M60.30 102.54h-2.0M141.20 183.20v2.0M60.30 99.53h-2.0M143.58 183.20v2.0M60.30 97.08h-2.0M145.58 183.20v2.0M60.30 95.00h-2.0M147.32 183.20v2.0M60.30 93.20h-2.0M148.85 183.20v2.0M60.30 91.62h-2.0M150.22 183.20v3.6M60.30 90.20h-3.6M159.25 183.20v2.0M60.30 80.87h-2.0M164.53 183.20v2.0M60.30 75.41h-2.0M168.27 183.20v2.0M60.30 71.54h-2.0M171.18 183.20v2.0M60.30 68.53h-2.0M173.55 183.20v2.0M60.30 66.08h-2.0M175.56 183.20v2.0M60.30 64.00h-2.0M177.30 183.20v2.0M60.30 62.20h-2.0M178.83 183.20v2.0M60.30 60.62h-2.0M180.20 183.20v3.6M60.30 59.20h-3.6" stroke="#141414" stroke-width="1.1" fill="none"/>
<g stroke="#111" stroke-width="0.3"><use href="#one" x="57.00" y="196.50"/><text x="58.25" y="196.50" font-size="8.6" textLength="3.95" lengthAdjust="spacingAndGlyphs">0</text><text x="62.20" y="192.00" font-size="8.2">0</text><use href="#one" x="86.97" y="196.50"/><text x="88.22" y="196.50" font-size="8.6" textLength="3.95" lengthAdjust="spacingAndGlyphs">0</text><text x="92.17" y="192.00" font-size="8.2">1</text><use href="#one" x="116.95" y="196.50"/><text x="118.20" y="196.50" font-size="8.6" textLength="3.95" lengthAdjust="spacingAndGlyphs">0</text><text x="122.15" y="192.00" font-size="8.2">2</text><use href="#one" x="146.92" y="196.50"/><text x="148.17" y="196.50" font-size="8.6" textLength="3.95" lengthAdjust="spacingAndGlyphs">0</text><text x="152.12" y="192.00" font-size="8.2">3</text><use href="#one" x="176.90" y="196.50"/><text x="178.15" y="196.50" font-size="8.6" textLength="3.95" lengthAdjust="spacingAndGlyphs">0</text><text x="182.10" y="192.00" font-size="8.2">4</text><g transform="translate(53.60,183.20) rotate(-90)"><use href="#one2" x="-3.6" y="0"/><text x="-2.0" y="0" font-size="8.9" textLength="4.0" lengthAdjust="spacingAndGlyphs">0</text><text x="2.9" y="-4.5" font-size="8.4">0</text></g><g transform="translate(53.60,152.51) rotate(-90)"><use href="#one2" x="-3.6" y="0"/><text x="-2.0" y="0" font-size="8.9" textLength="4.0" lengthAdjust="spacingAndGlyphs">0</text><text x="2.9" y="-4.5" font-size="8.4">1</text></g><g transform="translate(53.60,121.82) rotate(-90)"><use href="#one2" x="-3.6" y="0"/><text x="-2.0" y="0" font-size="8.9" textLength="4.0" lengthAdjust="spacingAndGlyphs">0</text><text x="2.9" y="-4.5" font-size="8.4">2</text></g><g transform="translate(53.60,91.13) rotate(-90)"><use href="#one2" x="-3.6" y="0"/><text x="-2.0" y="0" font-size="8.9" textLength="4.0" lengthAdjust="spacingAndGlyphs">0</text><text x="2.9" y="-4.5" font-size="8.4">3</text></g><g transform="translate(53.60,60.44) rotate(-90)"><use href="#one2" x="-3.6" y="0"/><text x="-2.0" y="0" font-size="8.9" textLength="4.0" lengthAdjust="spacingAndGlyphs">0</text><text x="2.9" y="-4.5" font-size="8.4">4</text></g><text x="68.10" y="71.90" font-size="9.2" textLength="10.4" lengthAdjust="spacingAndGlyphs">72</text><text x="164.60" y="74.40" font-size="9.2" textLength="10.4" lengthAdjust="spacingAndGlyphs">24</text></g>
<rect x="224.50" y="59.00" width="118.20" height="124.50" fill="none" stroke="#383838" stroke-width="1.55"/>
<path d="M255.50 59.00V183.50M224.50 112.20H342.70" stroke="#303030" stroke-width="1.6" fill="none"/>
<path d="M224.50 183.50v3.6M224.50 183.50h-3.6M233.40 183.50v2.0M224.50 174.13h-2.0M238.60 183.50v2.0M224.50 168.65h-2.0M242.29 183.50v2.0M224.50 164.76h-2.0M245.15 183.50v2.0M224.50 161.74h-2.0M247.49 183.50v2.0M224.50 159.28h-2.0M249.47 183.50v2.0M224.50 157.20h-2.0M251.19 183.50v2.0M224.50 155.39h-2.0M252.70 183.50v2.0M224.50 153.80h-2.0M254.05 183.50v3.6M224.50 152.38h-3.6M262.95 183.50v2.0M224.50 143.01h-2.0M268.15 183.50v2.0M224.50 137.52h-2.0M271.84 183.50v2.0M224.50 133.64h-2.0M274.70 183.50v2.0M224.50 130.62h-2.0M277.04 183.50v2.0M224.50 128.16h-2.0M279.02 183.50v2.0M224.50 126.07h-2.0M280.74 183.50v2.0M224.50 124.27h-2.0M282.25 183.50v2.0M224.50 122.67h-2.0M283.60 183.50v3.6M224.50 121.25h-3.6M292.50 183.50v2.0M224.50 111.88h-2.0M297.70 183.50v2.0M224.50 106.40h-2.0M301.39 183.50v2.0M224.50 102.51h-2.0M304.25 183.50v2.0M224.50 99.49h-2.0M306.59 183.50v2.0M224.50 97.03h-2.0M308.57 183.50v2.0M224.50 94.95h-2.0M310.29 183.50v2.0M224.50 93.14h-2.0M311.80 183.50v2.0M224.50 91.55h-2.0M313.15 183.50v3.6M224.50 90.12h-3.6M322.05 183.50v2.0M224.50 80.76h-2.0M327.25 183.50v2.0M224.50 75.27h-2.0M330.94 183.50v2.0M224.50 71.39h-2.0M333.80 183.50v2.0M224.50 68.37h-2.0M336.14 183.50v2.0M224.50 65.91h-2.0M338.12 183.50v2.0M224.50 63.82h-2.0M339.84 183.50v2.0M224.50 62.02h-2.0M341.35 183.50v2.0M224.50 60.42h-2.0M342.70 183.50v3.6M224.50 59.00h-3.6" stroke="#141414" stroke-width="1.1" fill="none"/>
<g stroke="#111" stroke-width="0.3"><use href="#one" x="221.20" y="196.80"/><text x="222.45" y="196.80" font-size="8.6" textLength="3.95" lengthAdjust="spacingAndGlyphs">0</text><text x="226.40" y="192.30" font-size="8.2">0</text><use href="#one" x="250.75" y="196.80"/><text x="252.00" y="196.80" font-size="8.6" textLength="3.95" lengthAdjust="spacingAndGlyphs">0</text><text x="255.95" y="192.30" font-size="8.2">1</text><use href="#one" x="280.30" y="196.80"/><text x="281.55" y="196.80" font-size="8.6" textLength="3.95" lengthAdjust="spacingAndGlyphs">0</text><text x="285.50" y="192.30" font-size="8.2">2</text><use href="#one" x="309.85" y="196.80"/><text x="311.10" y="196.80" font-size="8.6" textLength="3.95" lengthAdjust="spacingAndGlyphs">0</text><text x="315.05" y="192.30" font-size="8.2">3</text><use href="#one" x="339.40" y="196.80"/><text x="340.65" y="196.80" font-size="8.6" textLength="3.95" lengthAdjust="spacingAndGlyphs">0</text><text x="344.60" y="192.30" font-size="8.2">4</text><g transform="translate(217.80,183.50) rotate(-90)"><use href="#one2" x="-3.6" y="0"/><text x="-2.0" y="0" font-size="8.9" textLength="4.0" lengthAdjust="spacingAndGlyphs">0</text><text x="2.9" y="-4.5" font-size="8.4">0</text></g><g transform="translate(217.80,152.69) rotate(-90)"><use href="#one2" x="-3.6" y="0"/><text x="-2.0" y="0" font-size="8.9" textLength="4.0" lengthAdjust="spacingAndGlyphs">0</text><text x="2.9" y="-4.5" font-size="8.4">1</text></g><g transform="translate(217.80,121.87) rotate(-90)"><use href="#one2" x="-3.6" y="0"/><text x="-2.0" y="0" font-size="8.9" textLength="4.0" lengthAdjust="spacingAndGlyphs">0</text><text x="2.9" y="-4.5" font-size="8.4">2</text></g><g transform="translate(217.80,91.06) rotate(-90)"><use href="#one2" x="-3.6" y="0"/><text x="-2.0" y="0" font-size="8.9" textLength="4.0" lengthAdjust="spacingAndGlyphs">0</text><text x="2.9" y="-4.5" font-size="8.4">3</text></g><g transform="translate(217.80,60.25) rotate(-90)"><use href="#one2" x="-3.6" y="0"/><text x="-2.0" y="0" font-size="8.9" textLength="4.0" lengthAdjust="spacingAndGlyphs">0</text><text x="2.9" y="-4.5" font-size="8.4">4</text></g><text x="230.90" y="72.70" font-size="9.2" textLength="10.4" lengthAdjust="spacingAndGlyphs">58</text><text x="326.90" y="72.00" font-size="9.2" textLength="10.4" lengthAdjust="spacingAndGlyphs">40</text></g>
<rect x="384.60" y="60.30" width="120.20" height="124.00" fill="none" stroke="#383838" stroke-width="1.55"/>
<path d="M427.50 60.30V184.30M384.60 110.40H504.80" stroke="#303030" stroke-width="1.6" fill="none"/>
<path d="M384.60 184.30v3.6M384.60 184.30h-3.6M393.65 184.30v2.0M384.60 174.97h-2.0M398.94 184.30v2.0M384.60 169.51h-2.0M402.69 184.30v2.0M384.60 165.64h-2.0M405.60 184.30v2.0M384.60 162.63h-2.0M407.98 184.30v2.0M384.60 160.18h-2.0M410.00 184.30v2.0M384.60 158.10h-2.0M411.74 184.30v2.0M384.60 156.30h-2.0M413.27 184.30v2.0M384.60 154.72h-2.0M414.65 184.30v3.6M384.60 153.30h-3.6M423.70 184.30v2.0M384.60 143.97h-2.0M428.99 184.30v2.0M384.60 138.51h-2.0M432.74 184.30v2.0M384.60 134.64h-2.0M435.65 184.30v2.0M384.60 131.63h-2.0M438.03 184.30v2.0M384.60 129.18h-2.0M440.05 184.30v2.0M384.60 127.10h-2.0M441.79 184.30v2.0M384.60 125.30h-2.0M443.32 184.30v2.0M384.60 123.72h-2.0M444.70 184.30v3.6M384.60 122.30h-3.6M453.75 184.30v2.0M384.60 112.97h-2.0M459.04 184.30v2.0M384.60 107.51h-2.0M462.79 184.30v2.0M384.60 103.64h-2.0M465.70 184.30v2.0M384.60 100.63h-2.0M468.08 184.30v2.0M384.60 98.18h-2.0M470.10 184.30v2.0M384.60 96.10h-2.0M471.84 184.30v2.0M384.60 94.30h-2.0M473.37 184.30v2.0M384.60 92.72h-2.0M474.75 184.30v3.6M384.60 91.30h-3.6M483.80 184.30v2.0M384.60 81.97h-2.0M489.09 184.30v2.0M384.60 76.51h-2.0M492.84 184.30v2.0M384.60 72.64h-2.0M495.75 184.30v2.0M384.60 69.63h-2.0M498.13 184.30v2.0M384.60 67.18h-2.0M500.15 184.30v2.0M384.60 65.10h-2.0M501.89 184.30v2.0M384.60 63.30h-2.0M503.42 184.30v2.0M384.60 61.72h-2.0M504.80 184.30v3.6M384.60 60.30h-3.6" stroke="#141414" stroke-width="1.1" fill="none"/>
<g stroke="#111" stroke-width="0.3"><use href="#one" x="380.30" y="197.50"/><text x="381.55" y="197.50" font-size="8.6" textLength="3.95" lengthAdjust="spacingAndGlyphs">0</text><text x="385.50" y="193.00" font-size="8.2">0</text><use href="#one" x="410.35" y="197.50"/><text x="411.60" y="197.50" font-size="8.6" textLength="3.95" lengthAdjust="spacingAndGlyphs">0</text><text x="415.55" y="193.00" font-size="8.2">1</text><use href="#one" x="440.40" y="197.50"/><text x="441.65" y="197.50" font-size="8.6" textLength="3.95" lengthAdjust="spacingAndGlyphs">0</text><text x="445.60" y="193.00" font-size="8.2">2</text><use href="#one" x="470.45" y="197.50"/><text x="471.70" y="197.50" font-size="8.6" textLength="3.95" lengthAdjust="spacingAndGlyphs">0</text><text x="475.65" y="193.00" font-size="8.2">3</text><use href="#one" x="500.50" y="197.50"/><text x="501.75" y="197.50" font-size="8.6" textLength="3.95" lengthAdjust="spacingAndGlyphs">0</text><text x="505.70" y="193.00" font-size="8.2">4</text><g transform="translate(377.90,184.30) rotate(-90)"><use href="#one2" x="-3.6" y="0"/><text x="-2.0" y="0" font-size="8.9" textLength="4.0" lengthAdjust="spacingAndGlyphs">0</text><text x="2.9" y="-4.5" font-size="8.4">0</text></g><g transform="translate(377.90,153.61) rotate(-90)"><use href="#one2" x="-3.6" y="0"/><text x="-2.0" y="0" font-size="8.9" textLength="4.0" lengthAdjust="spacingAndGlyphs">0</text><text x="2.9" y="-4.5" font-size="8.4">1</text></g><g transform="translate(377.90,122.92) rotate(-90)"><use href="#one2" x="-3.6" y="0"/><text x="-2.0" y="0" font-size="8.9" textLength="4.0" lengthAdjust="spacingAndGlyphs">0</text><text x="2.9" y="-4.5" font-size="8.4">2</text></g><g transform="translate(377.90,92.23) rotate(-90)"><use href="#one2" x="-3.6" y="0"/><text x="-2.0" y="0" font-size="8.9" textLength="4.0" lengthAdjust="spacingAndGlyphs">0</text><text x="2.9" y="-4.5" font-size="8.4">3</text></g><g transform="translate(377.90,61.54) rotate(-90)"><use href="#one2" x="-3.6" y="0"/><text x="-2.0" y="0" font-size="8.9" textLength="4.0" lengthAdjust="spacingAndGlyphs">0</text><text x="2.9" y="-4.5" font-size="8.4">4</text></g><text x="392.10" y="72.40" font-size="9.2" textLength="10.4" lengthAdjust="spacingAndGlyphs">77</text><text x="483.70" y="70.30" font-size="9.2" textLength="10.4" lengthAdjust="spacingAndGlyphs">23</text></g>
<rect x="60.40" y="226.70" width="117.90" height="129.10" fill="none" stroke="#383838" stroke-width="1.55"/>
<path d="M90.20 226.70V355.80M60.40 281.50H178.30" stroke="#303030" stroke-width="1.6" fill="none"/>
<path d="M60.40 355.80v3.6M60.40 355.80h-3.6M69.27 355.80v2.0M60.40 346.08h-2.0M74.46 355.80v2.0M60.40 340.40h-2.0M78.15 355.80v2.0M60.40 336.37h-2.0M81.00 355.80v2.0M60.40 333.24h-2.0M83.34 355.80v2.0M60.40 330.69h-2.0M85.31 355.80v2.0M60.40 328.52h-2.0M87.02 355.80v2.0M60.40 326.65h-2.0M88.53 355.80v2.0M60.40 325.00h-2.0M89.88 355.80v3.6M60.40 323.52h-3.6M98.75 355.80v2.0M60.40 313.81h-2.0M103.94 355.80v2.0M60.40 308.13h-2.0M107.62 355.80v2.0M60.40 304.09h-2.0M110.48 355.80v2.0M60.40 300.97h-2.0M112.81 355.80v2.0M60.40 298.41h-2.0M114.78 355.80v2.0M60.40 296.25h-2.0M116.49 355.80v2.0M60.40 294.38h-2.0M118.00 355.80v2.0M60.40 292.73h-2.0M119.35 355.80v3.6M60.40 291.25h-3.6M128.22 355.80v2.0M60.40 281.53h-2.0M133.41 355.80v2.0M60.40 275.85h-2.0M137.10 355.80v2.0M60.40 271.82h-2.0M139.95 355.80v2.0M60.40 268.69h-2.0M142.29 355.80v2.0M60.40 266.14h-2.0M144.26 355.80v2.0M60.40 263.97h-2.0M145.97 355.80v2.0M60.40 262.10h-2.0M147.48 355.80v2.0M60.40 260.45h-2.0M148.83 355.80v3.6M60.40 258.98h-3.6M157.70 355.80v2.0M60.40 249.26h-2.0M162.89 355.80v2.0M60.40 243.58h-2.0M166.57 355.80v2.0M60.40 239.54h-2.0M169.43 355.80v2.0M60.40 236.42h-2.0M171.76 355.80v2.0M60.40 233.86h-2.0M173.73 355.80v2.0M60.40 231.70h-2.0M175.44 355.80v2.0M60.40 229.83h-2.0M176.95 355.80v2.0M60.40 228.18h-2.0M178.30 355.80v3.6M60.40 226.70h-3.6" stroke="#141414" stroke-width="1.1" fill="none"/>
<g stroke="#111" stroke-width="0.3"><use href="#one" x="56.50" y="368.70"/><text x="57.75" y="368.70" font-size="8.6" textLength="3.95" lengthAdjust="spacingAndGlyphs">0</text><text x="61.70" y="364.20" font-size="8.2">0</text><use href="#one" x="85.98" y="368.70"/><text x="87.23" y="368.70" font-size="8.6" textLength="3.95" lengthAdjust="spacingAndGlyphs">0</text><text x="91.18" y="364.20" font-size="8.2">1</text><use href="#one" x="115.45" y="368.70"/><text x="116.70" y="368.70" font-size="8.6" textLength="3.95" lengthAdjust="spacingAndGlyphs">0</text><text x="120.65" y="364.20" font-size="8.2">2</text><use href="#one" x="144.93" y="368.70"/><text x="146.18" y="368.70" font-size="8.6" textLength="3.95" lengthAdjust="spacingAndGlyphs">0</text><text x="150.13" y="364.20" font-size="8.2">3</text><use href="#one" x="174.40" y="368.70"/><text x="175.65" y="368.70" font-size="8.6" textLength="3.95" lengthAdjust="spacingAndGlyphs">0</text><text x="179.60" y="364.20" font-size="8.2">4</text><g transform="translate(53.70,355.80) rotate(-90)"><use href="#one2" x="-3.6" y="0"/><text x="-2.0" y="0" font-size="8.9" textLength="4.0" lengthAdjust="spacingAndGlyphs">0</text><text x="2.9" y="-4.5" font-size="8.4">0</text></g><g transform="translate(53.70,323.85) rotate(-90)"><use href="#one2" x="-3.6" y="0"/><text x="-2.0" y="0" font-size="8.9" textLength="4.0" lengthAdjust="spacingAndGlyphs">0</text><text x="2.9" y="-4.5" font-size="8.4">1</text></g><g transform="translate(53.70,291.90) rotate(-90)"><use href="#one2" x="-3.6" y="0"/><text x="-2.0" y="0" font-size="8.9" textLength="4.0" lengthAdjust="spacingAndGlyphs">0</text><text x="2.9" y="-4.5" font-size="8.4">2</text></g><g transform="translate(53.70,259.94) rotate(-90)"><use href="#one2" x="-3.6" y="0"/><text x="-2.0" y="0" font-size="8.9" textLength="4.0" lengthAdjust="spacingAndGlyphs">0</text><text x="2.9" y="-4.5" font-size="8.4">3</text></g><g transform="translate(53.70,227.99) rotate(-90)"><use href="#one2" x="-3.6" y="0"/><text x="-2.0" y="0" font-size="8.9" textLength="4.0" lengthAdjust="spacingAndGlyphs">0</text><text x="2.9" y="-4.5" font-size="8.4">4</text></g><text x="61.70" y="237.80" font-size="9.2" textLength="10.4" lengthAdjust="spacingAndGlyphs">66</text><text x="159.00" y="239.80" font-size="9.2" textLength="10.4" lengthAdjust="spacingAndGlyphs">29</text></g>
<rect x="222.80" y="227.00" width="116.90" height="129.20" fill="none" stroke="#383838" stroke-width="1.55"/>
<path d="M253.10 227.00V356.20M222.80 281.80H339.70" stroke="#303030" stroke-width="1.6" fill="none"/>
<path d="M222.80 356.20v3.6M222.80 356.20h-3.6M231.60 356.20v2.0M222.80 346.48h-2.0M236.74 356.20v2.0M222.80 340.79h-2.0M240.40 356.20v2.0M222.80 336.75h-2.0M243.23 356.20v2.0M222.80 333.62h-2.0M245.54 356.20v2.0M222.80 331.07h-2.0M247.50 356.20v2.0M222.80 328.90h-2.0M249.19 356.20v2.0M222.80 327.03h-2.0M250.69 356.20v2.0M222.80 325.38h-2.0M252.03 356.20v3.6M222.80 323.90h-3.6M260.82 356.20v2.0M222.80 314.18h-2.0M265.97 356.20v2.0M222.80 308.49h-2.0M269.62 356.20v2.0M222.80 304.45h-2.0M272.45 356.20v2.0M222.80 301.32h-2.0M274.77 356.20v2.0M222.80 298.77h-2.0M276.72 356.20v2.0M222.80 296.60h-2.0M278.42 356.20v2.0M222.80 294.73h-2.0M279.91 356.20v2.0M222.80 293.08h-2.0M281.25 356.20v3.6M222.80 291.60h-3.6M290.05 356.20v2.0M222.80 281.88h-2.0M295.19 356.20v2.0M222.80 276.19h-2.0M298.85 356.20v2.0M222.80 272.15h-2.0M301.68 356.20v2.0M222.80 269.02h-2.0M303.99 356.20v2.0M222.80 266.47h-2.0M305.95 356.20v2.0M222.80 264.30h-2.0M307.64 356.20v2.0M222.80 262.43h-2.0M309.14 356.20v2.0M222.80 260.78h-2.0M310.48 356.20v3.6M222.80 259.30h-3.6M319.27 356.20v2.0M222.80 249.58h-2.0M324.42 356.20v2.0M222.80 243.89h-2.0M328.07 356.20v2.0M222.80 239.85h-2.0M330.90 356.20v2.0M222.80 236.72h-2.0M333.22 356.20v2.0M222.80 234.17h-2.0M335.17 356.20v2.0M222.80 232.00h-2.0M336.87 356.20v2.0M222.80 230.13h-2.0M338.36 356.20v2.0M222.80 228.48h-2.0M339.70 356.20v3.6M222.80 227.00h-3.6" stroke="#141414" stroke-width="1.1" fill="none"/>
<g stroke="#111" stroke-width="0.3"><use href="#one" x="219.50" y="368.80"/><text x="220.75" y="368.80" font-size="8.6" textLength="3.95" lengthAdjust="spacingAndGlyphs">0</text><text x="224.70" y="364.30" font-size="8.2">0</text><use href="#one" x="248.72" y="368.80"/><text x="249.97" y="368.80" font-size="8.6" textLength="3.95" lengthAdjust="spacingAndGlyphs">0</text><text x="253.93" y="364.30" font-size="8.2">1</text><use href="#one" x="277.95" y="368.80"/><text x="279.20" y="368.80" font-size="8.6" textLength="3.95" lengthAdjust="spacingAndGlyphs">0</text><text x="283.15" y="364.30" font-size="8.2">2</text><use href="#one" x="307.18" y="368.80"/><text x="308.43" y="368.80" font-size="8.6" textLength="3.95" lengthAdjust="spacingAndGlyphs">0</text><text x="312.38" y="364.30" font-size="8.2">3</text><use href="#one" x="336.40" y="368.80"/><text x="337.65" y="368.80" font-size="8.6" textLength="3.95" lengthAdjust="spacingAndGlyphs">0</text><text x="341.60" y="364.30" font-size="8.2">4</text><g transform="translate(216.10,356.20) rotate(-90)"><use href="#one2" x="-3.6" y="0"/><text x="-2.0" y="0" font-size="8.9" textLength="4.0" lengthAdjust="spacingAndGlyphs">0</text><text x="2.9" y="-4.5" font-size="8.4">0</text></g><g transform="translate(216.10,324.22) rotate(-90)"><use href="#one2" x="-3.6" y="0"/><text x="-2.0" y="0" font-size="8.9" textLength="4.0" lengthAdjust="spacingAndGlyphs">0</text><text x="2.9" y="-4.5" font-size="8.4">1</text></g><g transform="translate(216.10,292.25) rotate(-90)"><use href="#one2" x="-3.6" y="0"/><text x="-2.0" y="0" font-size="8.9" textLength="4.0" lengthAdjust="spacingAndGlyphs">0</text><text x="2.9" y="-4.5" font-size="8.4">2</text></g><g transform="translate(216.10,260.27) rotate(-90)"><use href="#one2" x="-3.6" y="0"/><text x="-2.0" y="0" font-size="8.9" textLength="4.0" lengthAdjust="spacingAndGlyphs">0</text><text x="2.9" y="-4.5" font-size="8.4">3</text></g><g transform="translate(216.10,228.29) rotate(-90)"><use href="#one2" x="-3.6" y="0"/><text x="-2.0" y="0" font-size="8.9" textLength="4.0" lengthAdjust="spacingAndGlyphs">0</text><text x="2.9" y="-4.5" font-size="8.4">4</text></g><text x="224.90" y="238.10" font-size="9.2" textLength="10.4" lengthAdjust="spacingAndGlyphs">66</text><text x="319.90" y="237.90" font-size="9.2" textLength="10.4" lengthAdjust="spacingAndGlyphs">31</text></g>
<rect x="385.60" y="227.30" width="120.60" height="129.00" fill="none" stroke="#383838" stroke-width="1.55"/>
<path d="M428.60 227.30V356.30M385.60 279.00H506.20" stroke="#303030" stroke-width="1.6" fill="none"/>
<path d="M385.60 356.30v3.6M385.60 356.30h-3.6M394.68 356.30v2.0M385.60 346.59h-2.0M399.99 356.30v2.0M385.60 340.91h-2.0M403.75 356.30v2.0M385.60 336.88h-2.0M406.67 356.30v2.0M385.60 333.76h-2.0M409.06 356.30v2.0M385.60 331.20h-2.0M411.08 356.30v2.0M385.60 329.05h-2.0M412.83 356.30v2.0M385.60 327.18h-2.0M414.37 356.30v2.0M385.60 325.53h-2.0M415.75 356.30v3.6M385.60 324.05h-3.6M424.83 356.30v2.0M385.60 314.34h-2.0M430.14 356.30v2.0M385.60 308.66h-2.0M433.90 356.30v2.0M385.60 304.63h-2.0M436.82 356.30v2.0M385.60 301.51h-2.0M439.21 356.30v2.0M385.60 298.95h-2.0M441.23 356.30v2.0M385.60 296.80h-2.0M442.98 356.30v2.0M385.60 294.93h-2.0M444.52 356.30v2.0M385.60 293.28h-2.0M445.90 356.30v3.6M385.60 291.80h-3.6M454.98 356.30v2.0M385.60 282.09h-2.0M460.29 356.30v2.0M385.60 276.41h-2.0M464.05 356.30v2.0M385.60 272.38h-2.0M466.97 356.30v2.0M385.60 269.26h-2.0M469.36 356.30v2.0M385.60 266.70h-2.0M471.38 356.30v2.0M385.60 264.55h-2.0M473.13 356.30v2.0M385.60 262.68h-2.0M474.67 356.30v2.0M385.60 261.03h-2.0M476.05 356.30v3.6M385.60 259.55h-3.6M485.13 356.30v2.0M385.60 249.84h-2.0M490.44 356.30v2.0M385.60 244.16h-2.0M494.20 356.30v2.0M385.60 240.13h-2.0M497.12 356.30v2.0M385.60 237.01h-2.0M499.51 356.30v2.0M385.60 234.45h-2.0M501.53 356.30v2.0M385.60 232.30h-2.0M503.28 356.30v2.0M385.60 230.43h-2.0M504.82 356.30v2.0M385.60 228.78h-2.0M506.20 356.30v3.6M385.60 227.30h-3.6" stroke="#141414" stroke-width="1.1" fill="none"/>
<g stroke="#111" stroke-width="0.3"><use href="#one" x="381.10" y="368.80"/><text x="382.35" y="368.80" font-size="8.6" textLength="3.95" lengthAdjust="spacingAndGlyphs">0</text><text x="386.30" y="364.30" font-size="8.2">0</text><use href="#one" x="411.25" y="368.80"/><text x="412.50" y="368.80" font-size="8.6" textLength="3.95" lengthAdjust="spacingAndGlyphs">0</text><text x="416.45" y="364.30" font-size="8.2">1</text><use href="#one" x="441.40" y="368.80"/><text x="442.65" y="368.80" font-size="8.6" textLength="3.95" lengthAdjust="spacingAndGlyphs">0</text><text x="446.60" y="364.30" font-size="8.2">2</text><use href="#one" x="471.55" y="368.80"/><text x="472.80" y="368.80" font-size="8.6" textLength="3.95" lengthAdjust="spacingAndGlyphs">0</text><text x="476.75" y="364.30" font-size="8.2">3</text><use href="#one" x="501.70" y="368.80"/><text x="502.95" y="368.80" font-size="8.6" textLength="3.95" lengthAdjust="spacingAndGlyphs">0</text><text x="506.90" y="364.30" font-size="8.2">4</text><g transform="translate(378.90,356.30) rotate(-90)"><use href="#one2" x="-3.6" y="0"/><text x="-2.0" y="0" font-size="8.9" textLength="4.0" lengthAdjust="spacingAndGlyphs">0</text><text x="2.9" y="-4.5" font-size="8.4">0</text></g><g transform="translate(378.90,324.37) rotate(-90)"><use href="#one2" x="-3.6" y="0"/><text x="-2.0" y="0" font-size="8.9" textLength="4.0" lengthAdjust="spacingAndGlyphs">0</text><text x="2.9" y="-4.5" font-size="8.4">1</text></g><g transform="translate(378.90,292.44) rotate(-90)"><use href="#one2" x="-3.6" y="0"/><text x="-2.0" y="0" font-size="8.9" textLength="4.0" lengthAdjust="spacingAndGlyphs">0</text><text x="2.9" y="-4.5" font-size="8.4">2</text></g><g transform="translate(378.90,260.52) rotate(-90)"><use href="#one2" x="-3.6" y="0"/><text x="-2.0" y="0" font-size="8.9" textLength="4.0" lengthAdjust="spacingAndGlyphs">0</text><text x="2.9" y="-4.5" font-size="8.4">3</text></g><g transform="translate(378.90,228.59) rotate(-90)"><use href="#one2" x="-3.6" y="0"/><text x="-2.0" y="0" font-size="8.9" textLength="4.0" lengthAdjust="spacingAndGlyphs">0</text><text x="2.9" y="-4.5" font-size="8.4">4</text></g><text x="389.20" y="239.00" font-size="9.2" textLength="10.4" lengthAdjust="spacingAndGlyphs">75</text><text x="486.40" y="239.40" font-size="9.2" textLength="10.4" lengthAdjust="spacingAndGlyphs">24</text></g>
<g font-weight="bold" font-size="10.0" stroke="#111" stroke-width="0.22">
<text x="157.2" y="9.7" textLength="76.9" lengthAdjust="spacingAndGlyphs">CORD CD45RA</text>
<rect x="156.8" y="10.2" width="77.6" height="1.3" fill="#222"/>
<text x="392.7" y="11.1" textLength="81.7" lengthAdjust="spacingAndGlyphs">ADULT CD45RA</text>
<rect x="392.3" y="11.7" width="82.6" height="1.3" fill="#222"/>
<text x="63.3" y="42.2" textLength="103.7" lengthAdjust="spacingAndGlyphs">Double transduction</text>
<text x="223.6" y="30.2" textLength="121.8" lengthAdjust="spacingAndGlyphs">3 day IL-7 pre-activation</text>
<text x="223.6" y="41.7" textLength="107.0" lengthAdjust="spacingAndGlyphs">+ single transduction</text>
<text x="376.4" y="30.3" textLength="123" lengthAdjust="spacingAndGlyphs">6 day IL-7 pre-activation</text>
<text x="376.6" y="41.8" textLength="107.6" lengthAdjust="spacingAndGlyphs">+ single transduction</text>
<text x="274.8" y="394.8" textLength="27.3" lengthAdjust="spacingAndGlyphs">EGFP</text>
<text transform="translate(9.1,198.6) rotate(-90)" textLength="41.4" lengthAdjust="spacingAndGlyphs">CD45RA</text>
<text transform="translate(35.2,141.7) rotate(-90)" textLength="46.4" lengthAdjust="spacingAndGlyphs">G/IL7SUx</text>
<text transform="translate(35.2,305.6) rotate(-90)" textLength="37" lengthAdjust="spacingAndGlyphs">G+rIL-7</text>
</g>
<path d="M17.2 48V372.3" stroke="#111" stroke-width="1.5"/>
<path d="M17.2 37L12.9 48.7H22.1Z" fill="#111"/>
<path d="M50.2 382.3H508" stroke="#111" stroke-width="1.5"/>
<path d="M518.7 382.5L507.1 378.3V386.7Z" fill="#111"/>
</svg></body></html>
